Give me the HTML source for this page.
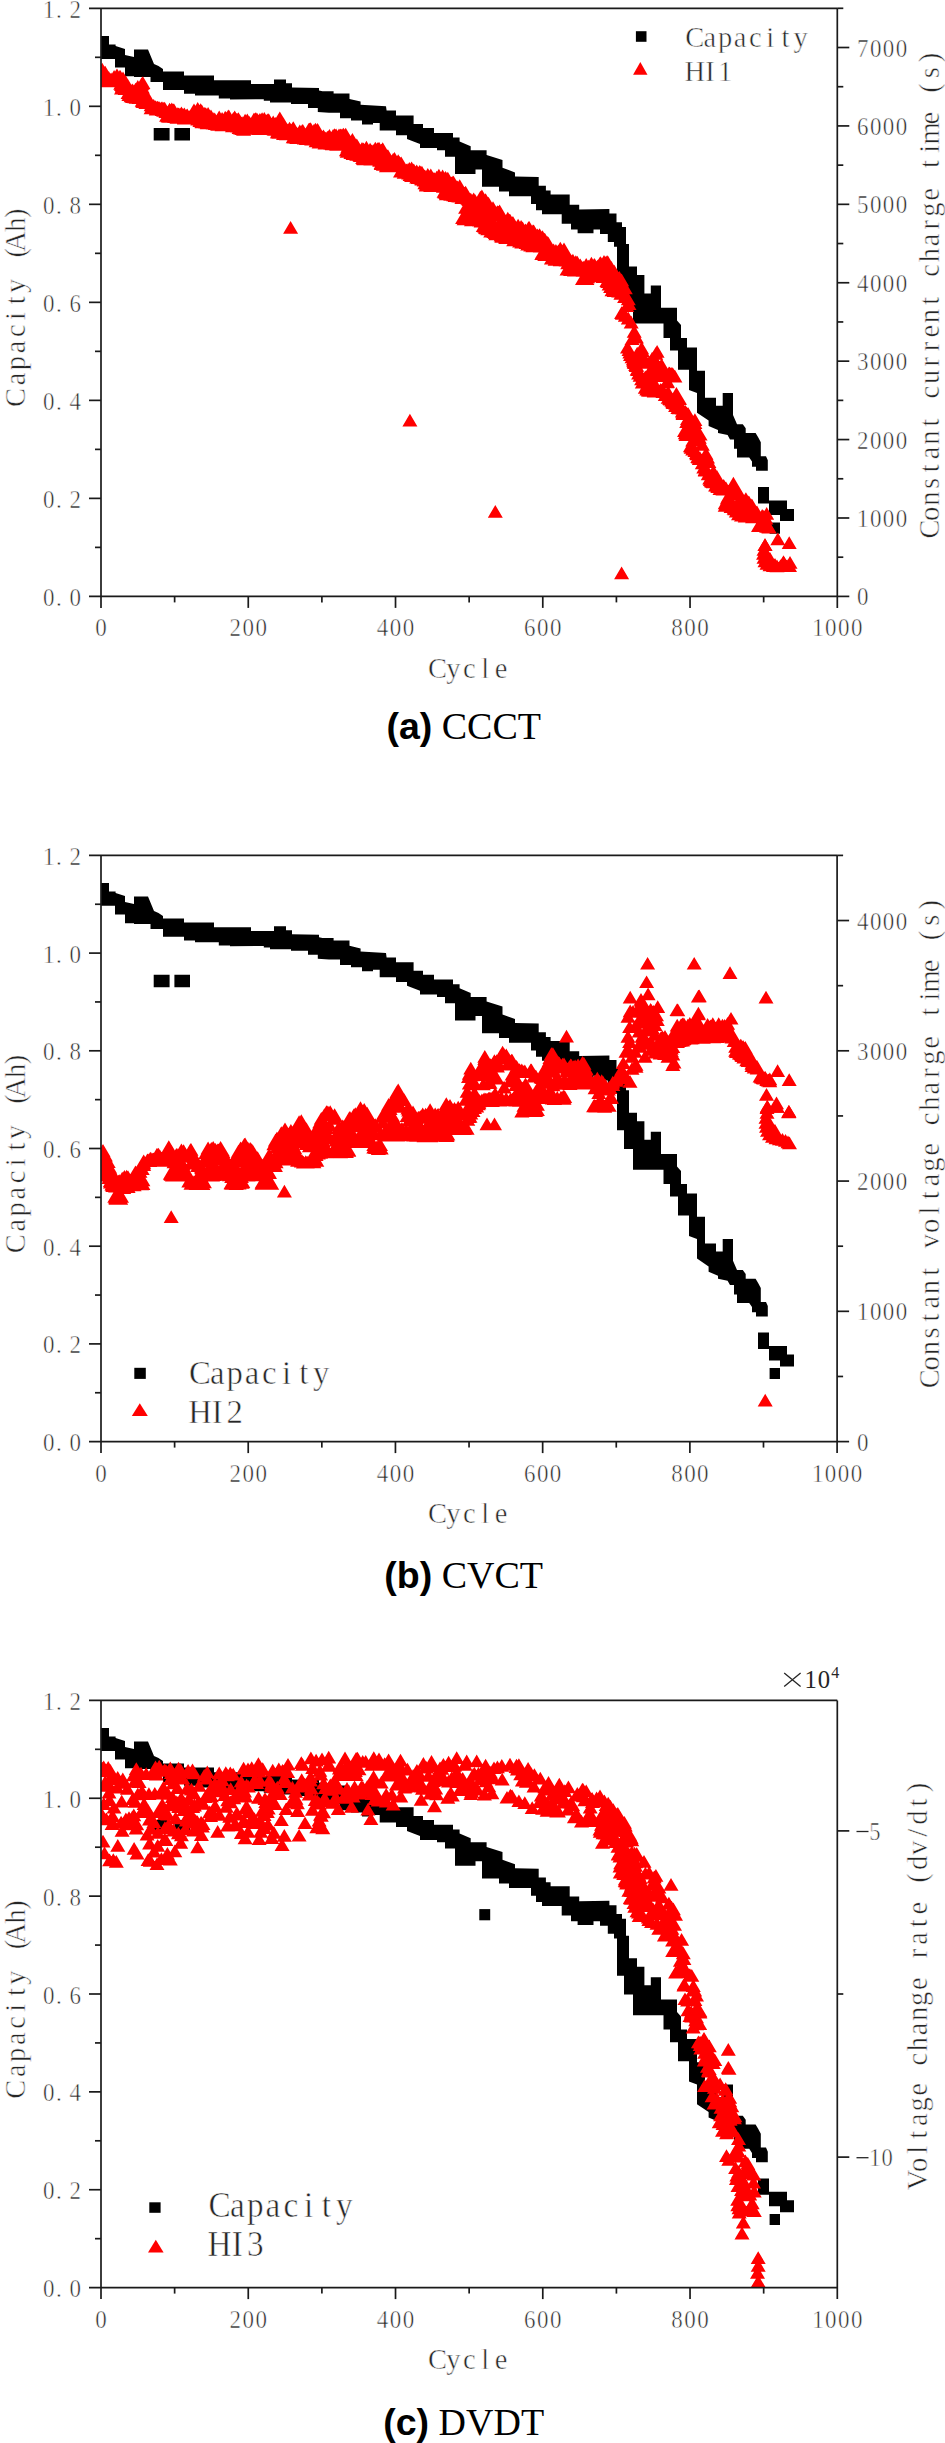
<!DOCTYPE html>
<html><head><meta charset="utf-8"><style>
html,body{margin:0;padding:0;background:#fff;width:945px;height:2443px;overflow:hidden}
text{white-space:pre} .t{stroke:#fff;stroke-width:0.55px;paint-order:fill stroke}
</style></head><body>
<svg width="945" height="2443" viewBox="0 0 945 2443" style="display:block">
<rect width="945" height="2443" fill="#fff"/>
<clipPath id="cp0"><rect x="101" y="8.3" width="736.3" height="588.1"/></clipPath>
<g clip-path="url(#cp0)">
<polygon points="101.0,35.9 109.0,35.9 109.0,44.6 115.6,44.6 115.6,46.0 125.0,49.0 125.0,55.0 134.0,57.0 134.0,49.4 148.0,49.4 154.0,64.0 158.5,66.0 163.0,69.0 163.0,71.6 184.0,71.6 184.0,75.5 214.0,75.5 214.0,80.3 251.0,80.3 251.0,84.0 274.0,84.0 274.0,79.4 286.0,79.4 286.0,83.3 292.0,83.3 292.0,87.5 319.0,88.0 319.0,90.5 322.5,91.3 333.6,91.3 333.6,93.6 349.5,93.6 349.5,99.0 360.6,101.6 360.6,104.8 386.0,106.3 386.6,110.6 396.0,110.6 396.0,115.4 413.6,115.4 413.6,124.0 423.0,124.0 423.0,128.0 434.0,128.0 434.0,132.9 453.0,132.9 453.0,137.6 459.6,137.6 459.6,141.6 470.7,146.3 470.7,150.3 486.6,150.3 486.6,155.0 502.5,160.0 502.5,167.8 515.0,172.5 515.0,176.5 538.7,177.0 538.7,185.7 545.9,185.7 545.9,190.5 550.6,190.5 550.6,194.4 569.7,194.4 569.7,204.8 579.2,204.8 579.2,209.5 609.4,209.0 609.4,213.5 616.5,213.5 616.5,222.2 622.0,222.2 622.0,227.0 626.0,227.0 626.0,244.0 629.0,244.0 629.0,266.5 637.0,266.5 637.0,275.0 644.4,275.0 644.4,293.5 650.8,293.5 650.8,285.6 661.0,285.6 661.0,307.8 677.0,307.8 677.0,320.5 681.0,325.0 681.0,338.0 687.0,338.0 687.0,347.5 697.0,347.5 697.0,370.8 705.0,370.8 705.0,397.8 716.0,397.8 716.0,405.7 722.7,405.7 722.7,393.0 733.0,393.0 733.0,415.0 737.0,424.2 742.8,424.2 745.7,428.3 745.7,433.0 755.6,433.0 758.0,437.0 760.8,442.3 760.8,456.2 766.0,456.2 767.8,460.3 767.8,470.8 756.0,470.8 756.0,466.7 752.0,466.7 752.0,461.5 749.2,457.4 737.0,457.4 737.0,448.7 734.0,448.7 734.0,439.4 730.0,439.4 727.6,435.0 718.0,433.0 718.0,430.0 708.6,426.0 708.6,420.6 697.0,412.7 697.0,393.0 689.0,390.0 689.0,369.7 678.0,369.7 678.0,350.6 670.0,350.6 670.0,338.0 663.5,338.0 663.5,323.6 633.0,323.6 633.0,303.0 624.0,303.0 624.0,284.0 617.0,284.0 617.0,246.8 614.0,246.8 614.0,242.0 607.8,242.0 607.8,234.0 600.0,234.0 600.0,229.4 593.5,229.4 593.5,233.3 577.6,233.3 577.6,229.4 571.0,229.4 571.0,223.8 561.7,223.8 561.7,214.3 542.0,214.3 542.0,210.3 536.0,210.3 536.0,204.0 531.0,204.0 531.0,196.3 509.0,196.3 509.0,191.6 499.0,191.6 499.0,186.8 482.0,186.8 482.0,169.4 475.5,169.4 475.5,174.0 455.0,174.0 455.0,156.7 445.0,156.7 445.0,150.3 437.0,150.3 437.0,148.0 420.0,148.0 420.0,144.0 407.0,139.0 407.0,135.2 396.0,135.2 396.0,130.5 379.7,130.5 379.7,123.0 373.0,123.0 373.0,124.6 362.0,124.6 362.0,120.6 351.0,120.6 351.0,118.3 340.0,118.3 340.0,112.7 329.0,112.7 317.8,112.0 317.8,108.0 308.0,108.0 308.0,104.0 291.0,104.0 291.0,102.4 270.0,102.4 270.0,100.8 263.8,100.8 263.8,99.2 230.0,99.4 230.0,98.6 218.8,98.6 218.8,95.4 195.0,95.4 195.0,93.8 184.0,93.8 184.0,90.0 163.0,90.0 163.0,82.0 150.5,82.0 150.5,77.0 134.0,77.0 134.0,76.3 125.0,76.3 125.0,67.6 115.0,67.6 115.0,58.9 101.0,58.9" fill="#000"/>
<path d="M153.7 128.0H169.6V140.6H153.7zM174.4 128.0H190.0V140.6H174.4zM758.0 487.0H769.0V503.4H758.0zM769.0 500.5H787.0V515.0H769.0zM780.0 509.0H794.0V521.0H780.0zM769.6 522.6H780.0V533.7H769.6z" fill="#000"/>
<polygon points="101.0,64.4 104.0,62.9 105.0,64.4 105.3,67.6 109.0,67.6 109.3,69.2 120.4,69.2 127.0,77.0 133.0,85.0 142.0,74.8 145.8,83.5 150.5,96.0 150.5,99.0 171.0,103.0 172.6,100.0 174.4,104.0 190.0,109.0 195.0,101.0 200.0,104.0 206.0,107.0 221.0,112.0 227.0,109.0 238.0,112.0 245.0,114.0 256.0,112.0 272.0,113.5 276.5,116.7 281.0,110.3 283.0,118.0 292.0,123.0 294.0,119.0 296.0,126.0 303.5,122.0 318.0,121.4 318.0,129.4 326.0,129.4 335.0,128.0 346.0,127.8 359.0,140.5 372.0,142.0 383.0,140.5 385.0,144.8 388.0,150.0 401.0,153.5 417.0,163.0 432.6,170.0 440.0,168.6 448.5,171.0 461.0,180.5 472.0,193.0 483.0,187.6 499.0,204.0 512.0,215.0 523.0,221.7 530.0,218.0 533.0,223.0 542.7,231.0 555.4,243.7 566.5,239.0 569.0,251.6 574.4,254.8 584.0,260.0 590.0,256.0 598.0,258.0 601.0,253.0 605.0,253.0 617.0,267.5 630.0,282.0 623.0,285.0 630.0,300.0 634.0,309.0 633.8,324.8 648.0,356.5 658.4,343.8 664.0,367.6 674.3,366.0 680.0,375.6 680.0,399.0 688.0,408.0 695.0,413.0 699.0,418.0 703.0,435.0 708.6,454.0 716.0,470.0 724.4,479.4 730.8,465.9 734.0,479.4 745.0,490.0 753.0,499.0 760.0,511.0 766.5,503.0 772.0,514.0 770.5,533.8 770.5,533.8 753.0,532.0 753.0,524.0 735.6,522.0 727.6,513.0 719.7,512.0 719.7,498.4 704.0,485.7 696.0,466.7 686.0,454.0 680.0,438.0 680.0,423.0 668.7,409.0 657.6,397.8 642.0,397.8 637.0,387.0 632.0,374.0 624.0,357.0 621.0,350.0 621.0,322.0 616.0,321.0 616.0,298.0 606.0,293.5 600.0,284.0 593.5,280.0 593.5,285.0 577.6,285.0 577.6,277.0 562.0,277.0 562.0,267.5 546.0,266.0 546.0,261.0 536.0,261.0 536.0,253.0 530.0,253.0 515.0,248.0 500.0,244.0 488.0,239.0 478.6,233.0 478.6,228.0 458.0,225.0 458.0,204.3 439.0,199.5 439.0,193.0 420.0,191.6 420.0,186.8 407.0,182.0 396.0,178.0 394.5,173.3 376.5,172.0 376.5,167.5 357.5,165.9 357.5,162.7 341.6,158.0 341.6,151.6 329.0,150.8 311.4,148.4 311.4,146.0 287.6,143.7 287.6,141.0 271.7,139.0 271.7,137.3 265.4,135.0 249.5,135.0 249.5,136.5 240.0,136.5 230.0,132.7 214.0,131.0 195.0,128.0 195.0,126.0 161.7,123.0 161.7,118.0 147.4,113.7 147.4,111.0 135.0,107.0 134.7,105.7 125.4,102.5 120.4,96.0 115.0,96.0 114.8,87.5 101.0,87.5" fill="#f00" opacity="0"/>
<path d="M101.5 69.9l7.5 12.7h-15.0zM102.2 62.8l7.5 12.7h-15.0zM103.0 66.1l7.5 12.7h-15.0zM103.0 72.7l7.5 12.7h-15.0zM103.7 70.6l7.5 12.7h-15.0zM103.7 65.2l7.5 12.7h-15.0zM104.5 71.9l7.5 12.7h-15.0zM104.5 72.9l7.5 12.7h-15.0zM105.2 65.7l7.5 12.7h-15.0zM105.9 72.8l7.5 12.7h-15.0zM107.4 74.3l7.5 12.7h-15.0zM107.4 74.5l7.5 12.7h-15.0zM108.2 74.6l7.5 12.7h-15.0zM108.9 71.3l7.5 12.7h-15.0zM108.9 73.3l7.5 12.7h-15.0zM111.1 72.5l7.5 12.7h-15.0zM112.6 73.9l7.5 12.7h-15.0zM112.6 74.6l7.5 12.7h-15.0zM113.3 72.8l7.5 12.7h-15.0zM114.1 70.0l7.5 12.7h-15.0zM114.1 72.0l7.5 12.7h-15.0zM114.8 72.6l7.5 12.7h-15.0zM114.8 71.8l7.5 12.7h-15.0zM114.8 72.6l7.5 12.7h-15.0zM116.3 69.6l7.5 12.7h-15.0zM116.3 74.3l7.5 12.7h-15.0zM117.0 72.6l7.5 12.7h-15.0zM117.0 68.4l7.5 12.7h-15.0zM117.8 74.6l7.5 12.7h-15.0zM117.8 73.6l7.5 12.7h-15.0zM118.5 72.8l7.5 12.7h-15.0zM119.3 73.7l7.5 12.7h-15.0zM120.0 69.7l7.5 12.7h-15.0zM120.7 77.1l7.5 12.7h-15.0zM120.7 70.7l7.5 12.7h-15.0zM121.5 78.4l7.5 12.7h-15.0zM121.5 81.7l7.5 12.7h-15.0zM122.2 79.5l7.5 12.7h-15.0zM123.0 71.5l7.5 12.7h-15.0zM123.7 74.4l7.5 12.7h-15.0zM124.4 77.4l7.5 12.7h-15.0zM124.4 74.8l7.5 12.7h-15.0zM125.2 78.2l7.5 12.7h-15.0zM125.2 82.2l7.5 12.7h-15.0zM125.9 75.8l7.5 12.7h-15.0zM126.7 78.3l7.5 12.7h-15.0zM127.4 80.4l7.5 12.7h-15.0zM128.1 86.2l7.5 12.7h-15.0zM128.1 79.2l7.5 12.7h-15.0zM128.9 88.2l7.5 12.7h-15.0zM129.6 82.2l7.5 12.7h-15.0zM130.4 83.8l7.5 12.7h-15.0zM131.1 89.5l7.5 12.7h-15.0zM131.8 84.2l7.5 12.7h-15.0zM131.8 89.4l7.5 12.7h-15.0zM132.6 90.2l7.5 12.7h-15.0zM132.6 83.5l7.5 12.7h-15.0zM133.3 88.6l7.5 12.7h-15.0zM134.1 86.5l7.5 12.7h-15.0zM134.8 90.6l7.5 12.7h-15.0zM135.5 82.8l7.5 12.7h-15.0zM135.5 89.7l7.5 12.7h-15.0zM136.3 91.0l7.5 12.7h-15.0zM137.8 89.2l7.5 12.7h-15.0zM137.8 80.1l7.5 12.7h-15.0zM138.5 84.6l7.5 12.7h-15.0zM139.2 81.8l7.5 12.7h-15.0zM139.2 91.2l7.5 12.7h-15.0zM140.0 80.5l7.5 12.7h-15.0zM140.7 90.9l7.5 12.7h-15.0zM141.5 77.6l7.5 12.7h-15.0zM142.2 80.7l7.5 12.7h-15.0zM142.2 76.9l7.5 12.7h-15.0zM142.2 94.0l7.5 12.7h-15.0zM142.9 76.2l7.5 12.7h-15.0zM142.9 95.1l7.5 12.7h-15.0zM143.7 95.2l7.5 12.7h-15.0zM143.7 94.4l7.5 12.7h-15.0zM144.4 85.2l7.5 12.7h-15.0zM145.2 95.3l7.5 12.7h-15.0zM145.9 90.8l7.5 12.7h-15.0zM145.9 96.2l7.5 12.7h-15.0zM146.6 90.2l7.5 12.7h-15.0zM147.4 95.0l7.5 12.7h-15.0zM147.4 95.9l7.5 12.7h-15.0zM148.1 94.9l7.5 12.7h-15.0zM148.9 93.0l7.5 12.7h-15.0zM149.6 95.3l7.5 12.7h-15.0zM151.1 98.6l7.5 12.7h-15.0zM151.1 101.6l7.5 12.7h-15.0zM152.6 101.3l7.5 12.7h-15.0zM152.6 100.8l7.5 12.7h-15.0zM153.3 99.0l7.5 12.7h-15.0zM153.3 99.2l7.5 12.7h-15.0zM154.0 99.7l7.5 12.7h-15.0zM154.0 99.5l7.5 12.7h-15.0zM155.5 100.2l7.5 12.7h-15.0zM156.3 101.7l7.5 12.7h-15.0zM156.3 102.9l7.5 12.7h-15.0zM157.0 101.0l7.5 12.7h-15.0zM157.7 100.8l7.5 12.7h-15.0zM157.7 102.5l7.5 12.7h-15.0zM158.5 101.4l7.5 12.7h-15.0zM158.5 101.9l7.5 12.7h-15.0zM159.2 102.0l7.5 12.7h-15.0zM159.2 101.3l7.5 12.7h-15.0zM160.0 102.6l7.5 12.7h-15.0zM160.7 102.3l7.5 12.7h-15.0zM161.4 101.4l7.5 12.7h-15.0zM162.2 102.5l7.5 12.7h-15.0zM162.2 103.4l7.5 12.7h-15.0zM162.9 103.1l7.5 12.7h-15.0zM162.9 101.6l7.5 12.7h-15.0zM163.7 104.1l7.5 12.7h-15.0zM163.7 102.4l7.5 12.7h-15.0zM164.4 101.8l7.5 12.7h-15.0zM164.4 103.6l7.5 12.7h-15.0zM165.1 102.4l7.5 12.7h-15.0zM165.1 103.0l7.5 12.7h-15.0zM165.9 105.2l7.5 12.7h-15.0zM166.6 109.0l7.5 12.7h-15.0zM167.4 108.1l7.5 12.7h-15.0zM167.4 108.6l7.5 12.7h-15.0zM168.1 109.9l7.5 12.7h-15.0zM169.6 102.7l7.5 12.7h-15.0zM169.6 110.1l7.5 12.7h-15.0zM171.1 109.7l7.5 12.7h-15.0zM171.1 104.0l7.5 12.7h-15.0zM171.8 102.4l7.5 12.7h-15.0zM171.8 109.9l7.5 12.7h-15.0zM172.5 110.0l7.5 12.7h-15.0zM173.3 106.1l7.5 12.7h-15.0zM173.3 103.4l7.5 12.7h-15.0zM174.0 107.4l7.5 12.7h-15.0zM174.0 103.5l7.5 12.7h-15.0zM174.8 110.3l7.5 12.7h-15.0zM174.8 108.7l7.5 12.7h-15.0zM175.5 109.6l7.5 12.7h-15.0zM175.5 109.4l7.5 12.7h-15.0zM176.2 109.3l7.5 12.7h-15.0zM177.0 111.0l7.5 12.7h-15.0zM177.7 107.3l7.5 12.7h-15.0zM178.5 107.5l7.5 12.7h-15.0zM179.2 110.8l7.5 12.7h-15.0zM179.2 109.1l7.5 12.7h-15.0zM179.9 107.7l7.5 12.7h-15.0zM180.7 110.8l7.5 12.7h-15.0zM181.4 106.6l7.5 12.7h-15.0zM182.2 110.4l7.5 12.7h-15.0zM182.2 110.8l7.5 12.7h-15.0zM182.9 108.2l7.5 12.7h-15.0zM182.9 109.9l7.5 12.7h-15.0zM183.6 108.6l7.5 12.7h-15.0zM183.6 109.9l7.5 12.7h-15.0zM184.4 111.2l7.5 12.7h-15.0zM184.4 107.6l7.5 12.7h-15.0zM184.4 111.7l7.5 12.7h-15.0zM185.1 111.5l7.5 12.7h-15.0zM185.9 110.9l7.5 12.7h-15.0zM186.6 108.9l7.5 12.7h-15.0zM186.6 110.8l7.5 12.7h-15.0zM187.3 108.4l7.5 12.7h-15.0zM188.1 111.5l7.5 12.7h-15.0zM188.8 110.7l7.5 12.7h-15.0zM189.6 110.3l7.5 12.7h-15.0zM190.3 110.9l7.5 12.7h-15.0zM190.3 110.5l7.5 12.7h-15.0zM191.0 111.4l7.5 12.7h-15.0zM191.8 109.6l7.5 12.7h-15.0zM191.8 107.7l7.5 12.7h-15.0zM192.5 109.3l7.5 12.7h-15.0zM193.3 110.9l7.5 12.7h-15.0zM193.3 111.8l7.5 12.7h-15.0zM194.0 103.4l7.5 12.7h-15.0zM194.7 111.4l7.5 12.7h-15.0zM194.7 110.7l7.5 12.7h-15.0zM197.0 111.2l7.5 12.7h-15.0zM197.7 103.8l7.5 12.7h-15.0zM197.7 102.0l7.5 12.7h-15.0zM197.7 112.7l7.5 12.7h-15.0zM198.4 110.2l7.5 12.7h-15.0zM198.4 111.6l7.5 12.7h-15.0zM199.2 108.0l7.5 12.7h-15.0zM199.2 112.8l7.5 12.7h-15.0zM199.9 114.4l7.5 12.7h-15.0zM200.7 111.0l7.5 12.7h-15.0zM200.7 103.3l7.5 12.7h-15.0zM200.7 113.5l7.5 12.7h-15.0zM201.4 109.7l7.5 12.7h-15.0zM201.4 104.7l7.5 12.7h-15.0zM201.4 114.6l7.5 12.7h-15.0zM202.1 105.4l7.5 12.7h-15.0zM202.1 104.9l7.5 12.7h-15.0zM202.1 115.6l7.5 12.7h-15.0zM202.9 110.1l7.5 12.7h-15.0zM203.6 109.9l7.5 12.7h-15.0zM203.6 113.5l7.5 12.7h-15.0zM204.4 107.1l7.5 12.7h-15.0zM204.4 114.5l7.5 12.7h-15.0zM205.1 107.7l7.5 12.7h-15.0zM205.1 109.2l7.5 12.7h-15.0zM205.1 114.2l7.5 12.7h-15.0zM205.8 115.7l7.5 12.7h-15.0zM205.8 107.2l7.5 12.7h-15.0zM205.8 114.3l7.5 12.7h-15.0zM206.6 114.7l7.5 12.7h-15.0zM207.3 116.5l7.5 12.7h-15.0zM208.1 109.2l7.5 12.7h-15.0zM208.1 107.0l7.5 12.7h-15.0zM208.8 111.8l7.5 12.7h-15.0zM208.8 114.8l7.5 12.7h-15.0zM209.5 116.1l7.5 12.7h-15.0zM210.3 116.3l7.5 12.7h-15.0zM211.0 109.6l7.5 12.7h-15.0zM211.0 115.4l7.5 12.7h-15.0zM211.8 111.6l7.5 12.7h-15.0zM213.2 112.8l7.5 12.7h-15.0zM213.2 112.3l7.5 12.7h-15.0zM213.2 116.8l7.5 12.7h-15.0zM214.0 115.4l7.5 12.7h-15.0zM214.7 113.7l7.5 12.7h-15.0zM214.7 112.5l7.5 12.7h-15.0zM214.7 116.5l7.5 12.7h-15.0zM215.5 117.2l7.5 12.7h-15.0zM217.7 118.0l7.5 12.7h-15.0zM218.4 118.0l7.5 12.7h-15.0zM218.4 113.0l7.5 12.7h-15.0zM218.4 118.1l7.5 12.7h-15.0zM219.2 110.6l7.5 12.7h-15.0zM219.2 116.8l7.5 12.7h-15.0zM219.9 111.8l7.5 12.7h-15.0zM220.6 115.6l7.5 12.7h-15.0zM221.4 118.1l7.5 12.7h-15.0zM222.1 112.0l7.5 12.7h-15.0zM222.1 118.6l7.5 12.7h-15.0zM222.9 114.5l7.5 12.7h-15.0zM222.9 117.6l7.5 12.7h-15.0zM223.6 117.5l7.5 12.7h-15.0zM224.3 117.4l7.5 12.7h-15.0zM225.1 111.0l7.5 12.7h-15.0zM225.8 111.3l7.5 12.7h-15.0zM225.8 117.3l7.5 12.7h-15.0zM226.6 112.7l7.5 12.7h-15.0zM226.6 117.8l7.5 12.7h-15.0zM228.0 110.0l7.5 12.7h-15.0zM228.8 113.8l7.5 12.7h-15.0zM228.8 109.6l7.5 12.7h-15.0zM228.8 117.1l7.5 12.7h-15.0zM230.3 118.5l7.5 12.7h-15.0zM231.7 117.6l7.5 12.7h-15.0zM232.5 114.2l7.5 12.7h-15.0zM232.5 119.5l7.5 12.7h-15.0zM233.2 112.3l7.5 12.7h-15.0zM234.0 117.6l7.5 12.7h-15.0zM234.0 112.1l7.5 12.7h-15.0zM234.0 118.1l7.5 12.7h-15.0zM234.7 110.6l7.5 12.7h-15.0zM234.7 119.0l7.5 12.7h-15.0zM235.4 112.7l7.5 12.7h-15.0zM236.9 113.2l7.5 12.7h-15.0zM236.9 113.0l7.5 12.7h-15.0zM236.9 119.6l7.5 12.7h-15.0zM237.7 119.8l7.5 12.7h-15.0zM237.7 113.2l7.5 12.7h-15.0zM238.4 112.3l7.5 12.7h-15.0zM239.1 113.6l7.5 12.7h-15.0zM239.1 121.3l7.5 12.7h-15.0zM239.9 114.5l7.5 12.7h-15.0zM239.9 119.6l7.5 12.7h-15.0zM240.6 121.9l7.5 12.7h-15.0zM241.4 117.1l7.5 12.7h-15.0zM241.4 121.2l7.5 12.7h-15.0zM242.1 116.2l7.5 12.7h-15.0zM242.1 116.2l7.5 12.7h-15.0zM242.1 122.2l7.5 12.7h-15.0zM242.8 117.6l7.5 12.7h-15.0zM243.6 123.1l7.5 12.7h-15.0zM244.3 121.7l7.5 12.7h-15.0zM245.1 113.8l7.5 12.7h-15.0zM245.1 120.7l7.5 12.7h-15.0zM245.8 120.6l7.5 12.7h-15.0zM247.3 118.1l7.5 12.7h-15.0zM247.3 113.5l7.5 12.7h-15.0zM248.0 121.4l7.5 12.7h-15.0zM248.8 120.5l7.5 12.7h-15.0zM249.5 116.1l7.5 12.7h-15.0zM249.5 120.2l7.5 12.7h-15.0zM251.0 118.3l7.5 12.7h-15.0zM251.0 121.6l7.5 12.7h-15.0zM251.7 120.6l7.5 12.7h-15.0zM252.5 117.6l7.5 12.7h-15.0zM253.2 116.1l7.5 12.7h-15.0zM253.2 121.3l7.5 12.7h-15.0zM253.9 112.7l7.5 12.7h-15.0zM254.7 113.2l7.5 12.7h-15.0zM254.7 122.0l7.5 12.7h-15.0zM255.4 122.1l7.5 12.7h-15.0zM255.4 112.3l7.5 12.7h-15.0zM255.4 122.1l7.5 12.7h-15.0zM256.2 119.7l7.5 12.7h-15.0zM256.9 112.5l7.5 12.7h-15.0zM257.6 114.9l7.5 12.7h-15.0zM257.6 120.9l7.5 12.7h-15.0zM258.4 114.6l7.5 12.7h-15.0zM258.4 120.0l7.5 12.7h-15.0zM259.1 122.2l7.5 12.7h-15.0zM259.9 112.9l7.5 12.7h-15.0zM259.9 121.8l7.5 12.7h-15.0zM260.6 119.9l7.5 12.7h-15.0zM261.3 116.2l7.5 12.7h-15.0zM261.3 113.4l7.5 12.7h-15.0zM262.1 113.8l7.5 12.7h-15.0zM262.1 112.2l7.5 12.7h-15.0zM262.1 120.0l7.5 12.7h-15.0zM262.8 114.5l7.5 12.7h-15.0zM263.6 113.5l7.5 12.7h-15.0zM264.3 119.5l7.5 12.7h-15.0zM264.3 111.9l7.5 12.7h-15.0zM264.3 120.4l7.5 12.7h-15.0zM265.0 121.0l7.5 12.7h-15.0zM265.8 117.9l7.5 12.7h-15.0zM265.8 120.8l7.5 12.7h-15.0zM266.5 119.9l7.5 12.7h-15.0zM267.3 113.4l7.5 12.7h-15.0zM267.3 122.2l7.5 12.7h-15.0zM268.7 113.3l7.5 12.7h-15.0zM269.5 120.4l7.5 12.7h-15.0zM270.2 118.2l7.5 12.7h-15.0zM270.2 120.9l7.5 12.7h-15.0zM271.0 118.1l7.5 12.7h-15.0zM271.0 121.8l7.5 12.7h-15.0zM272.4 120.8l7.5 12.7h-15.0zM273.2 115.5l7.5 12.7h-15.0zM273.9 120.6l7.5 12.7h-15.0zM273.9 118.7l7.5 12.7h-15.0zM273.9 122.6l7.5 12.7h-15.0zM274.7 123.0l7.5 12.7h-15.0zM274.7 122.9l7.5 12.7h-15.0zM275.4 117.0l7.5 12.7h-15.0zM276.1 119.7l7.5 12.7h-15.0zM276.1 122.1l7.5 12.7h-15.0zM276.9 118.4l7.5 12.7h-15.0zM277.6 125.0l7.5 12.7h-15.0zM277.6 125.7l7.5 12.7h-15.0zM278.4 119.0l7.5 12.7h-15.0zM279.1 126.1l7.5 12.7h-15.0zM279.8 121.1l7.5 12.7h-15.0zM279.8 111.4l7.5 12.7h-15.0zM279.8 126.1l7.5 12.7h-15.0zM280.6 119.5l7.5 12.7h-15.0zM280.6 125.0l7.5 12.7h-15.0zM282.1 123.0l7.5 12.7h-15.0zM282.1 117.8l7.5 12.7h-15.0zM282.1 125.8l7.5 12.7h-15.0zM282.8 117.2l7.5 12.7h-15.0zM283.5 117.4l7.5 12.7h-15.0zM283.5 127.2l7.5 12.7h-15.0zM284.3 119.1l7.5 12.7h-15.0zM284.3 126.0l7.5 12.7h-15.0zM285.0 124.3l7.5 12.7h-15.0zM285.0 127.2l7.5 12.7h-15.0zM285.8 126.4l7.5 12.7h-15.0zM286.5 127.6l7.5 12.7h-15.0zM287.2 123.5l7.5 12.7h-15.0zM288.0 123.7l7.5 12.7h-15.0zM288.7 123.8l7.5 12.7h-15.0zM288.7 123.4l7.5 12.7h-15.0zM288.7 125.5l7.5 12.7h-15.0zM289.5 125.2l7.5 12.7h-15.0zM289.5 121.8l7.5 12.7h-15.0zM289.5 125.8l7.5 12.7h-15.0zM290.2 123.7l7.5 12.7h-15.0zM290.9 123.6l7.5 12.7h-15.0zM290.9 125.9l7.5 12.7h-15.0zM290.9 126.8l7.5 12.7h-15.0zM293.2 121.3l7.5 12.7h-15.0zM293.2 130.6l7.5 12.7h-15.0zM293.9 122.3l7.5 12.7h-15.0zM294.6 130.4l7.5 12.7h-15.0zM294.6 130.8l7.5 12.7h-15.0zM295.4 127.6l7.5 12.7h-15.0zM296.1 126.9l7.5 12.7h-15.0zM296.1 130.9l7.5 12.7h-15.0zM296.9 127.1l7.5 12.7h-15.0zM296.9 131.2l7.5 12.7h-15.0zM297.6 128.0l7.5 12.7h-15.0zM297.6 129.8l7.5 12.7h-15.0zM298.3 129.3l7.5 12.7h-15.0zM298.3 129.7l7.5 12.7h-15.0zM299.1 128.3l7.5 12.7h-15.0zM299.8 124.4l7.5 12.7h-15.0zM300.6 128.3l7.5 12.7h-15.0zM300.6 127.1l7.5 12.7h-15.0zM301.3 130.3l7.5 12.7h-15.0zM301.3 129.4l7.5 12.7h-15.0zM302.0 124.4l7.5 12.7h-15.0zM302.0 130.1l7.5 12.7h-15.0zM302.8 124.0l7.5 12.7h-15.0zM303.5 127.4l7.5 12.7h-15.0zM303.5 130.9l7.5 12.7h-15.0zM304.3 131.9l7.5 12.7h-15.0zM305.0 130.0l7.5 12.7h-15.0zM306.5 132.4l7.5 12.7h-15.0zM307.2 131.3l7.5 12.7h-15.0zM308.0 124.3l7.5 12.7h-15.0zM308.7 123.0l7.5 12.7h-15.0zM308.7 130.8l7.5 12.7h-15.0zM309.4 126.1l7.5 12.7h-15.0zM309.4 122.8l7.5 12.7h-15.0zM310.2 122.3l7.5 12.7h-15.0zM310.2 131.5l7.5 12.7h-15.0zM310.9 122.8l7.5 12.7h-15.0zM311.7 132.7l7.5 12.7h-15.0zM312.4 125.2l7.5 12.7h-15.0zM312.4 130.6l7.5 12.7h-15.0zM313.1 126.6l7.5 12.7h-15.0zM313.1 125.4l7.5 12.7h-15.0zM313.1 131.6l7.5 12.7h-15.0zM313.9 123.9l7.5 12.7h-15.0zM313.9 125.5l7.5 12.7h-15.0zM314.6 131.4l7.5 12.7h-15.0zM315.4 122.8l7.5 12.7h-15.0zM316.1 132.3l7.5 12.7h-15.0zM316.1 123.8l7.5 12.7h-15.0zM316.1 134.5l7.5 12.7h-15.0zM316.8 134.0l7.5 12.7h-15.0zM316.8 134.1l7.5 12.7h-15.0zM317.6 133.1l7.5 12.7h-15.0zM317.6 123.1l7.5 12.7h-15.0zM318.3 129.7l7.5 12.7h-15.0zM318.3 131.6l7.5 12.7h-15.0zM318.3 134.1l7.5 12.7h-15.0zM319.1 135.8l7.5 12.7h-15.0zM319.8 129.7l7.5 12.7h-15.0zM320.5 129.2l7.5 12.7h-15.0zM322.0 133.3l7.5 12.7h-15.0zM322.8 130.4l7.5 12.7h-15.0zM323.5 129.5l7.5 12.7h-15.0zM323.5 132.3l7.5 12.7h-15.0zM323.5 135.6l7.5 12.7h-15.0zM324.2 135.1l7.5 12.7h-15.0zM325.0 131.5l7.5 12.7h-15.0zM325.0 136.9l7.5 12.7h-15.0zM325.7 131.9l7.5 12.7h-15.0zM325.7 135.0l7.5 12.7h-15.0zM326.5 135.6l7.5 12.7h-15.0zM327.2 131.0l7.5 12.7h-15.0zM327.9 131.0l7.5 12.7h-15.0zM327.9 136.6l7.5 12.7h-15.0zM329.4 129.1l7.5 12.7h-15.0zM329.4 129.6l7.5 12.7h-15.0zM329.4 136.1l7.5 12.7h-15.0zM330.2 135.5l7.5 12.7h-15.0zM330.9 137.0l7.5 12.7h-15.0zM331.6 135.9l7.5 12.7h-15.0zM331.6 135.5l7.5 12.7h-15.0zM332.4 137.6l7.5 12.7h-15.0zM333.1 129.1l7.5 12.7h-15.0zM333.9 133.1l7.5 12.7h-15.0zM333.9 135.8l7.5 12.7h-15.0zM334.6 128.2l7.5 12.7h-15.0zM334.6 136.4l7.5 12.7h-15.0zM335.3 136.5l7.5 12.7h-15.0zM336.1 132.8l7.5 12.7h-15.0zM336.1 128.5l7.5 12.7h-15.0zM336.1 136.7l7.5 12.7h-15.0zM336.8 137.9l7.5 12.7h-15.0zM336.8 131.8l7.5 12.7h-15.0zM336.8 138.1l7.5 12.7h-15.0zM338.3 134.5l7.5 12.7h-15.0zM338.3 130.3l7.5 12.7h-15.0zM338.3 136.0l7.5 12.7h-15.0zM339.0 128.6l7.5 12.7h-15.0zM339.8 135.4l7.5 12.7h-15.0zM339.8 137.3l7.5 12.7h-15.0zM340.5 128.4l7.5 12.7h-15.0zM341.3 133.0l7.5 12.7h-15.0zM341.3 128.7l7.5 12.7h-15.0zM342.0 138.1l7.5 12.7h-15.0zM342.7 128.5l7.5 12.7h-15.0zM342.7 129.8l7.5 12.7h-15.0zM343.5 129.8l7.5 12.7h-15.0zM343.5 127.7l7.5 12.7h-15.0zM343.5 138.1l7.5 12.7h-15.0zM344.2 137.7l7.5 12.7h-15.0zM345.0 135.9l7.5 12.7h-15.0zM345.0 137.0l7.5 12.7h-15.0zM345.7 130.2l7.5 12.7h-15.0zM345.7 127.8l7.5 12.7h-15.0zM346.4 143.5l7.5 12.7h-15.0zM347.2 135.3l7.5 12.7h-15.0zM347.2 145.1l7.5 12.7h-15.0zM347.9 140.1l7.5 12.7h-15.0zM348.7 144.3l7.5 12.7h-15.0zM349.4 134.0l7.5 12.7h-15.0zM350.1 140.6l7.5 12.7h-15.0zM350.1 144.4l7.5 12.7h-15.0zM350.9 146.2l7.5 12.7h-15.0zM351.6 145.8l7.5 12.7h-15.0zM352.4 133.1l7.5 12.7h-15.0zM353.1 139.6l7.5 12.7h-15.0zM353.1 147.2l7.5 12.7h-15.0zM353.8 135.6l7.5 12.7h-15.0zM354.6 146.7l7.5 12.7h-15.0zM354.6 147.3l7.5 12.7h-15.0zM355.3 143.1l7.5 12.7h-15.0zM355.3 147.3l7.5 12.7h-15.0zM356.8 138.6l7.5 12.7h-15.0zM356.8 148.1l7.5 12.7h-15.0zM358.3 140.9l7.5 12.7h-15.0zM358.3 146.6l7.5 12.7h-15.0zM359.0 143.0l7.5 12.7h-15.0zM359.0 146.8l7.5 12.7h-15.0zM359.8 146.4l7.5 12.7h-15.0zM359.8 144.1l7.5 12.7h-15.0zM359.8 148.5l7.5 12.7h-15.0zM360.5 149.2l7.5 12.7h-15.0zM361.2 144.1l7.5 12.7h-15.0zM361.2 149.4l7.5 12.7h-15.0zM362.0 141.9l7.5 12.7h-15.0zM362.0 142.6l7.5 12.7h-15.0zM362.0 149.2l7.5 12.7h-15.0zM362.7 146.9l7.5 12.7h-15.0zM362.7 151.3l7.5 12.7h-15.0zM363.5 142.5l7.5 12.7h-15.0zM363.5 144.3l7.5 12.7h-15.0zM363.5 152.4l7.5 12.7h-15.0zM364.2 151.5l7.5 12.7h-15.0zM364.2 152.5l7.5 12.7h-15.0zM364.9 147.9l7.5 12.7h-15.0zM364.9 152.3l7.5 12.7h-15.0zM365.7 150.0l7.5 12.7h-15.0zM365.7 145.2l7.5 12.7h-15.0zM365.7 151.3l7.5 12.7h-15.0zM366.4 151.1l7.5 12.7h-15.0zM366.4 140.7l7.5 12.7h-15.0zM366.4 151.5l7.5 12.7h-15.0zM367.9 146.1l7.5 12.7h-15.0zM367.9 144.3l7.5 12.7h-15.0zM367.9 151.8l7.5 12.7h-15.0zM369.4 151.6l7.5 12.7h-15.0zM370.1 142.8l7.5 12.7h-15.0zM370.1 152.2l7.5 12.7h-15.0zM370.9 144.4l7.5 12.7h-15.0zM370.9 152.7l7.5 12.7h-15.0zM371.6 144.5l7.5 12.7h-15.0zM373.1 144.2l7.5 12.7h-15.0zM373.8 149.1l7.5 12.7h-15.0zM373.8 145.0l7.5 12.7h-15.0zM373.8 152.9l7.5 12.7h-15.0zM374.6 144.3l7.5 12.7h-15.0zM375.3 141.7l7.5 12.7h-15.0zM375.3 152.1l7.5 12.7h-15.0zM376.0 146.5l7.5 12.7h-15.0zM376.8 145.8l7.5 12.7h-15.0zM377.5 142.2l7.5 12.7h-15.0zM379.0 144.0l7.5 12.7h-15.0zM379.0 141.8l7.5 12.7h-15.0zM379.7 154.0l7.5 12.7h-15.0zM379.7 153.0l7.5 12.7h-15.0zM380.5 153.4l7.5 12.7h-15.0zM381.2 156.2l7.5 12.7h-15.0zM381.2 143.7l7.5 12.7h-15.0zM381.2 157.2l7.5 12.7h-15.0zM382.0 149.7l7.5 12.7h-15.0zM382.7 145.5l7.5 12.7h-15.0zM382.7 142.3l7.5 12.7h-15.0zM383.4 144.7l7.5 12.7h-15.0zM383.4 145.2l7.5 12.7h-15.0zM383.4 158.1l7.5 12.7h-15.0zM384.2 153.9l7.5 12.7h-15.0zM384.9 151.2l7.5 12.7h-15.0zM384.9 157.6l7.5 12.7h-15.0zM385.7 150.0l7.5 12.7h-15.0zM386.4 157.9l7.5 12.7h-15.0zM386.4 159.5l7.5 12.7h-15.0zM387.1 158.9l7.5 12.7h-15.0zM387.9 150.2l7.5 12.7h-15.0zM387.9 149.3l7.5 12.7h-15.0zM388.6 152.7l7.5 12.7h-15.0zM389.4 157.5l7.5 12.7h-15.0zM389.4 154.4l7.5 12.7h-15.0zM389.4 159.2l7.5 12.7h-15.0zM390.1 158.7l7.5 12.7h-15.0zM390.8 154.7l7.5 12.7h-15.0zM390.8 157.7l7.5 12.7h-15.0zM392.3 159.4l7.5 12.7h-15.0zM393.1 153.0l7.5 12.7h-15.0zM393.1 158.3l7.5 12.7h-15.0zM393.8 159.2l7.5 12.7h-15.0zM394.5 152.1l7.5 12.7h-15.0zM394.5 159.2l7.5 12.7h-15.0zM396.0 159.1l7.5 12.7h-15.0zM396.8 159.5l7.5 12.7h-15.0zM397.5 156.0l7.5 12.7h-15.0zM397.5 158.9l7.5 12.7h-15.0zM398.2 154.3l7.5 12.7h-15.0zM398.2 158.1l7.5 12.7h-15.0zM399.7 156.3l7.5 12.7h-15.0zM400.5 164.7l7.5 12.7h-15.0zM401.2 156.4l7.5 12.7h-15.0zM401.9 163.6l7.5 12.7h-15.0zM403.4 162.3l7.5 12.7h-15.0zM403.4 163.9l7.5 12.7h-15.0zM404.2 166.1l7.5 12.7h-15.0zM405.6 164.1l7.5 12.7h-15.0zM405.6 165.7l7.5 12.7h-15.0zM406.4 163.7l7.5 12.7h-15.0zM407.1 163.2l7.5 12.7h-15.0zM407.9 166.0l7.5 12.7h-15.0zM408.6 166.7l7.5 12.7h-15.0zM409.3 163.7l7.5 12.7h-15.0zM409.3 162.1l7.5 12.7h-15.0zM410.1 166.4l7.5 12.7h-15.0zM410.1 168.4l7.5 12.7h-15.0zM411.6 167.6l7.5 12.7h-15.0zM411.6 161.6l7.5 12.7h-15.0zM411.6 169.2l7.5 12.7h-15.0zM412.3 168.5l7.5 12.7h-15.0zM412.3 167.6l7.5 12.7h-15.0zM413.0 168.9l7.5 12.7h-15.0zM413.0 167.4l7.5 12.7h-15.0zM413.8 163.4l7.5 12.7h-15.0zM413.8 168.8l7.5 12.7h-15.0zM414.5 168.5l7.5 12.7h-15.0zM416.0 165.9l7.5 12.7h-15.0zM416.7 164.5l7.5 12.7h-15.0zM416.7 165.8l7.5 12.7h-15.0zM416.7 170.8l7.5 12.7h-15.0zM417.5 167.1l7.5 12.7h-15.0zM417.5 169.3l7.5 12.7h-15.0zM418.2 166.5l7.5 12.7h-15.0zM418.2 171.2l7.5 12.7h-15.0zM419.0 169.6l7.5 12.7h-15.0zM419.0 170.0l7.5 12.7h-15.0zM419.7 167.8l7.5 12.7h-15.0zM419.7 165.0l7.5 12.7h-15.0zM420.4 165.8l7.5 12.7h-15.0zM420.4 166.8l7.5 12.7h-15.0zM420.4 170.4l7.5 12.7h-15.0zM421.2 171.8l7.5 12.7h-15.0zM421.9 165.8l7.5 12.7h-15.0zM421.9 167.3l7.5 12.7h-15.0zM421.9 172.9l7.5 12.7h-15.0zM424.1 173.9l7.5 12.7h-15.0zM424.9 169.6l7.5 12.7h-15.0zM424.9 176.5l7.5 12.7h-15.0zM426.4 177.7l7.5 12.7h-15.0zM426.4 178.7l7.5 12.7h-15.0zM427.8 174.7l7.5 12.7h-15.0zM427.8 168.0l7.5 12.7h-15.0zM427.8 177.3l7.5 12.7h-15.0zM428.6 178.4l7.5 12.7h-15.0zM428.6 172.0l7.5 12.7h-15.0zM428.6 177.2l7.5 12.7h-15.0zM429.3 177.5l7.5 12.7h-15.0zM430.1 177.6l7.5 12.7h-15.0zM430.1 172.3l7.5 12.7h-15.0zM430.8 178.8l7.5 12.7h-15.0zM430.8 168.5l7.5 12.7h-15.0zM430.8 179.3l7.5 12.7h-15.0zM431.5 176.5l7.5 12.7h-15.0zM433.0 172.3l7.5 12.7h-15.0zM433.0 171.7l7.5 12.7h-15.0zM433.0 177.7l7.5 12.7h-15.0zM433.8 175.5l7.5 12.7h-15.0zM434.5 172.2l7.5 12.7h-15.0zM434.5 178.0l7.5 12.7h-15.0zM436.0 177.9l7.5 12.7h-15.0zM436.7 170.8l7.5 12.7h-15.0zM437.5 176.2l7.5 12.7h-15.0zM438.2 171.5l7.5 12.7h-15.0zM438.9 168.7l7.5 12.7h-15.0zM439.7 176.7l7.5 12.7h-15.0zM439.7 178.9l7.5 12.7h-15.0zM440.4 178.1l7.5 12.7h-15.0zM441.2 176.9l7.5 12.7h-15.0zM441.9 173.0l7.5 12.7h-15.0zM442.6 174.4l7.5 12.7h-15.0zM442.6 169.5l7.5 12.7h-15.0zM443.4 180.0l7.5 12.7h-15.0zM444.1 178.3l7.5 12.7h-15.0zM444.1 185.1l7.5 12.7h-15.0zM444.9 172.9l7.5 12.7h-15.0zM444.9 185.7l7.5 12.7h-15.0zM445.6 170.9l7.5 12.7h-15.0zM445.6 185.8l7.5 12.7h-15.0zM446.3 186.3l7.5 12.7h-15.0zM446.3 187.5l7.5 12.7h-15.0zM447.1 187.3l7.5 12.7h-15.0zM447.8 171.7l7.5 12.7h-15.0zM448.6 182.2l7.5 12.7h-15.0zM449.3 186.7l7.5 12.7h-15.0zM450.0 186.6l7.5 12.7h-15.0zM450.8 184.1l7.5 12.7h-15.0zM450.8 188.0l7.5 12.7h-15.0zM451.5 176.4l7.5 12.7h-15.0zM452.3 183.4l7.5 12.7h-15.0zM452.3 177.1l7.5 12.7h-15.0zM452.3 186.7l7.5 12.7h-15.0zM453.0 175.4l7.5 12.7h-15.0zM453.0 187.3l7.5 12.7h-15.0zM453.7 176.0l7.5 12.7h-15.0zM453.7 178.3l7.5 12.7h-15.0zM453.7 188.6l7.5 12.7h-15.0zM454.5 183.3l7.5 12.7h-15.0zM455.2 182.6l7.5 12.7h-15.0zM455.2 189.3l7.5 12.7h-15.0zM456.0 180.1l7.5 12.7h-15.0zM456.7 181.5l7.5 12.7h-15.0zM456.7 180.6l7.5 12.7h-15.0zM456.7 189.3l7.5 12.7h-15.0zM457.4 180.6l7.5 12.7h-15.0zM457.4 188.9l7.5 12.7h-15.0zM458.2 189.5l7.5 12.7h-15.0zM458.9 188.6l7.5 12.7h-15.0zM459.7 189.9l7.5 12.7h-15.0zM459.7 179.3l7.5 12.7h-15.0zM460.4 188.6l7.5 12.7h-15.0zM461.1 184.3l7.5 12.7h-15.0zM461.9 184.8l7.5 12.7h-15.0zM461.9 191.4l7.5 12.7h-15.0zM462.6 211.2l7.5 12.7h-15.0zM463.4 210.5l7.5 12.7h-15.0zM464.1 212.5l7.5 12.7h-15.0zM464.8 187.3l7.5 12.7h-15.0zM465.6 201.0l7.5 12.7h-15.0zM465.6 185.7l7.5 12.7h-15.0zM466.3 189.3l7.5 12.7h-15.0zM466.3 211.2l7.5 12.7h-15.0zM467.1 191.2l7.5 12.7h-15.0zM467.8 210.9l7.5 12.7h-15.0zM467.8 191.7l7.5 12.7h-15.0zM467.8 212.0l7.5 12.7h-15.0zM468.5 192.6l7.5 12.7h-15.0zM468.5 211.8l7.5 12.7h-15.0zM469.3 197.2l7.5 12.7h-15.0zM469.3 193.4l7.5 12.7h-15.0zM469.3 212.2l7.5 12.7h-15.0zM470.0 210.9l7.5 12.7h-15.0zM470.8 194.6l7.5 12.7h-15.0zM470.8 192.8l7.5 12.7h-15.0zM471.5 198.5l7.5 12.7h-15.0zM471.5 213.6l7.5 12.7h-15.0zM472.2 194.5l7.5 12.7h-15.0zM472.2 212.2l7.5 12.7h-15.0zM473.0 212.3l7.5 12.7h-15.0zM473.7 192.4l7.5 12.7h-15.0zM473.7 212.7l7.5 12.7h-15.0zM474.5 206.4l7.5 12.7h-15.0zM474.5 195.3l7.5 12.7h-15.0zM474.5 213.5l7.5 12.7h-15.0zM475.2 194.3l7.5 12.7h-15.0zM475.2 194.8l7.5 12.7h-15.0zM475.2 213.0l7.5 12.7h-15.0zM476.7 198.4l7.5 12.7h-15.0zM476.7 213.5l7.5 12.7h-15.0zM477.4 196.2l7.5 12.7h-15.0zM478.2 201.6l7.5 12.7h-15.0zM478.9 210.8l7.5 12.7h-15.0zM478.9 212.3l7.5 12.7h-15.0zM479.6 213.7l7.5 12.7h-15.0zM480.4 198.6l7.5 12.7h-15.0zM480.4 190.8l7.5 12.7h-15.0zM480.4 213.0l7.5 12.7h-15.0zM481.1 196.3l7.5 12.7h-15.0zM481.1 214.8l7.5 12.7h-15.0zM481.9 189.6l7.5 12.7h-15.0zM482.6 214.6l7.5 12.7h-15.0zM483.3 200.1l7.5 12.7h-15.0zM483.3 219.2l7.5 12.7h-15.0zM484.1 210.0l7.5 12.7h-15.0zM484.1 219.4l7.5 12.7h-15.0zM484.8 204.0l7.5 12.7h-15.0zM484.8 220.1l7.5 12.7h-15.0zM485.6 196.0l7.5 12.7h-15.0zM485.6 193.3l7.5 12.7h-15.0zM485.6 221.4l7.5 12.7h-15.0zM486.3 207.3l7.5 12.7h-15.0zM486.3 221.5l7.5 12.7h-15.0zM487.0 207.4l7.5 12.7h-15.0zM487.0 221.3l7.5 12.7h-15.0zM487.8 222.6l7.5 12.7h-15.0zM487.8 221.5l7.5 12.7h-15.0zM488.5 196.7l7.5 12.7h-15.0zM490.7 224.7l7.5 12.7h-15.0zM491.5 213.6l7.5 12.7h-15.0zM492.2 224.4l7.5 12.7h-15.0zM493.0 221.0l7.5 12.7h-15.0zM493.0 201.3l7.5 12.7h-15.0zM493.7 203.9l7.5 12.7h-15.0zM493.7 225.1l7.5 12.7h-15.0zM494.4 223.6l7.5 12.7h-15.0zM494.4 225.3l7.5 12.7h-15.0zM495.2 226.3l7.5 12.7h-15.0zM495.9 207.7l7.5 12.7h-15.0zM495.9 227.5l7.5 12.7h-15.0zM496.7 226.6l7.5 12.7h-15.0zM497.4 205.2l7.5 12.7h-15.0zM497.4 226.2l7.5 12.7h-15.0zM498.1 219.1l7.5 12.7h-15.0zM498.1 205.9l7.5 12.7h-15.0zM498.1 227.1l7.5 12.7h-15.0zM498.9 224.8l7.5 12.7h-15.0zM498.9 227.1l7.5 12.7h-15.0zM499.6 204.5l7.5 12.7h-15.0zM500.4 208.0l7.5 12.7h-15.0zM501.1 224.6l7.5 12.7h-15.0zM501.1 208.7l7.5 12.7h-15.0zM501.1 228.7l7.5 12.7h-15.0zM501.8 221.9l7.5 12.7h-15.0zM501.8 230.1l7.5 12.7h-15.0zM502.6 213.1l7.5 12.7h-15.0zM503.3 229.8l7.5 12.7h-15.0zM505.5 230.8l7.5 12.7h-15.0zM506.3 216.1l7.5 12.7h-15.0zM506.3 231.2l7.5 12.7h-15.0zM507.0 218.4l7.5 12.7h-15.0zM507.8 211.7l7.5 12.7h-15.0zM507.8 229.8l7.5 12.7h-15.0zM509.2 230.6l7.5 12.7h-15.0zM510.0 227.8l7.5 12.7h-15.0zM510.0 213.7l7.5 12.7h-15.0zM510.0 230.9l7.5 12.7h-15.0zM510.7 216.9l7.5 12.7h-15.0zM511.5 225.6l7.5 12.7h-15.0zM512.2 218.5l7.5 12.7h-15.0zM512.9 216.0l7.5 12.7h-15.0zM512.9 218.4l7.5 12.7h-15.0zM513.7 233.5l7.5 12.7h-15.0zM514.4 232.4l7.5 12.7h-15.0zM515.2 233.5l7.5 12.7h-15.0zM516.6 230.3l7.5 12.7h-15.0zM516.6 232.6l7.5 12.7h-15.0zM517.4 221.6l7.5 12.7h-15.0zM517.4 220.9l7.5 12.7h-15.0zM518.1 219.7l7.5 12.7h-15.0zM518.1 218.8l7.5 12.7h-15.0zM518.9 228.5l7.5 12.7h-15.0zM518.9 233.0l7.5 12.7h-15.0zM519.6 227.7l7.5 12.7h-15.0zM519.6 234.9l7.5 12.7h-15.0zM520.3 234.3l7.5 12.7h-15.0zM521.1 219.9l7.5 12.7h-15.0zM521.1 233.6l7.5 12.7h-15.0zM521.8 235.8l7.5 12.7h-15.0zM522.6 221.5l7.5 12.7h-15.0zM524.0 233.4l7.5 12.7h-15.0zM524.8 234.2l7.5 12.7h-15.0zM525.5 223.6l7.5 12.7h-15.0zM525.5 235.0l7.5 12.7h-15.0zM526.3 236.2l7.5 12.7h-15.0zM527.7 228.7l7.5 12.7h-15.0zM527.7 237.9l7.5 12.7h-15.0zM528.5 233.1l7.5 12.7h-15.0zM528.5 221.3l7.5 12.7h-15.0zM529.2 220.9l7.5 12.7h-15.0zM530.7 238.8l7.5 12.7h-15.0zM531.4 238.0l7.5 12.7h-15.0zM531.4 237.1l7.5 12.7h-15.0zM532.2 238.3l7.5 12.7h-15.0zM532.9 226.2l7.5 12.7h-15.0zM532.9 224.6l7.5 12.7h-15.0zM532.9 239.6l7.5 12.7h-15.0zM533.7 224.5l7.5 12.7h-15.0zM533.7 238.8l7.5 12.7h-15.0zM534.4 239.3l7.5 12.7h-15.0zM535.1 229.8l7.5 12.7h-15.0zM535.1 239.0l7.5 12.7h-15.0zM536.6 232.5l7.5 12.7h-15.0zM537.4 228.4l7.5 12.7h-15.0zM537.4 229.4l7.5 12.7h-15.0zM537.4 238.1l7.5 12.7h-15.0zM538.1 236.2l7.5 12.7h-15.0zM538.1 239.0l7.5 12.7h-15.0zM538.8 229.5l7.5 12.7h-15.0zM539.6 228.3l7.5 12.7h-15.0zM539.6 238.8l7.5 12.7h-15.0zM540.3 239.3l7.5 12.7h-15.0zM540.3 230.6l7.5 12.7h-15.0zM540.3 239.8l7.5 12.7h-15.0zM541.1 238.1l7.5 12.7h-15.0zM541.8 247.4l7.5 12.7h-15.0zM542.5 230.3l7.5 12.7h-15.0zM542.5 245.9l7.5 12.7h-15.0zM543.3 238.8l7.5 12.7h-15.0zM543.3 235.0l7.5 12.7h-15.0zM544.8 235.8l7.5 12.7h-15.0zM544.8 232.8l7.5 12.7h-15.0zM544.8 248.2l7.5 12.7h-15.0zM545.5 246.8l7.5 12.7h-15.0zM546.2 240.7l7.5 12.7h-15.0zM547.0 242.0l7.5 12.7h-15.0zM547.7 236.1l7.5 12.7h-15.0zM548.5 244.0l7.5 12.7h-15.0zM548.5 237.1l7.5 12.7h-15.0zM549.2 242.4l7.5 12.7h-15.0zM549.2 246.4l7.5 12.7h-15.0zM549.9 241.0l7.5 12.7h-15.0zM551.4 251.8l7.5 12.7h-15.0zM552.9 248.0l7.5 12.7h-15.0zM553.6 249.7l7.5 12.7h-15.0zM553.6 243.6l7.5 12.7h-15.0zM553.6 251.9l7.5 12.7h-15.0zM554.4 251.4l7.5 12.7h-15.0zM555.1 248.6l7.5 12.7h-15.0zM555.1 246.7l7.5 12.7h-15.0zM555.1 253.0l7.5 12.7h-15.0zM555.9 245.9l7.5 12.7h-15.0zM555.9 243.9l7.5 12.7h-15.0zM555.9 252.9l7.5 12.7h-15.0zM557.3 250.4l7.5 12.7h-15.0zM558.1 244.8l7.5 12.7h-15.0zM558.8 250.1l7.5 12.7h-15.0zM558.8 245.2l7.5 12.7h-15.0zM559.6 244.4l7.5 12.7h-15.0zM560.3 249.3l7.5 12.7h-15.0zM560.3 241.7l7.5 12.7h-15.0zM560.3 253.5l7.5 12.7h-15.0zM561.8 244.2l7.5 12.7h-15.0zM562.5 253.3l7.5 12.7h-15.0zM563.3 244.1l7.5 12.7h-15.0zM564.0 242.6l7.5 12.7h-15.0zM566.2 253.8l7.5 12.7h-15.0zM567.0 262.9l7.5 12.7h-15.0zM567.7 256.6l7.5 12.7h-15.0zM568.4 252.6l7.5 12.7h-15.0zM568.4 261.9l7.5 12.7h-15.0zM569.2 252.2l7.5 12.7h-15.0zM569.2 262.0l7.5 12.7h-15.0zM570.7 261.7l7.5 12.7h-15.0zM570.7 263.2l7.5 12.7h-15.0zM571.4 254.8l7.5 12.7h-15.0zM572.1 262.9l7.5 12.7h-15.0zM572.9 261.5l7.5 12.7h-15.0zM572.9 253.8l7.5 12.7h-15.0zM572.9 263.3l7.5 12.7h-15.0zM574.4 263.7l7.5 12.7h-15.0zM575.1 257.3l7.5 12.7h-15.0zM575.1 263.3l7.5 12.7h-15.0zM575.8 255.3l7.5 12.7h-15.0zM576.6 263.5l7.5 12.7h-15.0zM577.3 260.3l7.5 12.7h-15.0zM577.3 255.7l7.5 12.7h-15.0zM578.1 257.4l7.5 12.7h-15.0zM578.1 262.8l7.5 12.7h-15.0zM578.8 263.6l7.5 12.7h-15.0zM579.5 263.7l7.5 12.7h-15.0zM580.3 258.4l7.5 12.7h-15.0zM581.0 261.8l7.5 12.7h-15.0zM581.0 263.2l7.5 12.7h-15.0zM582.5 272.3l7.5 12.7h-15.0zM583.2 264.1l7.5 12.7h-15.0zM583.2 260.8l7.5 12.7h-15.0zM583.2 271.7l7.5 12.7h-15.0zM584.0 261.8l7.5 12.7h-15.0zM584.0 261.5l7.5 12.7h-15.0zM584.0 270.9l7.5 12.7h-15.0zM585.5 267.8l7.5 12.7h-15.0zM585.5 262.7l7.5 12.7h-15.0zM585.5 270.5l7.5 12.7h-15.0zM586.2 258.0l7.5 12.7h-15.0zM586.9 272.2l7.5 12.7h-15.0zM587.7 270.6l7.5 12.7h-15.0zM588.4 259.8l7.5 12.7h-15.0zM589.2 265.9l7.5 12.7h-15.0zM589.9 265.4l7.5 12.7h-15.0zM589.9 267.7l7.5 12.7h-15.0zM590.6 261.0l7.5 12.7h-15.0zM590.6 266.1l7.5 12.7h-15.0zM591.4 259.5l7.5 12.7h-15.0zM591.4 256.8l7.5 12.7h-15.0zM592.1 260.6l7.5 12.7h-15.0zM592.1 267.0l7.5 12.7h-15.0zM592.9 268.7l7.5 12.7h-15.0zM593.6 267.2l7.5 12.7h-15.0zM594.3 257.9l7.5 12.7h-15.0zM595.1 259.1l7.5 12.7h-15.0zM595.8 260.4l7.5 12.7h-15.0zM595.8 268.7l7.5 12.7h-15.0zM596.6 262.0l7.5 12.7h-15.0zM596.6 269.1l7.5 12.7h-15.0zM597.3 260.1l7.5 12.7h-15.0zM597.3 267.2l7.5 12.7h-15.0zM598.0 259.6l7.5 12.7h-15.0zM598.0 259.4l7.5 12.7h-15.0zM598.0 265.4l7.5 12.7h-15.0zM598.8 265.5l7.5 12.7h-15.0zM599.5 258.5l7.5 12.7h-15.0zM599.5 257.4l7.5 12.7h-15.0zM600.3 257.9l7.5 12.7h-15.0zM600.3 256.2l7.5 12.7h-15.0zM601.0 256.9l7.5 12.7h-15.0zM601.7 269.4l7.5 12.7h-15.0zM602.5 269.5l7.5 12.7h-15.0zM603.2 270.2l7.5 12.7h-15.0zM604.0 255.1l7.5 12.7h-15.0zM604.0 269.8l7.5 12.7h-15.0zM604.7 262.2l7.5 12.7h-15.0zM605.4 270.2l7.5 12.7h-15.0zM606.2 255.5l7.5 12.7h-15.0zM606.9 266.7l7.5 12.7h-15.0zM606.9 258.4l7.5 12.7h-15.0zM606.9 274.2l7.5 12.7h-15.0zM607.7 255.2l7.5 12.7h-15.0zM607.7 275.2l7.5 12.7h-15.0zM608.4 265.1l7.5 12.7h-15.0zM609.1 277.7l7.5 12.7h-15.0zM609.9 259.5l7.5 12.7h-15.0zM609.9 277.9l7.5 12.7h-15.0zM610.6 260.5l7.5 12.7h-15.0zM610.6 280.4l7.5 12.7h-15.0zM611.4 269.3l7.5 12.7h-15.0zM611.4 261.0l7.5 12.7h-15.0zM612.1 279.6l7.5 12.7h-15.0zM612.8 264.4l7.5 12.7h-15.0zM613.6 273.6l7.5 12.7h-15.0zM613.6 281.3l7.5 12.7h-15.0zM614.3 264.8l7.5 12.7h-15.0zM290.6 221.0l7.5 12.7h-15.0zM409.9 413.8l7.5 12.7h-15.0zM495.3 505.0l7.5 12.7h-15.0zM621.6 566.6l7.5 12.7h-15.0zM777.8 532.5l7.5 12.7h-15.0zM789.2 536.3l7.5 12.7h-15.0zM765.0 538.3l7.5 12.7h-15.0zM783.5 555.4l7.5 12.7h-15.0zM770.0 552.0l7.5 12.7h-15.0zM790.0 556.0l7.5 12.7h-15.0zM775.0 558.0l7.5 12.7h-15.0z" fill="#f00"/>
<path d="M612.0 279.0l7.5 12.7h-15.0zM612.0 270.2l7.5 12.7h-15.0zM612.0 283.6l7.5 12.7h-15.0zM612.7 269.3l7.5 12.7h-15.0zM613.5 268.2l7.5 12.7h-15.0zM613.5 270.1l7.5 12.7h-15.0zM614.2 282.8l7.5 12.7h-15.0zM614.2 284.2l7.5 12.7h-15.0zM615.7 268.8l7.5 12.7h-15.0zM616.4 284.1l7.5 12.7h-15.0zM617.2 270.6l7.5 12.7h-15.0zM617.9 284.2l7.5 12.7h-15.0zM618.7 273.7l7.5 12.7h-15.0zM618.7 284.8l7.5 12.7h-15.0zM619.4 270.9l7.5 12.7h-15.0zM620.1 282.9l7.5 12.7h-15.0zM620.9 287.1l7.5 12.7h-15.0zM621.6 281.3l7.5 12.7h-15.0zM621.6 273.5l7.5 12.7h-15.0zM621.6 306.3l7.5 12.7h-15.0zM622.4 307.0l7.5 12.7h-15.0zM623.1 278.1l7.5 12.7h-15.0zM623.1 307.0l7.5 12.7h-15.0zM624.6 290.4l7.5 12.7h-15.0zM625.3 281.6l7.5 12.7h-15.0zM625.3 309.1l7.5 12.7h-15.0zM626.8 299.4l7.5 12.7h-15.0zM627.5 340.7l7.5 12.7h-15.0zM628.3 311.7l7.5 12.7h-15.0zM628.3 292.6l7.5 12.7h-15.0zM629.0 297.3l7.5 12.7h-15.0zM629.0 343.3l7.5 12.7h-15.0zM629.8 345.9l7.5 12.7h-15.0zM630.5 348.3l7.5 12.7h-15.0zM631.2 315.7l7.5 12.7h-15.0zM632.0 332.4l7.5 12.7h-15.0zM632.0 350.6l7.5 12.7h-15.0zM633.5 353.9l7.5 12.7h-15.0zM633.5 352.4l7.5 12.7h-15.0zM634.2 355.9l7.5 12.7h-15.0zM634.2 325.1l7.5 12.7h-15.0zM634.2 354.9l7.5 12.7h-15.0zM634.9 356.2l7.5 12.7h-15.0zM635.7 358.2l7.5 12.7h-15.0zM636.4 358.5l7.5 12.7h-15.0zM636.4 330.7l7.5 12.7h-15.0zM636.4 359.2l7.5 12.7h-15.0zM637.2 346.8l7.5 12.7h-15.0zM637.2 362.7l7.5 12.7h-15.0zM637.9 356.0l7.5 12.7h-15.0zM637.9 363.3l7.5 12.7h-15.0zM638.6 366.8l7.5 12.7h-15.0zM639.4 366.9l7.5 12.7h-15.0zM640.1 369.0l7.5 12.7h-15.0zM640.9 352.9l7.5 12.7h-15.0zM641.6 341.6l7.5 12.7h-15.0zM641.6 372.6l7.5 12.7h-15.0zM642.3 344.2l7.5 12.7h-15.0zM642.3 375.9l7.5 12.7h-15.0zM644.6 374.8l7.5 12.7h-15.0zM645.3 370.5l7.5 12.7h-15.0zM645.3 353.8l7.5 12.7h-15.0zM645.3 381.1l7.5 12.7h-15.0zM646.8 356.0l7.5 12.7h-15.0zM646.8 382.9l7.5 12.7h-15.0zM647.5 368.5l7.5 12.7h-15.0zM648.3 383.8l7.5 12.7h-15.0zM649.0 380.7l7.5 12.7h-15.0zM649.0 356.1l7.5 12.7h-15.0zM649.7 381.9l7.5 12.7h-15.0zM649.7 384.0l7.5 12.7h-15.0zM651.2 371.1l7.5 12.7h-15.0zM652.0 378.4l7.5 12.7h-15.0zM652.0 352.1l7.5 12.7h-15.0zM652.0 382.8l7.5 12.7h-15.0zM652.7 360.6l7.5 12.7h-15.0zM653.4 350.8l7.5 12.7h-15.0zM654.2 353.4l7.5 12.7h-15.0zM654.2 384.9l7.5 12.7h-15.0zM654.9 379.0l7.5 12.7h-15.0zM654.9 383.7l7.5 12.7h-15.0zM655.7 347.1l7.5 12.7h-15.0zM655.7 383.5l7.5 12.7h-15.0zM656.4 363.1l7.5 12.7h-15.0zM656.4 384.3l7.5 12.7h-15.0zM657.1 381.6l7.5 12.7h-15.0zM657.1 345.1l7.5 12.7h-15.0zM657.9 369.3l7.5 12.7h-15.0zM658.6 383.9l7.5 12.7h-15.0zM660.1 383.7l7.5 12.7h-15.0zM660.8 383.1l7.5 12.7h-15.0zM661.6 358.3l7.5 12.7h-15.0zM662.3 369.2l7.5 12.7h-15.0zM662.3 384.7l7.5 12.7h-15.0zM663.1 366.6l7.5 12.7h-15.0zM663.1 385.3l7.5 12.7h-15.0zM664.5 367.2l7.5 12.7h-15.0zM665.3 388.3l7.5 12.7h-15.0zM666.0 388.2l7.5 12.7h-15.0zM666.8 375.6l7.5 12.7h-15.0zM667.5 375.0l7.5 12.7h-15.0zM667.5 369.4l7.5 12.7h-15.0zM668.2 385.7l7.5 12.7h-15.0zM668.2 391.0l7.5 12.7h-15.0zM669.0 366.4l7.5 12.7h-15.0zM669.0 390.0l7.5 12.7h-15.0zM669.7 366.7l7.5 12.7h-15.0zM669.7 368.3l7.5 12.7h-15.0zM669.7 392.4l7.5 12.7h-15.0zM670.5 392.7l7.5 12.7h-15.0zM671.2 367.1l7.5 12.7h-15.0zM671.2 392.6l7.5 12.7h-15.0zM671.9 394.1l7.5 12.7h-15.0zM672.7 367.2l7.5 12.7h-15.0zM672.7 395.5l7.5 12.7h-15.0zM673.4 396.4l7.5 12.7h-15.0zM674.9 369.8l7.5 12.7h-15.0zM675.6 396.7l7.5 12.7h-15.0zM675.6 399.2l7.5 12.7h-15.0zM676.4 387.1l7.5 12.7h-15.0zM676.4 398.3l7.5 12.7h-15.0zM677.1 399.3l7.5 12.7h-15.0zM677.9 401.3l7.5 12.7h-15.0zM678.6 400.7l7.5 12.7h-15.0zM679.3 391.9l7.5 12.7h-15.0zM679.3 392.4l7.5 12.7h-15.0zM679.3 401.5l7.5 12.7h-15.0zM680.1 401.4l7.5 12.7h-15.0zM682.3 404.8l7.5 12.7h-15.0zM682.3 401.9l7.5 12.7h-15.0zM683.0 404.8l7.5 12.7h-15.0zM683.0 406.3l7.5 12.7h-15.0zM683.0 407.3l7.5 12.7h-15.0zM683.8 406.7l7.5 12.7h-15.0zM684.5 424.2l7.5 12.7h-15.0zM685.3 426.6l7.5 12.7h-15.0zM685.3 405.0l7.5 12.7h-15.0zM686.0 407.3l7.5 12.7h-15.0zM686.0 428.2l7.5 12.7h-15.0zM686.7 415.2l7.5 12.7h-15.0zM686.7 406.5l7.5 12.7h-15.0zM687.5 412.4l7.5 12.7h-15.0zM688.2 422.5l7.5 12.7h-15.0zM688.2 407.3l7.5 12.7h-15.0zM689.0 410.0l7.5 12.7h-15.0zM689.7 426.8l7.5 12.7h-15.0zM689.7 412.0l7.5 12.7h-15.0zM690.4 439.5l7.5 12.7h-15.0zM691.2 441.0l7.5 12.7h-15.0zM691.9 423.9l7.5 12.7h-15.0zM691.9 441.0l7.5 12.7h-15.0zM692.7 433.9l7.5 12.7h-15.0zM692.7 442.8l7.5 12.7h-15.0zM693.4 419.1l7.5 12.7h-15.0zM693.4 442.9l7.5 12.7h-15.0zM694.9 413.3l7.5 12.7h-15.0zM694.9 416.3l7.5 12.7h-15.0zM694.9 444.4l7.5 12.7h-15.0zM695.6 426.9l7.5 12.7h-15.0zM696.4 431.2l7.5 12.7h-15.0zM696.4 446.5l7.5 12.7h-15.0zM697.1 447.5l7.5 12.7h-15.0zM697.8 450.4l7.5 12.7h-15.0zM698.6 426.3l7.5 12.7h-15.0zM698.6 450.7l7.5 12.7h-15.0zM699.3 431.1l7.5 12.7h-15.0zM699.3 452.2l7.5 12.7h-15.0zM700.1 427.9l7.5 12.7h-15.0zM700.1 451.6l7.5 12.7h-15.0zM702.3 438.0l7.5 12.7h-15.0zM702.3 456.5l7.5 12.7h-15.0zM703.8 460.8l7.5 12.7h-15.0zM704.5 459.5l7.5 12.7h-15.0zM705.2 463.0l7.5 12.7h-15.0zM705.2 463.9l7.5 12.7h-15.0zM706.0 447.1l7.5 12.7h-15.0zM706.7 454.4l7.5 12.7h-15.0zM707.5 453.7l7.5 12.7h-15.0zM707.5 450.7l7.5 12.7h-15.0zM708.2 467.5l7.5 12.7h-15.0zM708.9 455.4l7.5 12.7h-15.0zM709.7 471.9l7.5 12.7h-15.0zM710.4 471.0l7.5 12.7h-15.0zM710.4 473.2l7.5 12.7h-15.0zM711.2 474.1l7.5 12.7h-15.0zM711.9 475.1l7.5 12.7h-15.0zM713.4 464.9l7.5 12.7h-15.0zM713.4 475.5l7.5 12.7h-15.0zM714.9 469.4l7.5 12.7h-15.0zM714.9 471.4l7.5 12.7h-15.0zM715.6 478.7l7.5 12.7h-15.0zM716.3 470.5l7.5 12.7h-15.0zM716.3 474.3l7.5 12.7h-15.0zM717.1 472.0l7.5 12.7h-15.0zM717.1 470.3l7.5 12.7h-15.0zM717.1 479.1l7.5 12.7h-15.0zM717.8 474.0l7.5 12.7h-15.0zM717.8 480.2l7.5 12.7h-15.0zM718.6 475.0l7.5 12.7h-15.0zM718.6 479.4l7.5 12.7h-15.0zM719.3 475.9l7.5 12.7h-15.0zM719.3 480.1l7.5 12.7h-15.0zM720.0 475.4l7.5 12.7h-15.0zM720.0 482.2l7.5 12.7h-15.0zM720.8 481.0l7.5 12.7h-15.0zM721.5 481.6l7.5 12.7h-15.0zM723.0 482.8l7.5 12.7h-15.0zM723.7 479.1l7.5 12.7h-15.0zM725.2 496.5l7.5 12.7h-15.0zM725.2 499.0l7.5 12.7h-15.0zM726.0 481.5l7.5 12.7h-15.0zM726.0 498.0l7.5 12.7h-15.0zM727.4 491.6l7.5 12.7h-15.0zM728.2 489.7l7.5 12.7h-15.0zM728.9 494.6l7.5 12.7h-15.0zM730.4 498.4l7.5 12.7h-15.0zM731.1 497.1l7.5 12.7h-15.0zM731.1 500.2l7.5 12.7h-15.0zM732.6 480.2l7.5 12.7h-15.0zM733.4 476.7l7.5 12.7h-15.0zM733.4 499.6l7.5 12.7h-15.0zM734.1 501.8l7.5 12.7h-15.0zM734.8 486.1l7.5 12.7h-15.0zM734.8 502.5l7.5 12.7h-15.0zM735.6 502.2l7.5 12.7h-15.0zM736.3 487.9l7.5 12.7h-15.0zM736.3 504.9l7.5 12.7h-15.0zM737.1 504.0l7.5 12.7h-15.0zM738.5 504.9l7.5 12.7h-15.0zM738.5 507.5l7.5 12.7h-15.0zM739.3 493.8l7.5 12.7h-15.0zM739.3 486.8l7.5 12.7h-15.0zM740.0 503.3l7.5 12.7h-15.0zM741.5 502.2l7.5 12.7h-15.0zM741.5 508.9l7.5 12.7h-15.0zM742.2 508.3l7.5 12.7h-15.0zM743.0 507.3l7.5 12.7h-15.0zM745.2 493.3l7.5 12.7h-15.0zM745.2 509.7l7.5 12.7h-15.0zM745.9 492.2l7.5 12.7h-15.0zM745.9 508.7l7.5 12.7h-15.0zM747.4 507.8l7.5 12.7h-15.0zM748.2 498.8l7.5 12.7h-15.0zM748.2 508.8l7.5 12.7h-15.0zM748.9 498.3l7.5 12.7h-15.0zM748.9 495.5l7.5 12.7h-15.0zM748.9 508.3l7.5 12.7h-15.0zM749.6 498.1l7.5 12.7h-15.0zM749.6 508.3l7.5 12.7h-15.0zM750.4 498.6l7.5 12.7h-15.0zM751.1 504.5l7.5 12.7h-15.0zM751.9 498.6l7.5 12.7h-15.0zM752.6 504.8l7.5 12.7h-15.0zM752.6 510.6l7.5 12.7h-15.0zM753.3 509.4l7.5 12.7h-15.0zM754.1 509.3l7.5 12.7h-15.0zM754.8 507.0l7.5 12.7h-15.0zM754.8 510.1l7.5 12.7h-15.0zM757.0 505.6l7.5 12.7h-15.0zM757.8 510.0l7.5 12.7h-15.0zM758.5 519.3l7.5 12.7h-15.0zM758.5 510.0l7.5 12.7h-15.0zM759.3 517.9l7.5 12.7h-15.0zM760.7 517.4l7.5 12.7h-15.0zM762.2 508.9l7.5 12.7h-15.0zM763.7 510.0l7.5 12.7h-15.0zM763.7 518.7l7.5 12.7h-15.0zM764.4 511.1l7.5 12.7h-15.0zM765.9 511.7l7.5 12.7h-15.0zM765.9 518.0l7.5 12.7h-15.0zM766.7 516.9l7.5 12.7h-15.0zM766.7 507.1l7.5 12.7h-15.0zM766.7 520.0l7.5 12.7h-15.0zM768.9 520.8l7.5 12.7h-15.0zM768.9 520.9l7.5 12.7h-15.0zM768.9 520.3l7.5 12.7h-15.0zM765.0 538.3l7.5 12.7h-15.0zM764.0 543.0l7.5 12.7h-15.0zM763.5 547.0l7.5 12.7h-15.0zM764.0 551.0l7.5 12.7h-15.0zM765.0 554.5l7.5 12.7h-15.0zM767.0 557.0l7.5 12.7h-15.0zM770.0 558.5l7.5 12.7h-15.0zM773.5 559.3l7.5 12.7h-15.0zM777.0 559.5l7.5 12.7h-15.0zM780.5 559.3l7.5 12.7h-15.0zM783.5 555.4l7.5 12.7h-15.0zM784.0 559.3l7.5 12.7h-15.0zM787.0 559.3l7.5 12.7h-15.0zM789.5 559.3l7.5 12.7h-15.0z" fill="#f00"/>
</g>
<clipPath id="cp1"><rect x="101" y="855.4" width="736.1" height="586.2"/></clipPath>
<g clip-path="url(#cp1)">
<polygon points="101.0,882.9 109.0,882.9 109.0,891.6 115.6,891.6 115.6,893.0 125.0,896.0 125.0,901.9 134.0,903.9 134.0,896.4 148.0,896.4 154.0,910.9 158.5,912.9 163.0,915.9 163.0,918.5 184.0,918.5 184.0,922.4 214.0,922.4 214.0,927.2 251.0,927.2 251.0,930.9 274.0,930.9 274.0,926.3 286.0,926.3 286.0,930.2 292.0,930.2 292.0,934.3 319.0,934.8 319.0,937.3 322.5,938.1 333.6,938.1 333.6,940.4 349.5,940.4 349.5,945.8 360.6,948.4 360.6,951.6 386.0,953.1 386.6,957.4 396.0,957.4 396.0,962.2 413.6,962.2 413.6,970.7 423.0,970.7 423.0,974.7 434.0,974.7 434.0,979.6 453.0,979.6 453.0,984.3 459.6,984.3 459.6,988.3 470.7,993.0 470.7,996.9 486.6,996.9 486.6,1001.6 502.5,1006.6 502.5,1014.4 515.0,1019.1 515.0,1023.1 538.7,1023.6 538.7,1032.2 545.9,1032.2 545.9,1037.0 550.6,1037.0 550.6,1040.9 569.7,1040.9 569.7,1051.3 579.2,1051.3 579.2,1055.9 609.4,1055.5 609.4,1059.9 616.5,1059.9 616.5,1068.6 622.0,1068.6 622.0,1073.4 626.0,1073.4 626.0,1090.3 629.0,1090.3 629.0,1112.8 637.0,1112.8 637.0,1121.2 644.4,1121.2 644.4,1139.7 650.8,1139.7 650.8,1131.8 661.0,1131.8 661.0,1153.9 677.0,1153.9 677.0,1166.6 681.0,1171.1 681.0,1184.0 687.0,1184.0 687.0,1193.5 697.0,1193.5 697.0,1216.7 705.0,1216.7 705.0,1243.6 716.0,1243.6 716.0,1251.5 722.7,1251.5 722.7,1238.9 733.0,1238.9 733.0,1260.8 737.0,1270.0 742.8,1270.0 745.7,1274.0 745.7,1278.7 755.6,1278.7 758.0,1282.7 760.8,1288.0 760.8,1301.9 766.0,1301.9 767.8,1305.9 767.8,1316.4 756.0,1316.4 756.0,1312.3 752.0,1312.3 752.0,1307.1 749.2,1303.0 737.0,1303.0 737.0,1294.4 734.0,1294.4 734.0,1285.1 730.0,1285.1 727.6,1280.7 718.0,1278.7 718.0,1275.7 708.6,1271.8 708.6,1266.4 697.0,1258.5 697.0,1238.9 689.0,1235.9 689.0,1215.6 678.0,1215.6 678.0,1196.6 670.0,1196.6 670.0,1184.0 663.5,1184.0 663.5,1169.7 633.0,1169.7 633.0,1149.1 624.0,1149.1 624.0,1130.2 617.0,1130.2 617.0,1093.1 614.0,1093.1 614.0,1088.3 607.8,1088.3 607.8,1080.4 600.0,1080.4 600.0,1075.8 593.5,1075.8 593.5,1079.7 577.6,1079.7 577.6,1075.8 571.0,1075.8 571.0,1070.2 561.7,1070.2 561.7,1060.7 542.0,1060.7 542.0,1056.7 536.0,1056.7 536.0,1050.5 531.0,1050.5 531.0,1042.8 509.0,1042.8 509.0,1038.1 499.0,1038.1 499.0,1033.3 482.0,1033.3 482.0,1016.0 475.5,1016.0 475.5,1020.6 455.0,1020.6 455.0,1003.3 445.0,1003.3 445.0,996.9 437.0,996.9 437.0,994.6 420.0,994.6 420.0,990.7 407.0,985.7 407.0,981.9 396.0,981.9 396.0,977.2 379.7,977.2 379.7,969.7 373.0,969.7 373.0,971.3 362.0,971.3 362.0,967.3 351.0,967.3 351.0,965.0 340.0,965.0 340.0,959.5 329.0,959.5 317.8,958.8 317.8,954.8 308.0,954.8 308.0,950.8 291.0,950.8 291.0,949.2 270.0,949.2 270.0,947.6 263.8,947.6 263.8,946.0 230.0,946.2 230.0,945.4 218.8,945.4 218.8,942.2 195.0,942.2 195.0,940.6 184.0,940.6 184.0,936.8 163.0,936.8 163.0,928.9 150.5,928.9 150.5,923.9 134.0,923.9 134.0,923.2 125.0,923.2 125.0,914.5 115.0,914.5 115.0,905.8 101.0,905.8" fill="#000"/>
<path d="M153.7 974.7H169.6V987.3H153.7zM174.4 974.7H190.0V987.3H174.4zM758.0 1332.6H769.0V1348.9H758.0zM769.0 1346.0H787.0V1360.5H769.0zM780.0 1354.5H794.0V1366.4H780.0zM769.6 1368.0H780.0V1379.1H769.6z" fill="#000"/>
<path d="M478.5 1063.2H489.0V1073.7H478.5z" fill="#000"/>
<path d="M767.3 1100.0l7.5 12.7h-15.0zM777.0 1100.0l7.5 12.7h-15.0zM788.9 1104.9l7.5 12.7h-15.0zM767.0 1106.0l7.5 12.7h-15.0zM766.0 1111.0l7.5 12.7h-15.0zM766.0 1116.0l7.5 12.7h-15.0zM766.5 1120.0l7.5 12.7h-15.0zM767.5 1124.0l7.5 12.7h-15.0zM769.5 1127.5l7.5 12.7h-15.0zM772.5 1130.0l7.5 12.7h-15.0zM776.0 1131.5l7.5 12.7h-15.0zM779.5 1132.5l7.5 12.7h-15.0zM782.5 1133.0l7.5 12.7h-15.0zM785.5 1134.0l7.5 12.7h-15.0zM788.0 1135.5l7.5 12.7h-15.0zM789.5 1136.5l7.5 12.7h-15.0zM775.0 1124.0l7.5 12.7h-15.0zM771.0 1119.0l7.5 12.7h-15.0z" fill="#f00"/>
<path d="M101.5 1157.7l7.5 12.7h-15.0zM101.5 1167.6l7.5 12.7h-15.0zM102.2 1145.1l7.5 12.7h-15.0zM103.0 1144.0l7.5 12.7h-15.0zM103.0 1166.9l7.5 12.7h-15.0zM103.7 1147.4l7.5 12.7h-15.0zM104.5 1168.9l7.5 12.7h-15.0zM105.2 1149.5l7.5 12.7h-15.0zM105.2 1148.5l7.5 12.7h-15.0zM105.2 1167.7l7.5 12.7h-15.0zM105.9 1166.5l7.5 12.7h-15.0zM106.7 1164.4l7.5 12.7h-15.0zM106.7 1168.1l7.5 12.7h-15.0zM108.2 1159.8l7.5 12.7h-15.0zM108.2 1155.3l7.5 12.7h-15.0zM108.9 1171.4l7.5 12.7h-15.0zM109.6 1160.8l7.5 12.7h-15.0zM110.4 1175.7l7.5 12.7h-15.0zM110.4 1174.4l7.5 12.7h-15.0zM111.1 1164.2l7.5 12.7h-15.0zM111.1 1174.6l7.5 12.7h-15.0zM111.9 1166.9l7.5 12.7h-15.0zM111.9 1177.9l7.5 12.7h-15.0zM112.6 1170.3l7.5 12.7h-15.0zM112.6 1178.7l7.5 12.7h-15.0zM113.3 1172.6l7.5 12.7h-15.0zM113.3 1179.2l7.5 12.7h-15.0zM114.1 1174.7l7.5 12.7h-15.0zM114.8 1190.1l7.5 12.7h-15.0zM114.8 1175.0l7.5 12.7h-15.0zM115.6 1179.8l7.5 12.7h-15.0zM115.6 1191.6l7.5 12.7h-15.0zM116.3 1177.2l7.5 12.7h-15.0zM116.3 1192.0l7.5 12.7h-15.0zM117.0 1178.2l7.5 12.7h-15.0zM117.0 1191.1l7.5 12.7h-15.0zM118.5 1174.7l7.5 12.7h-15.0zM119.3 1174.3l7.5 12.7h-15.0zM120.0 1177.5l7.5 12.7h-15.0zM120.7 1192.1l7.5 12.7h-15.0zM121.5 1175.1l7.5 12.7h-15.0zM121.5 1190.1l7.5 12.7h-15.0zM122.2 1171.8l7.5 12.7h-15.0zM123.0 1173.6l7.5 12.7h-15.0zM123.7 1174.3l7.5 12.7h-15.0zM123.7 1181.3l7.5 12.7h-15.0zM124.4 1175.0l7.5 12.7h-15.0zM124.4 1170.0l7.5 12.7h-15.0zM124.4 1179.7l7.5 12.7h-15.0zM125.2 1173.9l7.5 12.7h-15.0zM126.7 1169.7l7.5 12.7h-15.0zM126.7 1172.9l7.5 12.7h-15.0zM127.4 1171.2l7.5 12.7h-15.0zM127.4 1178.7l7.5 12.7h-15.0zM128.1 1180.4l7.5 12.7h-15.0zM128.1 1170.5l7.5 12.7h-15.0zM129.6 1178.4l7.5 12.7h-15.0zM130.4 1178.0l7.5 12.7h-15.0zM131.8 1174.6l7.5 12.7h-15.0zM131.8 1178.0l7.5 12.7h-15.0zM133.3 1176.1l7.5 12.7h-15.0zM133.3 1177.2l7.5 12.7h-15.0zM134.1 1176.1l7.5 12.7h-15.0zM134.1 1168.8l7.5 12.7h-15.0zM134.1 1178.6l7.5 12.7h-15.0zM135.5 1165.4l7.5 12.7h-15.0zM135.5 1177.2l7.5 12.7h-15.0zM136.3 1168.2l7.5 12.7h-15.0zM137.0 1177.2l7.5 12.7h-15.0zM137.0 1168.1l7.5 12.7h-15.0zM137.0 1177.5l7.5 12.7h-15.0zM138.5 1172.4l7.5 12.7h-15.0zM138.5 1163.9l7.5 12.7h-15.0zM138.5 1176.2l7.5 12.7h-15.0zM140.0 1165.0l7.5 12.7h-15.0zM140.0 1177.5l7.5 12.7h-15.0zM140.7 1171.7l7.5 12.7h-15.0zM140.7 1175.7l7.5 12.7h-15.0zM141.5 1177.6l7.5 12.7h-15.0zM142.2 1162.2l7.5 12.7h-15.0zM142.9 1173.5l7.5 12.7h-15.0zM142.9 1158.4l7.5 12.7h-15.0zM142.9 1177.3l7.5 12.7h-15.0zM143.7 1156.0l7.5 12.7h-15.0zM143.7 1158.1l7.5 12.7h-15.0zM143.7 1154.4l7.5 12.7h-15.0zM147.4 1153.6l7.5 12.7h-15.0zM147.4 1153.4l7.5 12.7h-15.0zM148.1 1153.6l7.5 12.7h-15.0zM149.6 1154.2l7.5 12.7h-15.0zM150.3 1151.8l7.5 12.7h-15.0zM151.1 1152.2l7.5 12.7h-15.0zM152.6 1152.8l7.5 12.7h-15.0zM153.3 1152.6l7.5 12.7h-15.0zM154.8 1153.6l7.5 12.7h-15.0zM154.8 1153.9l7.5 12.7h-15.0zM155.5 1151.6l7.5 12.7h-15.0zM155.5 1154.0l7.5 12.7h-15.0zM156.3 1151.3l7.5 12.7h-15.0zM156.3 1153.3l7.5 12.7h-15.0zM157.0 1147.8l7.5 12.7h-15.0zM157.0 1152.3l7.5 12.7h-15.0zM158.5 1153.8l7.5 12.7h-15.0zM158.5 1147.8l7.5 12.7h-15.0zM158.5 1153.4l7.5 12.7h-15.0zM159.2 1152.0l7.5 12.7h-15.0zM160.0 1149.7l7.5 12.7h-15.0zM160.7 1152.7l7.5 12.7h-15.0zM161.4 1152.3l7.5 12.7h-15.0zM161.4 1151.7l7.5 12.7h-15.0zM161.4 1152.6l7.5 12.7h-15.0zM162.2 1154.0l7.5 12.7h-15.0zM162.2 1152.1l7.5 12.7h-15.0zM163.7 1153.0l7.5 12.7h-15.0zM164.4 1152.4l7.5 12.7h-15.0zM164.4 1153.0l7.5 12.7h-15.0zM165.1 1153.3l7.5 12.7h-15.0zM165.9 1151.5l7.5 12.7h-15.0zM165.9 1152.2l7.5 12.7h-15.0zM166.6 1147.3l7.5 12.7h-15.0zM166.6 1148.0l7.5 12.7h-15.0zM166.6 1153.2l7.5 12.7h-15.0zM167.4 1146.4l7.5 12.7h-15.0zM167.4 1152.8l7.5 12.7h-15.0zM168.1 1144.4l7.5 12.7h-15.0zM168.1 1153.2l7.5 12.7h-15.0zM168.8 1147.5l7.5 12.7h-15.0zM168.8 1140.2l7.5 12.7h-15.0zM170.3 1167.0l7.5 12.7h-15.0zM171.1 1168.1l7.5 12.7h-15.0zM171.8 1145.2l7.5 12.7h-15.0zM172.5 1149.2l7.5 12.7h-15.0zM172.5 1168.7l7.5 12.7h-15.0zM174.0 1155.6l7.5 12.7h-15.0zM174.0 1168.4l7.5 12.7h-15.0zM175.5 1159.5l7.5 12.7h-15.0zM175.5 1167.2l7.5 12.7h-15.0zM176.2 1150.4l7.5 12.7h-15.0zM176.2 1148.2l7.5 12.7h-15.0zM177.0 1160.0l7.5 12.7h-15.0zM177.0 1148.1l7.5 12.7h-15.0zM177.0 1166.8l7.5 12.7h-15.0zM177.7 1168.7l7.5 12.7h-15.0zM179.2 1156.5l7.5 12.7h-15.0zM179.2 1167.4l7.5 12.7h-15.0zM179.9 1161.7l7.5 12.7h-15.0zM179.9 1167.8l7.5 12.7h-15.0zM180.7 1168.5l7.5 12.7h-15.0zM181.4 1143.5l7.5 12.7h-15.0zM182.9 1157.9l7.5 12.7h-15.0zM183.6 1144.2l7.5 12.7h-15.0zM184.4 1166.7l7.5 12.7h-15.0zM186.6 1149.7l7.5 12.7h-15.0zM186.6 1168.0l7.5 12.7h-15.0zM187.3 1166.5l7.5 12.7h-15.0zM188.8 1174.8l7.5 12.7h-15.0zM190.3 1143.6l7.5 12.7h-15.0zM191.0 1156.8l7.5 12.7h-15.0zM191.0 1143.0l7.5 12.7h-15.0zM191.0 1177.1l7.5 12.7h-15.0zM191.8 1174.2l7.5 12.7h-15.0zM191.8 1174.9l7.5 12.7h-15.0zM193.3 1149.5l7.5 12.7h-15.0zM194.0 1175.3l7.5 12.7h-15.0zM194.0 1150.3l7.5 12.7h-15.0zM194.0 1176.1l7.5 12.7h-15.0zM194.7 1154.1l7.5 12.7h-15.0zM194.7 1176.0l7.5 12.7h-15.0zM195.5 1175.7l7.5 12.7h-15.0zM196.2 1155.4l7.5 12.7h-15.0zM196.2 1177.3l7.5 12.7h-15.0zM197.0 1155.1l7.5 12.7h-15.0zM197.0 1156.8l7.5 12.7h-15.0zM197.0 1175.1l7.5 12.7h-15.0zM197.7 1159.2l7.5 12.7h-15.0zM198.4 1175.3l7.5 12.7h-15.0zM198.4 1174.9l7.5 12.7h-15.0zM199.2 1168.0l7.5 12.7h-15.0zM199.9 1176.9l7.5 12.7h-15.0zM200.7 1170.9l7.5 12.7h-15.0zM200.7 1177.2l7.5 12.7h-15.0zM201.4 1160.8l7.5 12.7h-15.0zM202.1 1161.7l7.5 12.7h-15.0zM202.1 1175.4l7.5 12.7h-15.0zM202.9 1177.2l7.5 12.7h-15.0zM203.6 1154.5l7.5 12.7h-15.0zM204.4 1175.6l7.5 12.7h-15.0zM205.8 1146.2l7.5 12.7h-15.0zM206.6 1168.7l7.5 12.7h-15.0zM207.3 1153.1l7.5 12.7h-15.0zM207.3 1167.5l7.5 12.7h-15.0zM208.1 1141.6l7.5 12.7h-15.0zM208.8 1168.4l7.5 12.7h-15.0zM209.5 1161.1l7.5 12.7h-15.0zM209.5 1168.6l7.5 12.7h-15.0zM211.0 1152.0l7.5 12.7h-15.0zM211.0 1142.6l7.5 12.7h-15.0zM211.0 1167.3l7.5 12.7h-15.0zM211.8 1141.9l7.5 12.7h-15.0zM212.5 1168.7l7.5 12.7h-15.0zM213.2 1140.9l7.5 12.7h-15.0zM214.0 1160.5l7.5 12.7h-15.0zM214.0 1145.0l7.5 12.7h-15.0zM214.0 1168.4l7.5 12.7h-15.0zM214.7 1143.3l7.5 12.7h-15.0zM215.5 1143.1l7.5 12.7h-15.0zM215.5 1167.1l7.5 12.7h-15.0zM216.2 1146.3l7.5 12.7h-15.0zM217.7 1163.8l7.5 12.7h-15.0zM217.7 1143.4l7.5 12.7h-15.0zM217.7 1166.6l7.5 12.7h-15.0zM218.4 1143.4l7.5 12.7h-15.0zM218.4 1168.0l7.5 12.7h-15.0zM219.2 1152.6l7.5 12.7h-15.0zM219.2 1144.2l7.5 12.7h-15.0zM219.9 1164.5l7.5 12.7h-15.0zM219.9 1167.0l7.5 12.7h-15.0zM220.6 1141.0l7.5 12.7h-15.0zM220.6 1167.5l7.5 12.7h-15.0zM222.1 1143.4l7.5 12.7h-15.0zM222.9 1145.4l7.5 12.7h-15.0zM223.6 1160.2l7.5 12.7h-15.0zM223.6 1147.7l7.5 12.7h-15.0zM224.3 1151.6l7.5 12.7h-15.0zM224.3 1167.0l7.5 12.7h-15.0zM225.1 1155.3l7.5 12.7h-15.0zM225.8 1160.2l7.5 12.7h-15.0zM229.5 1168.5l7.5 12.7h-15.0zM230.3 1168.5l7.5 12.7h-15.0zM231.0 1166.9l7.5 12.7h-15.0zM231.0 1163.0l7.5 12.7h-15.0zM231.0 1176.5l7.5 12.7h-15.0zM231.7 1170.4l7.5 12.7h-15.0zM231.7 1177.1l7.5 12.7h-15.0zM232.5 1168.5l7.5 12.7h-15.0zM232.5 1177.0l7.5 12.7h-15.0zM233.2 1159.7l7.5 12.7h-15.0zM233.2 1157.3l7.5 12.7h-15.0zM234.0 1157.7l7.5 12.7h-15.0zM234.0 1153.1l7.5 12.7h-15.0zM234.7 1165.8l7.5 12.7h-15.0zM234.7 1176.6l7.5 12.7h-15.0zM235.4 1175.9l7.5 12.7h-15.0zM236.2 1177.2l7.5 12.7h-15.0zM236.9 1176.0l7.5 12.7h-15.0zM237.7 1154.5l7.5 12.7h-15.0zM238.4 1144.8l7.5 12.7h-15.0zM238.4 1175.3l7.5 12.7h-15.0zM239.1 1176.9l7.5 12.7h-15.0zM239.9 1150.7l7.5 12.7h-15.0zM239.9 1175.7l7.5 12.7h-15.0zM240.6 1141.6l7.5 12.7h-15.0zM240.6 1175.4l7.5 12.7h-15.0zM241.4 1170.4l7.5 12.7h-15.0zM242.1 1147.9l7.5 12.7h-15.0zM242.1 1176.1l7.5 12.7h-15.0zM242.8 1175.4l7.5 12.7h-15.0zM243.6 1161.9l7.5 12.7h-15.0zM244.3 1163.2l7.5 12.7h-15.0zM244.3 1137.9l7.5 12.7h-15.0zM244.3 1168.5l7.5 12.7h-15.0zM245.1 1137.5l7.5 12.7h-15.0zM245.1 1168.1l7.5 12.7h-15.0zM245.8 1160.0l7.5 12.7h-15.0zM246.5 1150.4l7.5 12.7h-15.0zM247.3 1168.0l7.5 12.7h-15.0zM248.0 1141.7l7.5 12.7h-15.0zM248.0 1168.9l7.5 12.7h-15.0zM248.8 1167.4l7.5 12.7h-15.0zM249.5 1151.7l7.5 12.7h-15.0zM249.5 1168.1l7.5 12.7h-15.0zM250.2 1160.0l7.5 12.7h-15.0zM250.2 1142.1l7.5 12.7h-15.0zM251.0 1167.5l7.5 12.7h-15.0zM251.7 1164.5l7.5 12.7h-15.0zM251.7 1143.3l7.5 12.7h-15.0zM251.7 1167.2l7.5 12.7h-15.0zM252.5 1145.4l7.5 12.7h-15.0zM253.2 1145.2l7.5 12.7h-15.0zM253.2 1168.6l7.5 12.7h-15.0zM253.9 1147.5l7.5 12.7h-15.0zM253.9 1167.6l7.5 12.7h-15.0zM255.4 1154.5l7.5 12.7h-15.0zM255.4 1167.9l7.5 12.7h-15.0zM256.9 1168.1l7.5 12.7h-15.0zM257.6 1162.5l7.5 12.7h-15.0zM257.6 1151.3l7.5 12.7h-15.0zM257.6 1166.9l7.5 12.7h-15.0zM258.4 1167.0l7.5 12.7h-15.0zM259.1 1167.6l7.5 12.7h-15.0zM259.9 1164.6l7.5 12.7h-15.0zM259.9 1167.1l7.5 12.7h-15.0zM260.6 1158.6l7.5 12.7h-15.0zM261.3 1157.8l7.5 12.7h-15.0zM261.3 1157.9l7.5 12.7h-15.0zM262.1 1175.9l7.5 12.7h-15.0zM262.1 1177.0l7.5 12.7h-15.0zM262.8 1161.7l7.5 12.7h-15.0zM262.8 1175.9l7.5 12.7h-15.0zM263.6 1162.8l7.5 12.7h-15.0zM264.3 1175.2l7.5 12.7h-15.0zM265.0 1175.4l7.5 12.7h-15.0zM265.0 1160.2l7.5 12.7h-15.0zM265.8 1167.8l7.5 12.7h-15.0zM265.8 1155.5l7.5 12.7h-15.0zM265.8 1174.8l7.5 12.7h-15.0zM266.5 1175.6l7.5 12.7h-15.0zM268.0 1150.3l7.5 12.7h-15.0zM268.0 1176.9l7.5 12.7h-15.0zM268.7 1164.8l7.5 12.7h-15.0zM268.7 1149.8l7.5 12.7h-15.0zM268.7 1175.9l7.5 12.7h-15.0zM269.5 1166.2l7.5 12.7h-15.0zM269.5 1148.6l7.5 12.7h-15.0zM269.5 1174.9l7.5 12.7h-15.0zM270.2 1175.7l7.5 12.7h-15.0zM271.7 1177.1l7.5 12.7h-15.0zM272.4 1155.1l7.5 12.7h-15.0zM273.2 1155.9l7.5 12.7h-15.0zM273.9 1137.6l7.5 12.7h-15.0zM275.4 1149.7l7.5 12.7h-15.0zM275.4 1133.7l7.5 12.7h-15.0zM275.4 1159.2l7.5 12.7h-15.0zM276.1 1134.4l7.5 12.7h-15.0zM276.1 1155.6l7.5 12.7h-15.0zM276.9 1140.9l7.5 12.7h-15.0zM276.9 1131.7l7.5 12.7h-15.0zM278.4 1149.2l7.5 12.7h-15.0zM278.4 1133.4l7.5 12.7h-15.0zM279.1 1132.7l7.5 12.7h-15.0zM279.1 1152.2l7.5 12.7h-15.0zM279.8 1129.1l7.5 12.7h-15.0zM279.8 1152.6l7.5 12.7h-15.0zM280.6 1150.6l7.5 12.7h-15.0zM280.6 1152.3l7.5 12.7h-15.0zM281.3 1126.3l7.5 12.7h-15.0zM282.1 1139.6l7.5 12.7h-15.0zM282.8 1131.1l7.5 12.7h-15.0zM282.8 1129.1l7.5 12.7h-15.0zM283.5 1148.1l7.5 12.7h-15.0zM283.5 1152.2l7.5 12.7h-15.0zM284.3 1150.9l7.5 12.7h-15.0zM285.0 1148.8l7.5 12.7h-15.0zM285.0 1122.4l7.5 12.7h-15.0zM285.8 1149.4l7.5 12.7h-15.0zM286.5 1143.7l7.5 12.7h-15.0zM286.5 1152.7l7.5 12.7h-15.0zM287.2 1132.3l7.5 12.7h-15.0zM287.2 1152.3l7.5 12.7h-15.0zM288.0 1142.9l7.5 12.7h-15.0zM288.0 1151.0l7.5 12.7h-15.0zM288.7 1151.7l7.5 12.7h-15.0zM289.5 1150.7l7.5 12.7h-15.0zM290.2 1151.9l7.5 12.7h-15.0zM290.2 1151.0l7.5 12.7h-15.0zM290.9 1141.2l7.5 12.7h-15.0zM290.9 1124.0l7.5 12.7h-15.0zM291.7 1131.5l7.5 12.7h-15.0zM291.7 1152.1l7.5 12.7h-15.0zM292.4 1127.9l7.5 12.7h-15.0zM293.2 1135.8l7.5 12.7h-15.0zM293.2 1150.2l7.5 12.7h-15.0zM293.9 1126.4l7.5 12.7h-15.0zM294.6 1141.3l7.5 12.7h-15.0zM294.6 1151.0l7.5 12.7h-15.0zM295.4 1150.4l7.5 12.7h-15.0zM296.1 1145.6l7.5 12.7h-15.0zM296.1 1120.6l7.5 12.7h-15.0zM296.1 1152.2l7.5 12.7h-15.0zM297.6 1135.2l7.5 12.7h-15.0zM297.6 1118.9l7.5 12.7h-15.0zM297.6 1154.1l7.5 12.7h-15.0zM299.1 1115.3l7.5 12.7h-15.0zM299.1 1153.9l7.5 12.7h-15.0zM299.8 1132.8l7.5 12.7h-15.0zM299.8 1117.8l7.5 12.7h-15.0zM299.8 1153.4l7.5 12.7h-15.0zM301.3 1121.1l7.5 12.7h-15.0zM301.3 1114.3l7.5 12.7h-15.0zM301.3 1154.7l7.5 12.7h-15.0zM302.0 1126.9l7.5 12.7h-15.0zM302.0 1154.2l7.5 12.7h-15.0zM302.8 1127.4l7.5 12.7h-15.0zM302.8 1119.9l7.5 12.7h-15.0zM303.5 1119.7l7.5 12.7h-15.0zM303.5 1155.8l7.5 12.7h-15.0zM304.3 1121.3l7.5 12.7h-15.0zM305.0 1122.3l7.5 12.7h-15.0zM305.7 1130.4l7.5 12.7h-15.0zM305.7 1155.3l7.5 12.7h-15.0zM306.5 1137.4l7.5 12.7h-15.0zM306.5 1122.6l7.5 12.7h-15.0zM307.2 1155.7l7.5 12.7h-15.0zM308.0 1127.1l7.5 12.7h-15.0zM308.7 1136.9l7.5 12.7h-15.0zM309.4 1139.5l7.5 12.7h-15.0zM309.4 1155.4l7.5 12.7h-15.0zM310.9 1154.2l7.5 12.7h-15.0zM311.7 1150.6l7.5 12.7h-15.0zM311.7 1130.9l7.5 12.7h-15.0zM311.7 1154.9l7.5 12.7h-15.0zM312.4 1134.4l7.5 12.7h-15.0zM312.4 1130.2l7.5 12.7h-15.0zM312.4 1155.2l7.5 12.7h-15.0zM313.9 1137.7l7.5 12.7h-15.0zM313.9 1128.6l7.5 12.7h-15.0zM313.9 1155.6l7.5 12.7h-15.0zM314.6 1130.5l7.5 12.7h-15.0zM314.6 1125.8l7.5 12.7h-15.0zM315.4 1124.3l7.5 12.7h-15.0zM315.4 1154.0l7.5 12.7h-15.0zM316.1 1148.3l7.5 12.7h-15.0zM316.8 1132.2l7.5 12.7h-15.0zM316.8 1154.1l7.5 12.7h-15.0zM317.6 1141.3l7.5 12.7h-15.0zM317.6 1146.8l7.5 12.7h-15.0zM318.3 1119.3l7.5 12.7h-15.0zM318.3 1120.1l7.5 12.7h-15.0zM318.3 1146.7l7.5 12.7h-15.0zM319.1 1133.4l7.5 12.7h-15.0zM319.1 1119.3l7.5 12.7h-15.0zM319.1 1145.5l7.5 12.7h-15.0zM319.8 1115.5l7.5 12.7h-15.0zM319.8 1145.3l7.5 12.7h-15.0zM320.5 1126.7l7.5 12.7h-15.0zM320.5 1146.1l7.5 12.7h-15.0zM321.3 1120.0l7.5 12.7h-15.0zM321.3 1111.9l7.5 12.7h-15.0zM322.8 1134.2l7.5 12.7h-15.0zM322.8 1144.3l7.5 12.7h-15.0zM324.2 1131.7l7.5 12.7h-15.0zM324.2 1108.5l7.5 12.7h-15.0zM324.2 1145.6l7.5 12.7h-15.0zM325.0 1119.1l7.5 12.7h-15.0zM325.0 1145.4l7.5 12.7h-15.0zM325.7 1124.2l7.5 12.7h-15.0zM325.7 1107.0l7.5 12.7h-15.0zM325.7 1145.6l7.5 12.7h-15.0zM326.5 1121.3l7.5 12.7h-15.0zM326.5 1105.3l7.5 12.7h-15.0zM327.2 1144.8l7.5 12.7h-15.0zM327.9 1105.6l7.5 12.7h-15.0zM327.9 1144.6l7.5 12.7h-15.0zM328.7 1145.2l7.5 12.7h-15.0zM329.4 1118.3l7.5 12.7h-15.0zM330.2 1131.9l7.5 12.7h-15.0zM330.2 1105.3l7.5 12.7h-15.0zM332.4 1145.1l7.5 12.7h-15.0zM333.1 1143.5l7.5 12.7h-15.0zM333.9 1112.0l7.5 12.7h-15.0zM333.9 1144.9l7.5 12.7h-15.0zM334.6 1108.3l7.5 12.7h-15.0zM334.6 1144.1l7.5 12.7h-15.0zM335.3 1110.1l7.5 12.7h-15.0zM335.3 1145.2l7.5 12.7h-15.0zM336.1 1133.9l7.5 12.7h-15.0zM337.6 1125.7l7.5 12.7h-15.0zM337.6 1144.0l7.5 12.7h-15.0zM339.0 1120.6l7.5 12.7h-15.0zM339.0 1144.4l7.5 12.7h-15.0zM339.8 1127.5l7.5 12.7h-15.0zM339.8 1145.2l7.5 12.7h-15.0zM340.5 1129.6l7.5 12.7h-15.0zM340.5 1123.4l7.5 12.7h-15.0zM340.5 1145.6l7.5 12.7h-15.0zM341.3 1124.2l7.5 12.7h-15.0zM341.3 1144.7l7.5 12.7h-15.0zM342.0 1143.6l7.5 12.7h-15.0zM342.7 1119.5l7.5 12.7h-15.0zM342.7 1143.8l7.5 12.7h-15.0zM343.5 1137.9l7.5 12.7h-15.0zM343.5 1120.5l7.5 12.7h-15.0zM343.5 1145.0l7.5 12.7h-15.0zM346.4 1125.3l7.5 12.7h-15.0zM346.4 1145.3l7.5 12.7h-15.0zM347.2 1131.7l7.5 12.7h-15.0zM347.9 1135.0l7.5 12.7h-15.0zM348.7 1143.5l7.5 12.7h-15.0zM348.7 1144.0l7.5 12.7h-15.0zM349.4 1111.2l7.5 12.7h-15.0zM349.4 1112.8l7.5 12.7h-15.0zM350.1 1118.0l7.5 12.7h-15.0zM350.1 1111.2l7.5 12.7h-15.0zM350.1 1134.4l7.5 12.7h-15.0zM350.9 1130.0l7.5 12.7h-15.0zM350.9 1134.3l7.5 12.7h-15.0zM352.4 1126.9l7.5 12.7h-15.0zM353.1 1112.1l7.5 12.7h-15.0zM353.1 1110.8l7.5 12.7h-15.0zM353.1 1134.1l7.5 12.7h-15.0zM353.8 1115.9l7.5 12.7h-15.0zM353.8 1108.4l7.5 12.7h-15.0zM353.8 1133.7l7.5 12.7h-15.0zM354.6 1112.7l7.5 12.7h-15.0zM354.6 1134.7l7.5 12.7h-15.0zM355.3 1107.3l7.5 12.7h-15.0zM355.3 1135.1l7.5 12.7h-15.0zM356.1 1119.5l7.5 12.7h-15.0zM356.1 1133.1l7.5 12.7h-15.0zM356.8 1117.1l7.5 12.7h-15.0zM356.8 1135.2l7.5 12.7h-15.0zM358.3 1133.3l7.5 12.7h-15.0zM359.0 1129.8l7.5 12.7h-15.0zM359.0 1135.2l7.5 12.7h-15.0zM359.8 1105.8l7.5 12.7h-15.0zM359.8 1102.7l7.5 12.7h-15.0zM360.5 1118.8l7.5 12.7h-15.0zM360.5 1101.3l7.5 12.7h-15.0zM361.2 1118.9l7.5 12.7h-15.0zM363.5 1133.6l7.5 12.7h-15.0zM364.2 1132.2l7.5 12.7h-15.0zM364.2 1103.1l7.5 12.7h-15.0zM364.2 1134.3l7.5 12.7h-15.0zM364.9 1124.0l7.5 12.7h-15.0zM364.9 1133.7l7.5 12.7h-15.0zM365.7 1112.5l7.5 12.7h-15.0zM365.7 1135.1l7.5 12.7h-15.0zM366.4 1127.4l7.5 12.7h-15.0zM366.4 1107.6l7.5 12.7h-15.0zM366.4 1133.6l7.5 12.7h-15.0zM367.2 1109.2l7.5 12.7h-15.0zM367.2 1106.8l7.5 12.7h-15.0zM367.2 1135.3l7.5 12.7h-15.0zM367.9 1118.6l7.5 12.7h-15.0zM367.9 1108.9l7.5 12.7h-15.0zM368.6 1132.1l7.5 12.7h-15.0zM368.6 1111.2l7.5 12.7h-15.0zM368.6 1132.8l7.5 12.7h-15.0zM369.4 1134.3l7.5 12.7h-15.0zM369.4 1110.7l7.5 12.7h-15.0zM370.1 1117.5l7.5 12.7h-15.0zM370.9 1116.3l7.5 12.7h-15.0zM371.6 1127.3l7.5 12.7h-15.0zM372.3 1127.3l7.5 12.7h-15.0zM373.8 1138.4l7.5 12.7h-15.0zM373.8 1140.9l7.5 12.7h-15.0zM374.6 1127.5l7.5 12.7h-15.0zM374.6 1120.1l7.5 12.7h-15.0zM375.3 1118.3l7.5 12.7h-15.0zM375.3 1141.1l7.5 12.7h-15.0zM376.0 1141.4l7.5 12.7h-15.0zM376.8 1140.8l7.5 12.7h-15.0zM378.3 1142.3l7.5 12.7h-15.0zM378.3 1140.5l7.5 12.7h-15.0zM380.5 1138.4l7.5 12.7h-15.0zM380.5 1140.6l7.5 12.7h-15.0zM381.2 1127.2l7.5 12.7h-15.0zM381.2 1141.9l7.5 12.7h-15.0zM382.0 1110.1l7.5 12.7h-15.0zM382.7 1115.9l7.5 12.7h-15.0zM384.2 1106.1l7.5 12.7h-15.0zM384.2 1128.8l7.5 12.7h-15.0zM384.9 1125.6l7.5 12.7h-15.0zM384.9 1128.4l7.5 12.7h-15.0zM385.7 1125.0l7.5 12.7h-15.0zM386.4 1128.6l7.5 12.7h-15.0zM386.4 1104.4l7.5 12.7h-15.0zM387.1 1103.3l7.5 12.7h-15.0zM387.1 1128.9l7.5 12.7h-15.0zM387.9 1108.9l7.5 12.7h-15.0zM387.9 1127.4l7.5 12.7h-15.0zM388.6 1098.1l7.5 12.7h-15.0zM389.4 1101.2l7.5 12.7h-15.0zM389.4 1100.8l7.5 12.7h-15.0zM390.1 1102.4l7.5 12.7h-15.0zM390.8 1127.9l7.5 12.7h-15.0zM391.6 1115.8l7.5 12.7h-15.0zM392.3 1108.9l7.5 12.7h-15.0zM393.1 1117.6l7.5 12.7h-15.0zM393.1 1092.7l7.5 12.7h-15.0zM393.1 1126.7l7.5 12.7h-15.0zM393.8 1123.2l7.5 12.7h-15.0zM393.8 1126.6l7.5 12.7h-15.0zM394.5 1118.5l7.5 12.7h-15.0zM394.5 1128.7l7.5 12.7h-15.0zM395.3 1098.8l7.5 12.7h-15.0zM396.0 1115.7l7.5 12.7h-15.0zM396.0 1127.9l7.5 12.7h-15.0zM396.8 1124.2l7.5 12.7h-15.0zM396.8 1085.5l7.5 12.7h-15.0zM396.8 1126.8l7.5 12.7h-15.0zM397.5 1128.7l7.5 12.7h-15.0zM398.2 1083.6l7.5 12.7h-15.0zM398.2 1127.1l7.5 12.7h-15.0zM399.7 1087.6l7.5 12.7h-15.0zM399.7 1128.0l7.5 12.7h-15.0zM400.5 1100.1l7.5 12.7h-15.0zM401.9 1122.1l7.5 12.7h-15.0zM402.7 1092.1l7.5 12.7h-15.0zM402.7 1127.3l7.5 12.7h-15.0zM403.4 1128.5l7.5 12.7h-15.0zM403.4 1093.0l7.5 12.7h-15.0zM403.4 1127.9l7.5 12.7h-15.0zM404.2 1093.3l7.5 12.7h-15.0zM404.9 1126.9l7.5 12.7h-15.0zM405.6 1127.7l7.5 12.7h-15.0zM406.4 1124.5l7.5 12.7h-15.0zM407.1 1109.4l7.5 12.7h-15.0zM407.1 1128.6l7.5 12.7h-15.0zM407.9 1101.8l7.5 12.7h-15.0zM407.9 1127.5l7.5 12.7h-15.0zM408.6 1103.9l7.5 12.7h-15.0zM408.6 1127.0l7.5 12.7h-15.0zM409.3 1113.3l7.5 12.7h-15.0zM409.3 1102.3l7.5 12.7h-15.0zM409.3 1127.5l7.5 12.7h-15.0zM410.1 1125.0l7.5 12.7h-15.0zM410.1 1106.2l7.5 12.7h-15.0zM410.1 1126.5l7.5 12.7h-15.0zM410.8 1114.0l7.5 12.7h-15.0zM411.6 1128.5l7.5 12.7h-15.0zM413.0 1118.7l7.5 12.7h-15.0zM413.0 1105.5l7.5 12.7h-15.0zM413.0 1127.5l7.5 12.7h-15.0zM413.8 1128.9l7.5 12.7h-15.0zM414.5 1113.3l7.5 12.7h-15.0zM414.5 1111.1l7.5 12.7h-15.0zM414.5 1128.7l7.5 12.7h-15.0zM416.7 1115.8l7.5 12.7h-15.0zM416.7 1129.0l7.5 12.7h-15.0zM417.5 1119.4l7.5 12.7h-15.0zM417.5 1128.8l7.5 12.7h-15.0zM418.2 1126.5l7.5 12.7h-15.0zM418.2 1111.0l7.5 12.7h-15.0zM418.2 1128.9l7.5 12.7h-15.0zM419.0 1111.1l7.5 12.7h-15.0zM419.0 1128.7l7.5 12.7h-15.0zM419.7 1124.6l7.5 12.7h-15.0zM419.7 1128.9l7.5 12.7h-15.0zM420.4 1110.2l7.5 12.7h-15.0zM421.2 1121.0l7.5 12.7h-15.0zM421.2 1128.4l7.5 12.7h-15.0zM421.9 1109.0l7.5 12.7h-15.0zM421.9 1128.0l7.5 12.7h-15.0zM422.7 1109.2l7.5 12.7h-15.0zM422.7 1107.5l7.5 12.7h-15.0zM423.4 1126.7l7.5 12.7h-15.0zM423.4 1128.2l7.5 12.7h-15.0zM424.1 1129.5l7.5 12.7h-15.0zM424.1 1129.1l7.5 12.7h-15.0zM425.6 1124.2l7.5 12.7h-15.0zM425.6 1107.7l7.5 12.7h-15.0zM426.4 1127.6l7.5 12.7h-15.0zM427.1 1128.1l7.5 12.7h-15.0zM427.8 1121.7l7.5 12.7h-15.0zM428.6 1124.3l7.5 12.7h-15.0zM429.3 1115.4l7.5 12.7h-15.0zM429.3 1129.1l7.5 12.7h-15.0zM430.1 1103.3l7.5 12.7h-15.0zM430.8 1129.6l7.5 12.7h-15.0zM431.5 1128.7l7.5 12.7h-15.0zM432.3 1115.4l7.5 12.7h-15.0zM433.0 1126.8l7.5 12.7h-15.0zM433.0 1128.8l7.5 12.7h-15.0zM433.8 1122.1l7.5 12.7h-15.0zM433.8 1128.2l7.5 12.7h-15.0zM434.5 1124.7l7.5 12.7h-15.0zM434.5 1109.2l7.5 12.7h-15.0zM434.5 1128.4l7.5 12.7h-15.0zM435.2 1114.9l7.5 12.7h-15.0zM435.2 1107.6l7.5 12.7h-15.0zM436.0 1116.1l7.5 12.7h-15.0zM436.7 1120.7l7.5 12.7h-15.0zM437.5 1123.4l7.5 12.7h-15.0zM437.5 1108.6l7.5 12.7h-15.0zM438.2 1108.0l7.5 12.7h-15.0zM438.9 1124.0l7.5 12.7h-15.0zM440.4 1119.5l7.5 12.7h-15.0zM440.4 1112.5l7.5 12.7h-15.0zM440.4 1129.1l7.5 12.7h-15.0zM441.2 1110.4l7.5 12.7h-15.0zM441.9 1127.5l7.5 12.7h-15.0zM442.6 1127.9l7.5 12.7h-15.0zM443.4 1108.1l7.5 12.7h-15.0zM444.1 1123.1l7.5 12.7h-15.0zM444.9 1127.5l7.5 12.7h-15.0zM445.6 1100.7l7.5 12.7h-15.0zM446.3 1104.2l7.5 12.7h-15.0zM446.3 1097.3l7.5 12.7h-15.0zM446.3 1129.2l7.5 12.7h-15.0zM447.1 1099.9l7.5 12.7h-15.0zM447.1 1129.2l7.5 12.7h-15.0zM447.8 1113.3l7.5 12.7h-15.0zM447.8 1127.8l7.5 12.7h-15.0zM448.6 1120.7l7.5 12.7h-15.0zM449.3 1113.9l7.5 12.7h-15.0zM450.0 1099.1l7.5 12.7h-15.0zM450.0 1120.5l7.5 12.7h-15.0zM450.8 1109.3l7.5 12.7h-15.0zM452.3 1104.9l7.5 12.7h-15.0zM452.3 1120.1l7.5 12.7h-15.0zM453.0 1103.6l7.5 12.7h-15.0zM453.0 1121.1l7.5 12.7h-15.0zM453.7 1122.3l7.5 12.7h-15.0zM453.7 1104.1l7.5 12.7h-15.0zM453.7 1120.8l7.5 12.7h-15.0zM454.5 1101.9l7.5 12.7h-15.0zM456.0 1104.0l7.5 12.7h-15.0zM456.0 1121.2l7.5 12.7h-15.0zM456.7 1112.8l7.5 12.7h-15.0zM456.7 1105.6l7.5 12.7h-15.0zM456.7 1121.3l7.5 12.7h-15.0zM457.4 1112.4l7.5 12.7h-15.0zM458.2 1100.8l7.5 12.7h-15.0zM458.2 1120.7l7.5 12.7h-15.0zM460.4 1107.5l7.5 12.7h-15.0zM461.9 1107.0l7.5 12.7h-15.0zM461.9 1122.2l7.5 12.7h-15.0zM462.6 1122.4l7.5 12.7h-15.0zM463.4 1121.0l7.5 12.7h-15.0zM464.1 1122.3l7.5 12.7h-15.0zM465.6 1093.1l7.5 12.7h-15.0zM465.6 1120.6l7.5 12.7h-15.0zM466.3 1103.2l7.5 12.7h-15.0zM466.3 1120.8l7.5 12.7h-15.0zM467.1 1085.0l7.5 12.7h-15.0zM467.1 1122.1l7.5 12.7h-15.0zM467.8 1091.5l7.5 12.7h-15.0zM467.8 1113.0l7.5 12.7h-15.0zM468.5 1070.4l7.5 12.7h-15.0zM468.5 1110.3l7.5 12.7h-15.0zM469.3 1076.8l7.5 12.7h-15.0zM469.3 1067.0l7.5 12.7h-15.0zM470.0 1110.1l7.5 12.7h-15.0zM470.8 1061.7l7.5 12.7h-15.0zM470.8 1106.7l7.5 12.7h-15.0zM471.5 1077.6l7.5 12.7h-15.0zM472.2 1068.6l7.5 12.7h-15.0zM473.0 1097.2l7.5 12.7h-15.0zM473.0 1104.3l7.5 12.7h-15.0zM474.5 1086.2l7.5 12.7h-15.0zM474.5 1101.2l7.5 12.7h-15.0zM475.2 1077.5l7.5 12.7h-15.0zM476.7 1092.2l7.5 12.7h-15.0zM476.7 1099.8l7.5 12.7h-15.0zM478.2 1097.6l7.5 12.7h-15.0zM478.9 1094.8l7.5 12.7h-15.0zM478.9 1064.6l7.5 12.7h-15.0zM478.9 1096.6l7.5 12.7h-15.0zM479.6 1068.3l7.5 12.7h-15.0zM479.6 1063.8l7.5 12.7h-15.0zM479.6 1094.2l7.5 12.7h-15.0zM481.1 1067.5l7.5 12.7h-15.0zM481.1 1060.4l7.5 12.7h-15.0zM481.9 1093.5l7.5 12.7h-15.0zM482.6 1057.7l7.5 12.7h-15.0zM483.3 1077.6l7.5 12.7h-15.0zM483.3 1093.8l7.5 12.7h-15.0zM484.1 1092.4l7.5 12.7h-15.0zM484.8 1052.4l7.5 12.7h-15.0zM484.8 1050.0l7.5 12.7h-15.0zM485.6 1052.0l7.5 12.7h-15.0zM485.6 1054.1l7.5 12.7h-15.0zM485.6 1092.7l7.5 12.7h-15.0zM486.3 1059.8l7.5 12.7h-15.0zM486.3 1052.6l7.5 12.7h-15.0zM486.3 1093.6l7.5 12.7h-15.0zM487.0 1092.7l7.5 12.7h-15.0zM487.8 1068.4l7.5 12.7h-15.0zM488.5 1076.2l7.5 12.7h-15.0zM488.5 1092.0l7.5 12.7h-15.0zM489.3 1091.8l7.5 12.7h-15.0zM490.0 1076.0l7.5 12.7h-15.0zM490.0 1093.9l7.5 12.7h-15.0zM490.7 1058.3l7.5 12.7h-15.0zM490.7 1091.9l7.5 12.7h-15.0zM491.5 1059.4l7.5 12.7h-15.0zM491.5 1092.9l7.5 12.7h-15.0zM492.2 1091.3l7.5 12.7h-15.0zM492.2 1094.3l7.5 12.7h-15.0zM493.0 1065.1l7.5 12.7h-15.0zM493.7 1057.3l7.5 12.7h-15.0zM493.7 1092.7l7.5 12.7h-15.0zM494.4 1054.2l7.5 12.7h-15.0zM494.4 1092.3l7.5 12.7h-15.0zM495.2 1087.1l7.5 12.7h-15.0zM495.2 1092.0l7.5 12.7h-15.0zM495.9 1069.9l7.5 12.7h-15.0zM496.7 1071.9l7.5 12.7h-15.0zM496.7 1054.3l7.5 12.7h-15.0zM496.7 1093.4l7.5 12.7h-15.0zM497.4 1059.8l7.5 12.7h-15.0zM499.6 1051.5l7.5 12.7h-15.0zM499.6 1093.7l7.5 12.7h-15.0zM500.4 1049.3l7.5 12.7h-15.0zM500.4 1092.3l7.5 12.7h-15.0zM501.8 1048.8l7.5 12.7h-15.0zM501.8 1091.8l7.5 12.7h-15.0zM502.6 1045.7l7.5 12.7h-15.0zM504.1 1080.7l7.5 12.7h-15.0zM504.1 1047.9l7.5 12.7h-15.0zM505.5 1093.3l7.5 12.7h-15.0zM506.3 1048.4l7.5 12.7h-15.0zM506.3 1050.3l7.5 12.7h-15.0zM506.3 1092.7l7.5 12.7h-15.0zM507.0 1093.5l7.5 12.7h-15.0zM507.8 1057.7l7.5 12.7h-15.0zM509.2 1054.8l7.5 12.7h-15.0zM510.0 1093.6l7.5 12.7h-15.0zM510.7 1073.1l7.5 12.7h-15.0zM510.7 1056.2l7.5 12.7h-15.0zM510.7 1093.1l7.5 12.7h-15.0zM511.5 1053.8l7.5 12.7h-15.0zM512.2 1067.7l7.5 12.7h-15.0zM512.2 1054.0l7.5 12.7h-15.0zM512.2 1093.0l7.5 12.7h-15.0zM512.9 1093.3l7.5 12.7h-15.0zM513.7 1074.5l7.5 12.7h-15.0zM513.7 1093.2l7.5 12.7h-15.0zM515.9 1078.3l7.5 12.7h-15.0zM515.9 1093.8l7.5 12.7h-15.0zM516.6 1060.1l7.5 12.7h-15.0zM517.4 1084.8l7.5 12.7h-15.0zM517.4 1092.4l7.5 12.7h-15.0zM518.1 1093.2l7.5 12.7h-15.0zM518.9 1076.7l7.5 12.7h-15.0zM519.6 1063.2l7.5 12.7h-15.0zM519.6 1063.3l7.5 12.7h-15.0zM519.6 1094.0l7.5 12.7h-15.0zM520.3 1080.0l7.5 12.7h-15.0zM520.3 1092.7l7.5 12.7h-15.0zM521.1 1092.5l7.5 12.7h-15.0zM521.8 1063.5l7.5 12.7h-15.0zM521.8 1104.7l7.5 12.7h-15.0zM522.6 1081.7l7.5 12.7h-15.0zM522.6 1065.0l7.5 12.7h-15.0zM523.3 1086.9l7.5 12.7h-15.0zM523.3 1065.2l7.5 12.7h-15.0zM523.3 1104.1l7.5 12.7h-15.0zM524.0 1099.1l7.5 12.7h-15.0zM524.0 1103.9l7.5 12.7h-15.0zM524.8 1064.5l7.5 12.7h-15.0zM525.5 1077.5l7.5 12.7h-15.0zM525.5 1104.1l7.5 12.7h-15.0zM526.3 1103.0l7.5 12.7h-15.0zM527.0 1082.2l7.5 12.7h-15.0zM527.0 1104.0l7.5 12.7h-15.0zM528.5 1090.8l7.5 12.7h-15.0zM528.5 1103.1l7.5 12.7h-15.0zM530.0 1090.1l7.5 12.7h-15.0zM530.0 1065.1l7.5 12.7h-15.0zM530.0 1102.5l7.5 12.7h-15.0zM530.7 1092.6l7.5 12.7h-15.0zM530.7 1063.5l7.5 12.7h-15.0zM531.4 1088.5l7.5 12.7h-15.0zM531.4 1063.5l7.5 12.7h-15.0zM532.2 1101.3l7.5 12.7h-15.0zM532.2 1065.1l7.5 12.7h-15.0zM534.4 1068.5l7.5 12.7h-15.0zM535.1 1104.4l7.5 12.7h-15.0zM535.1 1069.8l7.5 12.7h-15.0zM535.1 1103.1l7.5 12.7h-15.0zM535.9 1069.7l7.5 12.7h-15.0zM535.9 1103.7l7.5 12.7h-15.0zM536.6 1091.4l7.5 12.7h-15.0zM537.4 1098.1l7.5 12.7h-15.0zM537.4 1103.4l7.5 12.7h-15.0zM538.1 1082.1l7.5 12.7h-15.0zM539.6 1078.4l7.5 12.7h-15.0zM540.3 1091.3l7.5 12.7h-15.0zM541.1 1070.9l7.5 12.7h-15.0zM541.8 1076.0l7.5 12.7h-15.0zM542.5 1071.3l7.5 12.7h-15.0zM542.5 1066.2l7.5 12.7h-15.0zM543.3 1066.5l7.5 12.7h-15.0zM544.0 1086.9l7.5 12.7h-15.0zM544.0 1090.4l7.5 12.7h-15.0zM545.5 1075.1l7.5 12.7h-15.0zM545.5 1060.8l7.5 12.7h-15.0zM547.0 1064.1l7.5 12.7h-15.0zM547.0 1089.8l7.5 12.7h-15.0zM547.7 1070.9l7.5 12.7h-15.0zM548.5 1091.3l7.5 12.7h-15.0zM549.2 1054.0l7.5 12.7h-15.0zM549.9 1064.6l7.5 12.7h-15.0zM549.9 1051.4l7.5 12.7h-15.0zM549.9 1090.5l7.5 12.7h-15.0zM550.7 1085.0l7.5 12.7h-15.0zM551.4 1047.3l7.5 12.7h-15.0zM552.2 1091.9l7.5 12.7h-15.0zM552.9 1078.5l7.5 12.7h-15.0zM552.9 1047.2l7.5 12.7h-15.0zM553.6 1049.7l7.5 12.7h-15.0zM553.6 1090.8l7.5 12.7h-15.0zM554.4 1065.1l7.5 12.7h-15.0zM554.4 1050.3l7.5 12.7h-15.0zM554.4 1092.2l7.5 12.7h-15.0zM555.1 1075.5l7.5 12.7h-15.0zM555.1 1050.9l7.5 12.7h-15.0zM555.9 1072.9l7.5 12.7h-15.0zM555.9 1056.2l7.5 12.7h-15.0zM557.3 1070.8l7.5 12.7h-15.0zM557.3 1091.0l7.5 12.7h-15.0zM558.1 1075.8l7.5 12.7h-15.0zM558.8 1057.9l7.5 12.7h-15.0zM558.8 1056.3l7.5 12.7h-15.0zM559.6 1057.1l7.5 12.7h-15.0zM561.0 1090.8l7.5 12.7h-15.0zM562.5 1057.8l7.5 12.7h-15.0zM563.3 1075.4l7.5 12.7h-15.0zM563.3 1060.9l7.5 12.7h-15.0zM563.3 1089.7l7.5 12.7h-15.0zM564.0 1092.0l7.5 12.7h-15.0zM564.0 1057.4l7.5 12.7h-15.0zM564.0 1090.6l7.5 12.7h-15.0zM564.7 1077.1l7.5 12.7h-15.0zM564.7 1090.3l7.5 12.7h-15.0zM565.5 1076.1l7.5 12.7h-15.0zM566.2 1076.2l7.5 12.7h-15.0zM567.0 1064.5l7.5 12.7h-15.0zM567.7 1062.4l7.5 12.7h-15.0zM567.7 1077.1l7.5 12.7h-15.0zM569.2 1060.5l7.5 12.7h-15.0zM569.2 1075.3l7.5 12.7h-15.0zM569.9 1077.2l7.5 12.7h-15.0zM570.7 1058.5l7.5 12.7h-15.0zM570.7 1076.9l7.5 12.7h-15.0zM571.4 1076.5l7.5 12.7h-15.0zM571.4 1058.9l7.5 12.7h-15.0zM572.1 1070.5l7.5 12.7h-15.0zM572.9 1069.2l7.5 12.7h-15.0zM573.6 1072.0l7.5 12.7h-15.0zM573.6 1060.3l7.5 12.7h-15.0zM574.4 1064.0l7.5 12.7h-15.0zM575.1 1062.4l7.5 12.7h-15.0zM575.1 1059.4l7.5 12.7h-15.0zM577.3 1059.4l7.5 12.7h-15.0zM577.3 1076.0l7.5 12.7h-15.0zM578.1 1058.6l7.5 12.7h-15.0zM578.1 1076.5l7.5 12.7h-15.0zM578.8 1069.4l7.5 12.7h-15.0zM578.8 1076.0l7.5 12.7h-15.0zM579.5 1072.7l7.5 12.7h-15.0zM579.5 1076.8l7.5 12.7h-15.0zM580.3 1060.8l7.5 12.7h-15.0zM580.3 1076.8l7.5 12.7h-15.0zM581.0 1074.2l7.5 12.7h-15.0zM581.8 1075.2l7.5 12.7h-15.0zM582.5 1060.1l7.5 12.7h-15.0zM582.5 1055.9l7.5 12.7h-15.0zM583.2 1058.4l7.5 12.7h-15.0zM583.2 1059.8l7.5 12.7h-15.0zM584.0 1057.0l7.5 12.7h-15.0zM584.0 1076.8l7.5 12.7h-15.0zM584.7 1062.9l7.5 12.7h-15.0zM584.7 1076.9l7.5 12.7h-15.0zM585.5 1066.2l7.5 12.7h-15.0zM585.5 1061.4l7.5 12.7h-15.0zM585.5 1076.3l7.5 12.7h-15.0zM586.2 1062.8l7.5 12.7h-15.0zM586.2 1076.5l7.5 12.7h-15.0zM586.9 1075.9l7.5 12.7h-15.0zM586.9 1075.9l7.5 12.7h-15.0zM587.7 1068.3l7.5 12.7h-15.0zM588.4 1075.1l7.5 12.7h-15.0zM588.4 1076.6l7.5 12.7h-15.0zM589.2 1076.0l7.5 12.7h-15.0zM589.9 1073.0l7.5 12.7h-15.0zM590.6 1076.0l7.5 12.7h-15.0zM593.6 1099.6l7.5 12.7h-15.0zM594.3 1075.3l7.5 12.7h-15.0zM594.3 1099.0l7.5 12.7h-15.0zM595.1 1081.6l7.5 12.7h-15.0zM595.1 1099.5l7.5 12.7h-15.0zM595.8 1099.7l7.5 12.7h-15.0zM596.6 1075.9l7.5 12.7h-15.0zM596.6 1099.2l7.5 12.7h-15.0zM597.3 1072.7l7.5 12.7h-15.0zM597.3 1071.7l7.5 12.7h-15.0zM597.3 1099.9l7.5 12.7h-15.0zM598.0 1098.8l7.5 12.7h-15.0zM598.8 1086.2l7.5 12.7h-15.0zM599.5 1099.6l7.5 12.7h-15.0zM600.3 1093.4l7.5 12.7h-15.0zM601.0 1094.6l7.5 12.7h-15.0zM601.0 1099.1l7.5 12.7h-15.0zM601.7 1074.3l7.5 12.7h-15.0zM601.7 1098.8l7.5 12.7h-15.0zM603.2 1077.4l7.5 12.7h-15.0zM603.2 1076.1l7.5 12.7h-15.0zM604.7 1079.1l7.5 12.7h-15.0zM604.7 1100.0l7.5 12.7h-15.0zM605.4 1080.9l7.5 12.7h-15.0zM605.4 1078.7l7.5 12.7h-15.0zM605.4 1099.1l7.5 12.7h-15.0zM606.2 1098.9l7.5 12.7h-15.0zM608.4 1082.9l7.5 12.7h-15.0zM609.1 1081.0l7.5 12.7h-15.0zM609.1 1099.1l7.5 12.7h-15.0zM609.9 1091.3l7.5 12.7h-15.0zM609.9 1081.2l7.5 12.7h-15.0zM611.4 1091.0l7.5 12.7h-15.0zM612.8 1078.2l7.5 12.7h-15.0zM612.8 1075.7l7.5 12.7h-15.0zM615.8 1074.0l7.5 12.7h-15.0zM616.5 1072.9l7.5 12.7h-15.0zM618.0 1071.3l7.5 12.7h-15.0zM618.0 1071.1l7.5 12.7h-15.0zM618.8 1069.3l7.5 12.7h-15.0zM619.5 1068.5l7.5 12.7h-15.0zM619.5 1068.2l7.5 12.7h-15.0zM620.2 1066.0l7.5 12.7h-15.0zM620.2 1070.0l7.5 12.7h-15.0zM621.7 1062.9l7.5 12.7h-15.0zM622.5 1064.9l7.5 12.7h-15.0zM622.5 1067.7l7.5 12.7h-15.0zM623.2 1068.8l7.5 12.7h-15.0zM623.9 1067.2l7.5 12.7h-15.0zM641.0 1012.9l7.5 12.7h-15.0zM641.0 993.1l7.5 12.7h-15.0zM641.7 994.2l7.5 12.7h-15.0zM641.7 1033.7l7.5 12.7h-15.0zM642.5 1033.0l7.5 12.7h-15.0zM643.2 1033.8l7.5 12.7h-15.0zM644.0 1002.1l7.5 12.7h-15.0zM644.0 1032.5l7.5 12.7h-15.0zM644.7 1010.5l7.5 12.7h-15.0zM644.7 1000.5l7.5 12.7h-15.0zM645.4 1023.9l7.5 12.7h-15.0zM647.7 1015.8l7.5 12.7h-15.0zM648.4 1014.6l7.5 12.7h-15.0zM649.1 1037.1l7.5 12.7h-15.0zM649.9 1014.4l7.5 12.7h-15.0zM649.9 1005.8l7.5 12.7h-15.0zM650.6 1017.2l7.5 12.7h-15.0zM650.6 1003.0l7.5 12.7h-15.0zM651.4 1004.0l7.5 12.7h-15.0zM652.1 1037.1l7.5 12.7h-15.0zM652.1 1005.5l7.5 12.7h-15.0zM652.1 1041.0l7.5 12.7h-15.0zM652.8 1015.1l7.5 12.7h-15.0zM652.8 1040.8l7.5 12.7h-15.0zM653.6 1005.0l7.5 12.7h-15.0zM653.6 1043.0l7.5 12.7h-15.0zM654.3 1042.8l7.5 12.7h-15.0zM655.1 1018.3l7.5 12.7h-15.0zM655.1 1007.0l7.5 12.7h-15.0zM655.1 1042.2l7.5 12.7h-15.0zM655.8 1042.4l7.5 12.7h-15.0zM655.8 1045.1l7.5 12.7h-15.0zM656.5 1008.6l7.5 12.7h-15.0zM656.5 1045.9l7.5 12.7h-15.0zM657.3 1013.4l7.5 12.7h-15.0zM657.3 1044.6l7.5 12.7h-15.0zM658.8 1038.3l7.5 12.7h-15.0zM658.8 1045.6l7.5 12.7h-15.0zM659.5 1037.7l7.5 12.7h-15.0zM660.2 1043.0l7.5 12.7h-15.0zM660.2 1046.7l7.5 12.7h-15.0zM661.0 1031.3l7.5 12.7h-15.0zM661.0 1046.0l7.5 12.7h-15.0zM661.7 1039.0l7.5 12.7h-15.0zM661.7 1031.3l7.5 12.7h-15.0zM661.7 1045.1l7.5 12.7h-15.0zM662.5 1030.4l7.5 12.7h-15.0zM662.5 1045.0l7.5 12.7h-15.0zM663.2 1033.7l7.5 12.7h-15.0zM663.2 1045.6l7.5 12.7h-15.0zM663.9 1044.1l7.5 12.7h-15.0zM663.9 1041.9l7.5 12.7h-15.0zM663.9 1045.7l7.5 12.7h-15.0zM664.7 1041.7l7.5 12.7h-15.0zM664.7 1042.4l7.5 12.7h-15.0zM664.7 1047.4l7.5 12.7h-15.0zM665.4 1047.1l7.5 12.7h-15.0zM666.2 1045.7l7.5 12.7h-15.0zM666.9 1047.3l7.5 12.7h-15.0zM667.6 1042.9l7.5 12.7h-15.0zM668.4 1042.4l7.5 12.7h-15.0zM668.4 1041.9l7.5 12.7h-15.0zM669.1 1046.6l7.5 12.7h-15.0zM669.9 1044.2l7.5 12.7h-15.0zM670.6 1044.1l7.5 12.7h-15.0zM670.6 1047.8l7.5 12.7h-15.0zM671.3 1044.4l7.5 12.7h-15.0zM671.3 1041.8l7.5 12.7h-15.0zM671.3 1045.6l7.5 12.7h-15.0zM672.1 1029.4l7.5 12.7h-15.0zM672.1 1047.3l7.5 12.7h-15.0zM672.8 1040.3l7.5 12.7h-15.0zM672.8 1047.7l7.5 12.7h-15.0zM673.6 1029.2l7.5 12.7h-15.0zM673.6 1034.5l7.5 12.7h-15.0zM674.3 1029.3l7.5 12.7h-15.0zM674.3 1034.2l7.5 12.7h-15.0zM675.0 1030.8l7.5 12.7h-15.0zM675.0 1034.7l7.5 12.7h-15.0zM675.8 1032.7l7.5 12.7h-15.0zM677.3 1035.2l7.5 12.7h-15.0zM677.3 1022.1l7.5 12.7h-15.0zM677.3 1034.6l7.5 12.7h-15.0zM678.0 1032.5l7.5 12.7h-15.0zM678.0 1032.9l7.5 12.7h-15.0zM678.7 1034.3l7.5 12.7h-15.0zM679.5 1025.1l7.5 12.7h-15.0zM679.5 1032.7l7.5 12.7h-15.0zM680.2 1022.0l7.5 12.7h-15.0zM680.2 1034.0l7.5 12.7h-15.0zM681.0 1018.4l7.5 12.7h-15.0zM681.0 1033.4l7.5 12.7h-15.0zM681.7 1022.2l7.5 12.7h-15.0zM681.7 1019.6l7.5 12.7h-15.0zM681.7 1033.0l7.5 12.7h-15.0zM682.4 1021.6l7.5 12.7h-15.0zM682.4 1017.5l7.5 12.7h-15.0zM682.4 1033.8l7.5 12.7h-15.0zM683.2 1025.1l7.5 12.7h-15.0zM683.2 1020.4l7.5 12.7h-15.0zM683.2 1032.7l7.5 12.7h-15.0zM683.9 1017.4l7.5 12.7h-15.0zM683.9 1019.9l7.5 12.7h-15.0zM683.9 1032.4l7.5 12.7h-15.0zM684.7 1029.4l7.5 12.7h-15.0zM686.1 1031.7l7.5 12.7h-15.0zM686.9 1030.0l7.5 12.7h-15.0zM686.9 1031.0l7.5 12.7h-15.0zM688.4 1024.4l7.5 12.7h-15.0zM689.1 1025.6l7.5 12.7h-15.0zM689.1 1019.8l7.5 12.7h-15.0zM689.1 1030.5l7.5 12.7h-15.0zM689.8 1030.4l7.5 12.7h-15.0zM689.8 1017.1l7.5 12.7h-15.0zM690.6 1031.8l7.5 12.7h-15.0zM691.3 1029.6l7.5 12.7h-15.0zM692.1 1017.5l7.5 12.7h-15.0zM692.1 1031.6l7.5 12.7h-15.0zM692.8 1030.7l7.5 12.7h-15.0zM693.5 1027.0l7.5 12.7h-15.0zM693.5 1017.7l7.5 12.7h-15.0zM693.5 1030.6l7.5 12.7h-15.0zM694.3 1025.8l7.5 12.7h-15.0zM695.0 1031.1l7.5 12.7h-15.0zM695.8 1026.4l7.5 12.7h-15.0zM695.8 1029.2l7.5 12.7h-15.0zM696.5 1017.3l7.5 12.7h-15.0zM696.5 1017.0l7.5 12.7h-15.0zM697.2 1017.2l7.5 12.7h-15.0zM697.2 1029.6l7.5 12.7h-15.0zM698.0 1016.5l7.5 12.7h-15.0zM698.7 1029.6l7.5 12.7h-15.0zM699.5 1030.1l7.5 12.7h-15.0zM700.2 1019.2l7.5 12.7h-15.0zM700.2 1029.0l7.5 12.7h-15.0zM700.9 1020.3l7.5 12.7h-15.0zM702.4 1029.4l7.5 12.7h-15.0zM703.2 1031.1l7.5 12.7h-15.0zM705.4 1029.5l7.5 12.7h-15.0zM706.1 1029.6l7.5 12.7h-15.0zM706.9 1019.9l7.5 12.7h-15.0zM707.6 1018.5l7.5 12.7h-15.0zM707.6 1018.0l7.5 12.7h-15.0zM707.6 1030.4l7.5 12.7h-15.0zM708.3 1022.8l7.5 12.7h-15.0zM709.1 1020.3l7.5 12.7h-15.0zM709.8 1030.0l7.5 12.7h-15.0zM710.6 1026.1l7.5 12.7h-15.0zM710.6 1019.4l7.5 12.7h-15.0zM712.8 1017.2l7.5 12.7h-15.0zM713.5 1030.6l7.5 12.7h-15.0zM715.0 1028.5l7.5 12.7h-15.0zM715.7 1029.1l7.5 12.7h-15.0zM715.7 1029.6l7.5 12.7h-15.0zM716.5 1030.3l7.5 12.7h-15.0zM716.5 1028.7l7.5 12.7h-15.0zM717.2 1021.1l7.5 12.7h-15.0zM717.2 1028.9l7.5 12.7h-15.0zM718.0 1027.7l7.5 12.7h-15.0zM718.0 1020.9l7.5 12.7h-15.0zM718.0 1029.0l7.5 12.7h-15.0zM718.7 1017.2l7.5 12.7h-15.0zM718.7 1020.5l7.5 12.7h-15.0zM718.7 1029.1l7.5 12.7h-15.0zM719.4 1020.5l7.5 12.7h-15.0zM719.4 1029.4l7.5 12.7h-15.0zM720.2 1027.8l7.5 12.7h-15.0zM720.9 1028.4l7.5 12.7h-15.0zM720.9 1029.8l7.5 12.7h-15.0zM722.4 1018.8l7.5 12.7h-15.0zM723.1 1020.8l7.5 12.7h-15.0zM723.1 1029.3l7.5 12.7h-15.0zM723.9 1028.3l7.5 12.7h-15.0zM724.6 1019.8l7.5 12.7h-15.0zM724.6 1019.0l7.5 12.7h-15.0zM724.6 1028.3l7.5 12.7h-15.0zM726.1 1020.1l7.5 12.7h-15.0zM726.1 1028.4l7.5 12.7h-15.0zM726.8 1018.3l7.5 12.7h-15.0zM726.8 1028.3l7.5 12.7h-15.0zM727.6 1017.0l7.5 12.7h-15.0zM727.6 1027.8l7.5 12.7h-15.0zM728.3 1029.9l7.5 12.7h-15.0zM729.1 1029.2l7.5 12.7h-15.0zM729.8 1030.0l7.5 12.7h-15.0zM730.5 1029.2l7.5 12.7h-15.0zM730.5 1028.5l7.5 12.7h-15.0zM731.3 1027.9l7.5 12.7h-15.0zM731.3 1028.1l7.5 12.7h-15.0zM732.0 1027.5l7.5 12.7h-15.0zM732.0 1030.7l7.5 12.7h-15.0zM732.8 1029.6l7.5 12.7h-15.0zM734.2 1034.4l7.5 12.7h-15.0zM735.7 1040.0l7.5 12.7h-15.0zM735.7 1044.0l7.5 12.7h-15.0zM736.5 1042.8l7.5 12.7h-15.0zM736.5 1045.2l7.5 12.7h-15.0zM737.2 1043.5l7.5 12.7h-15.0zM737.2 1044.3l7.5 12.7h-15.0zM737.9 1044.3l7.5 12.7h-15.0zM738.7 1040.4l7.5 12.7h-15.0zM739.4 1046.9l7.5 12.7h-15.0zM740.2 1039.3l7.5 12.7h-15.0zM740.2 1046.2l7.5 12.7h-15.0zM740.9 1039.5l7.5 12.7h-15.0zM740.9 1038.7l7.5 12.7h-15.0zM740.9 1047.4l7.5 12.7h-15.0zM741.6 1040.2l7.5 12.7h-15.0zM741.6 1048.5l7.5 12.7h-15.0zM742.4 1041.5l7.5 12.7h-15.0zM742.4 1049.2l7.5 12.7h-15.0zM743.1 1040.0l7.5 12.7h-15.0zM743.1 1049.0l7.5 12.7h-15.0zM743.9 1050.8l7.5 12.7h-15.0zM744.6 1042.7l7.5 12.7h-15.0zM744.6 1050.2l7.5 12.7h-15.0zM745.3 1041.1l7.5 12.7h-15.0zM745.3 1044.1l7.5 12.7h-15.0zM746.8 1050.8l7.5 12.7h-15.0zM746.8 1053.6l7.5 12.7h-15.0zM747.6 1045.3l7.5 12.7h-15.0zM748.3 1046.9l7.5 12.7h-15.0zM748.3 1054.2l7.5 12.7h-15.0zM749.0 1052.3l7.5 12.7h-15.0zM749.8 1050.7l7.5 12.7h-15.0zM749.8 1050.1l7.5 12.7h-15.0zM749.8 1053.4l7.5 12.7h-15.0zM750.5 1053.8l7.5 12.7h-15.0zM752.0 1056.7l7.5 12.7h-15.0zM752.0 1059.4l7.5 12.7h-15.0zM752.0 1054.6l7.5 12.7h-15.0zM752.7 1057.3l7.5 12.7h-15.0zM754.2 1058.4l7.5 12.7h-15.0zM754.2 1060.7l7.5 12.7h-15.0zM755.0 1058.9l7.5 12.7h-15.0zM755.0 1057.9l7.5 12.7h-15.0zM755.7 1059.5l7.5 12.7h-15.0zM756.4 1059.9l7.5 12.7h-15.0zM757.2 1060.5l7.5 12.7h-15.0zM757.2 1061.8l7.5 12.7h-15.0zM757.2 1060.2l7.5 12.7h-15.0zM760.1 1069.8l7.5 12.7h-15.0zM761.6 1070.9l7.5 12.7h-15.0zM761.6 1070.4l7.5 12.7h-15.0zM763.1 1071.4l7.5 12.7h-15.0zM763.8 1071.9l7.5 12.7h-15.0zM763.8 1071.9l7.5 12.7h-15.0zM763.8 1071.8l7.5 12.7h-15.0zM764.6 1071.3l7.5 12.7h-15.0zM764.6 1071.6l7.5 12.7h-15.0zM765.3 1071.0l7.5 12.7h-15.0zM766.8 1073.2l7.5 12.7h-15.0zM768.3 1073.8l7.5 12.7h-15.0zM768.3 1073.5l7.5 12.7h-15.0zM769.8 1074.5l7.5 12.7h-15.0zM769.8 1072.6l7.5 12.7h-15.0zM647.6 956.9l7.5 12.7h-15.0zM694.2 956.9l7.5 12.7h-15.0zM646.6 975.4l7.5 12.7h-15.0zM630.2 990.8l7.5 12.7h-15.0zM648.1 987.6l7.5 12.7h-15.0zM698.4 989.7l7.5 12.7h-15.0zM677.8 1003.5l7.5 12.7h-15.0zM630.2 1004.6l7.5 12.7h-15.0zM639.2 1000.3l7.5 12.7h-15.0zM657.7 1000.3l7.5 12.7h-15.0zM698.4 1006.7l7.5 12.7h-15.0zM677.2 1018.8l7.5 12.7h-15.0zM687.8 1018.8l7.5 12.7h-15.0zM652.4 1021.5l7.5 12.7h-15.0zM629.6 1020.4l7.5 12.7h-15.0zM639.2 1024.7l7.5 12.7h-15.0zM629.6 1035.2l7.5 12.7h-15.0zM628.6 1043.7l7.5 12.7h-15.0zM645.5 1033.1l7.5 12.7h-15.0zM659.3 1041.6l7.5 12.7h-15.0zM674.0 1055.9l7.5 12.7h-15.0zM623.3 1056.4l7.5 12.7h-15.0zM625.4 1070.2l7.5 12.7h-15.0zM635.0 1045.0l7.5 12.7h-15.0zM665.0 1030.0l7.5 12.7h-15.0zM669.0 1040.0l7.5 12.7h-15.0zM640.0 1012.0l7.5 12.7h-15.0zM650.0 1008.0l7.5 12.7h-15.0zM655.0 1028.0l7.5 12.7h-15.0zM662.0 1045.0l7.5 12.7h-15.0zM668.0 1050.0l7.5 12.7h-15.0zM636.0 1058.0l7.5 12.7h-15.0zM632.0 1062.0l7.5 12.7h-15.0zM630.0 1075.0l7.5 12.7h-15.0zM628.0 1010.0l7.5 12.7h-15.0zM635.0 1020.0l7.5 12.7h-15.0zM628.0 1030.0l7.5 12.7h-15.0zM640.0 1040.0l7.5 12.7h-15.0zM632.0 1050.0l7.5 12.7h-15.0zM642.0 1030.0l7.5 12.7h-15.0zM626.0 1045.0l7.5 12.7h-15.0zM645.0 1050.0l7.5 12.7h-15.0zM636.0 1060.0l7.5 12.7h-15.0zM633.0 1005.0l7.5 12.7h-15.0zM643.0 1015.0l7.5 12.7h-15.0zM730.0 966.3l7.5 12.7h-15.0zM766.0 990.7l7.5 12.7h-15.0zM699.3 989.6l7.5 12.7h-15.0zM677.0 1003.4l7.5 12.7h-15.0zM698.2 1007.6l7.5 12.7h-15.0zM731.0 1011.9l7.5 12.7h-15.0zM777.6 1064.3l7.5 12.7h-15.0zM789.2 1073.3l7.5 12.7h-15.0zM766.5 1088.1l7.5 12.7h-15.0zM776.5 1096.6l7.5 12.7h-15.0zM788.7 1105.6l7.5 12.7h-15.0zM767.0 1101.4l7.5 12.7h-15.0zM672.8 1058.4l7.5 12.7h-15.0zM765.2 1393.8l7.5 12.7h-15.0zM566.5 1029.7l7.5 12.7h-15.0zM494.5 1117.6l7.5 12.7h-15.0zM487.0 1117.6l7.5 12.7h-15.0zM171.2 1210.2l7.5 12.7h-15.0zM284.4 1184.8l7.5 12.7h-15.0zM767.3 1100.0l7.5 12.7h-15.0zM777.0 1100.0l7.5 12.7h-15.0zM788.9 1104.9l7.5 12.7h-15.0z" fill="#f00"/>
</g>
<clipPath id="cp2"><rect x="101" y="1700.4" width="736.3" height="587.2"/></clipPath>
<g clip-path="url(#cp2)">
<polygon points="101.0,1728.0 109.0,1728.0 109.0,1736.6 115.6,1736.6 115.6,1738.0 125.0,1741.0 125.0,1747.0 134.0,1749.0 134.0,1741.4 148.0,1741.4 154.0,1756.0 158.5,1758.0 163.0,1761.0 163.0,1763.6 184.0,1763.6 184.0,1767.5 214.0,1767.5 214.0,1772.3 251.0,1772.3 251.0,1776.0 274.0,1776.0 274.0,1771.4 286.0,1771.4 286.0,1775.3 292.0,1775.3 292.0,1779.5 319.0,1780.0 319.0,1782.5 322.5,1783.3 333.6,1783.3 333.6,1785.6 349.5,1785.6 349.5,1791.0 360.6,1793.6 360.6,1796.8 386.0,1798.3 386.6,1802.5 396.0,1802.5 396.0,1807.3 413.6,1807.3 413.6,1815.9 423.0,1815.9 423.0,1819.9 434.0,1819.9 434.0,1824.8 453.0,1824.8 453.0,1829.5 459.6,1829.5 459.6,1833.5 470.7,1838.2 470.7,1842.2 486.6,1842.2 486.6,1846.9 502.5,1851.9 502.5,1859.7 515.0,1864.3 515.0,1868.3 538.7,1868.8 538.7,1877.5 545.9,1877.5 545.9,1882.3 550.6,1882.3 550.6,1886.2 569.7,1886.2 569.7,1896.6 579.2,1896.6 579.2,1901.3 609.4,1900.8 609.4,1905.3 616.5,1905.3 616.5,1914.0 622.0,1914.0 622.0,1918.8 626.0,1918.8 626.0,1935.7 629.0,1935.7 629.0,1958.2 637.0,1958.2 637.0,1966.7 644.4,1966.7 644.4,1985.2 650.8,1985.2 650.8,1977.3 661.0,1977.3 661.0,1999.4 677.0,1999.4 677.0,2012.1 681.0,2016.6 681.0,2029.6 687.0,2029.6 687.0,2039.1 697.0,2039.1 697.0,2062.3 705.0,2062.3 705.0,2089.3 716.0,2089.3 716.0,2097.2 722.7,2097.2 722.7,2084.5 733.0,2084.5 733.0,2106.5 737.0,2115.7 742.8,2115.7 745.7,2119.8 745.7,2124.5 755.6,2124.5 758.0,2128.4 760.8,2133.7 760.8,2147.6 766.0,2147.6 767.8,2151.7 767.8,2162.2 756.0,2162.2 756.0,2158.1 752.0,2158.1 752.0,2152.9 749.2,2148.8 737.0,2148.8 737.0,2140.1 734.0,2140.1 734.0,2130.8 730.0,2130.8 727.6,2126.4 718.0,2124.5 718.0,2121.5 708.6,2117.5 708.6,2112.1 697.0,2104.2 697.0,2084.5 689.0,2081.5 689.0,2061.2 678.0,2061.2 678.0,2042.2 670.0,2042.2 670.0,2029.6 663.5,2029.6 663.5,2015.2 633.0,2015.2 633.0,1994.6 624.0,1994.6 624.0,1975.7 617.0,1975.7 617.0,1938.5 614.0,1938.5 614.0,1933.7 607.8,1933.7 607.8,1925.8 600.0,1925.8 600.0,1921.2 593.5,1921.2 593.5,1925.1 577.6,1925.1 577.6,1921.2 571.0,1921.2 571.0,1915.6 561.7,1915.6 561.7,1906.1 542.0,1906.1 542.0,1902.1 536.0,1902.1 536.0,1895.8 531.0,1895.8 531.0,1888.1 509.0,1888.1 509.0,1883.4 499.0,1883.4 499.0,1878.6 482.0,1878.6 482.0,1861.3 475.5,1861.3 475.5,1865.8 455.0,1865.8 455.0,1848.6 445.0,1848.6 445.0,1842.2 437.0,1842.2 437.0,1839.9 420.0,1839.9 420.0,1835.9 407.0,1830.9 407.0,1827.1 396.0,1827.1 396.0,1822.4 379.7,1822.4 379.7,1814.9 373.0,1814.9 373.0,1816.5 362.0,1816.5 362.0,1812.5 351.0,1812.5 351.0,1810.2 340.0,1810.2 340.0,1804.6 329.0,1804.6 317.8,1803.9 317.8,1799.9 308.0,1799.9 308.0,1796.0 291.0,1796.0 291.0,1794.4 270.0,1794.4 270.0,1792.8 263.8,1792.8 263.8,1791.2 230.0,1791.4 230.0,1790.6 218.8,1790.6 218.8,1787.4 195.0,1787.4 195.0,1785.8 184.0,1785.8 184.0,1782.0 163.0,1782.0 163.0,1774.0 150.5,1774.0 150.5,1769.0 134.0,1769.0 134.0,1768.3 125.0,1768.3 125.0,1759.6 115.0,1759.6 115.0,1750.9 101.0,1750.9" fill="#000"/>
<path d="M153.7 1819.9H169.6V1832.5H153.7zM174.4 1819.9H190.0V1832.5H174.4zM758.0 2178.4H769.0V2194.7H758.0zM769.0 2191.8H787.0V2206.3H769.0zM780.0 2200.3H794.0V2212.3H780.0zM769.6 2213.9H780.0V2225.0H769.6z" fill="#000"/>
<path d="M479.3 1909.1H490.2V1920.3H479.3z" fill="#000"/>
<path d="M101.7 1807.5l7.5 12.7h-15.0zM102.2 1761.8l7.5 12.7h-15.0zM103.0 1834.7l7.5 12.7h-15.0zM103.8 1797.2l7.5 12.7h-15.0zM103.7 1760.4l7.5 12.7h-15.0zM104.5 1846.6l7.5 12.7h-15.0zM105.3 1775.1l7.5 12.7h-15.0zM105.2 1764.4l7.5 12.7h-15.0zM106.3 1812.6l7.5 12.7h-15.0zM106.8 1779.0l7.5 12.7h-15.0zM107.9 1776.0l7.5 12.7h-15.0zM108.2 1761.1l7.5 12.7h-15.0zM109.0 1785.9l7.5 12.7h-15.0zM109.5 1793.4l7.5 12.7h-15.0zM109.6 1853.6l7.5 12.7h-15.0zM110.6 1812.4l7.5 12.7h-15.0zM110.4 1764.0l7.5 12.7h-15.0zM110.7 1770.8l7.5 12.7h-15.0zM112.1 1817.3l7.5 12.7h-15.0zM112.6 1809.4l7.5 12.7h-15.0zM113.3 1853.2l7.5 12.7h-15.0zM114.0 1800.9l7.5 12.7h-15.0zM115.3 1772.2l7.5 12.7h-15.0zM116.3 1855.0l7.5 12.7h-15.0zM117.0 1780.9l7.5 12.7h-15.0zM117.7 1770.9l7.5 12.7h-15.0zM117.8 1839.1l7.5 12.7h-15.0zM119.9 1776.1l7.5 12.7h-15.0zM121.1 1815.8l7.5 12.7h-15.0zM121.7 1794.8l7.5 12.7h-15.0zM122.1 1824.0l7.5 12.7h-15.0zM122.8 1772.6l7.5 12.7h-15.0zM125.9 1812.4l7.5 12.7h-15.0zM127.4 1782.0l7.5 12.7h-15.0zM129.0 1811.2l7.5 12.7h-15.0zM130.8 1817.5l7.5 12.7h-15.0zM132.0 1811.1l7.5 12.7h-15.0zM132.7 1792.4l7.5 12.7h-15.0zM133.5 1768.6l7.5 12.7h-15.0zM133.8 1808.5l7.5 12.7h-15.0zM134.1 1842.0l7.5 12.7h-15.0zM134.4 1775.0l7.5 12.7h-15.0zM135.2 1795.1l7.5 12.7h-15.0zM136.1 1821.8l7.5 12.7h-15.0zM136.3 1762.2l7.5 12.7h-15.0zM136.7 1817.5l7.5 12.7h-15.0zM137.0 1846.7l7.5 12.7h-15.0zM137.8 1787.5l7.5 12.7h-15.0zM139.1 1775.4l7.5 12.7h-15.0zM141.0 1766.7l7.5 12.7h-15.0zM141.2 1805.3l7.5 12.7h-15.0zM142.0 1784.5l7.5 12.7h-15.0zM144.1 1797.2l7.5 12.7h-15.0zM144.9 1804.9l7.5 12.7h-15.0zM146.2 1767.3l7.5 12.7h-15.0zM147.1 1827.8l7.5 12.7h-15.0zM148.2 1803.9l7.5 12.7h-15.0zM148.1 1853.2l7.5 12.7h-15.0zM148.9 1787.3l7.5 12.7h-15.0zM149.5 1812.7l7.5 12.7h-15.0zM149.6 1836.8l7.5 12.7h-15.0zM150.7 1821.7l7.5 12.7h-15.0zM150.3 1854.1l7.5 12.7h-15.0zM151.1 1810.5l7.5 12.7h-15.0zM153.3 1764.2l7.5 12.7h-15.0zM153.9 1815.2l7.5 12.7h-15.0zM154.0 1844.8l7.5 12.7h-15.0zM154.8 1786.9l7.5 12.7h-15.0zM155.5 1760.5l7.5 12.7h-15.0zM156.4 1767.7l7.5 12.7h-15.0zM157.0 1857.4l7.5 12.7h-15.0zM157.9 1826.1l7.5 12.7h-15.0zM157.7 1839.0l7.5 12.7h-15.0zM158.9 1805.4l7.5 12.7h-15.0zM159.2 1759.7l7.5 12.7h-15.0zM159.6 1802.4l7.5 12.7h-15.0zM160.6 1785.9l7.5 12.7h-15.0zM161.4 1852.2l7.5 12.7h-15.0zM162.3 1798.0l7.5 12.7h-15.0zM162.7 1800.9l7.5 12.7h-15.0zM163.4 1780.9l7.5 12.7h-15.0zM164.6 1807.3l7.5 12.7h-15.0zM164.4 1763.6l7.5 12.7h-15.0zM164.4 1832.9l7.5 12.7h-15.0zM164.9 1821.2l7.5 12.7h-15.0zM165.9 1764.1l7.5 12.7h-15.0zM165.9 1833.4l7.5 12.7h-15.0zM167.7 1807.9l7.5 12.7h-15.0zM167.4 1847.0l7.5 12.7h-15.0zM167.9 1787.1l7.5 12.7h-15.0zM168.5 1818.2l7.5 12.7h-15.0zM169.9 1798.6l7.5 12.7h-15.0zM170.2 1772.4l7.5 12.7h-15.0zM170.3 1761.6l7.5 12.7h-15.0zM170.3 1852.7l7.5 12.7h-15.0zM171.3 1766.4l7.5 12.7h-15.0zM171.7 1795.3l7.5 12.7h-15.0zM172.4 1790.3l7.5 12.7h-15.0zM173.1 1776.5l7.5 12.7h-15.0zM173.6 1823.7l7.5 12.7h-15.0zM174.9 1795.7l7.5 12.7h-15.0zM174.8 1844.5l7.5 12.7h-15.0zM175.6 1811.6l7.5 12.7h-15.0zM176.0 1771.4l7.5 12.7h-15.0zM176.8 1795.4l7.5 12.7h-15.0zM177.5 1781.4l7.5 12.7h-15.0zM178.4 1826.6l7.5 12.7h-15.0zM178.5 1761.8l7.5 12.7h-15.0zM178.8 1800.3l7.5 12.7h-15.0zM179.6 1771.0l7.5 12.7h-15.0zM180.7 1763.2l7.5 12.7h-15.0zM180.7 1836.0l7.5 12.7h-15.0zM181.2 1791.6l7.5 12.7h-15.0zM181.4 1828.6l7.5 12.7h-15.0zM182.9 1771.9l7.5 12.7h-15.0zM184.0 1803.2l7.5 12.7h-15.0zM184.4 1796.4l7.5 12.7h-15.0zM185.3 1822.3l7.5 12.7h-15.0zM186.3 1813.7l7.5 12.7h-15.0zM187.0 1781.7l7.5 12.7h-15.0zM187.3 1765.2l7.5 12.7h-15.0zM187.7 1809.3l7.5 12.7h-15.0zM188.1 1763.9l7.5 12.7h-15.0zM188.5 1792.4l7.5 12.7h-15.0zM189.9 1806.5l7.5 12.7h-15.0zM190.6 1806.5l7.5 12.7h-15.0zM190.9 1815.8l7.5 12.7h-15.0zM191.5 1782.8l7.5 12.7h-15.0zM192.7 1800.4l7.5 12.7h-15.0zM192.5 1763.4l7.5 12.7h-15.0zM193.5 1823.8l7.5 12.7h-15.0zM193.9 1786.8l7.5 12.7h-15.0zM194.0 1766.6l7.5 12.7h-15.0zM194.4 1798.7l7.5 12.7h-15.0zM195.8 1814.3l7.5 12.7h-15.0zM197.2 1822.5l7.5 12.7h-15.0zM197.4 1815.2l7.5 12.7h-15.0zM197.7 1840.6l7.5 12.7h-15.0zM198.5 1795.6l7.5 12.7h-15.0zM199.0 1779.0l7.5 12.7h-15.0zM201.0 1816.4l7.5 12.7h-15.0zM201.1 1815.8l7.5 12.7h-15.0zM201.4 1828.2l7.5 12.7h-15.0zM202.3 1819.7l7.5 12.7h-15.0zM203.0 1817.4l7.5 12.7h-15.0zM203.2 1797.0l7.5 12.7h-15.0zM204.2 1768.9l7.5 12.7h-15.0zM205.3 1790.4l7.5 12.7h-15.0zM206.8 1788.2l7.5 12.7h-15.0zM207.1 1771.9l7.5 12.7h-15.0zM207.3 1765.6l7.5 12.7h-15.0zM209.7 1805.6l7.5 12.7h-15.0zM210.6 1809.4l7.5 12.7h-15.0zM211.3 1781.1l7.5 12.7h-15.0zM211.4 1789.6l7.5 12.7h-15.0zM212.9 1806.3l7.5 12.7h-15.0zM214.3 1779.5l7.5 12.7h-15.0zM215.0 1777.0l7.5 12.7h-15.0zM215.1 1799.2l7.5 12.7h-15.0zM217.3 1784.5l7.5 12.7h-15.0zM217.7 1825.1l7.5 12.7h-15.0zM218.5 1777.9l7.5 12.7h-15.0zM219.3 1808.0l7.5 12.7h-15.0zM219.2 1766.6l7.5 12.7h-15.0zM221.0 1780.4l7.5 12.7h-15.0zM221.1 1778.4l7.5 12.7h-15.0zM222.2 1773.5l7.5 12.7h-15.0zM224.8 1788.2l7.5 12.7h-15.0zM225.8 1766.3l7.5 12.7h-15.0zM226.3 1800.1l7.5 12.7h-15.0zM227.7 1818.7l7.5 12.7h-15.0zM227.3 1768.5l7.5 12.7h-15.0zM227.7 1793.6l7.5 12.7h-15.0zM229.7 1810.1l7.5 12.7h-15.0zM230.5 1795.6l7.5 12.7h-15.0zM230.3 1766.5l7.5 12.7h-15.0zM230.7 1782.2l7.5 12.7h-15.0zM233.2 1767.8l7.5 12.7h-15.0zM233.8 1791.5l7.5 12.7h-15.0zM234.5 1818.5l7.5 12.7h-15.0zM235.3 1817.3l7.5 12.7h-15.0zM236.1 1807.8l7.5 12.7h-15.0zM237.3 1806.9l7.5 12.7h-15.0zM240.1 1788.2l7.5 12.7h-15.0zM240.6 1780.2l7.5 12.7h-15.0zM241.1 1774.8l7.5 12.7h-15.0zM241.4 1826.2l7.5 12.7h-15.0zM243.1 1815.4l7.5 12.7h-15.0zM243.9 1814.0l7.5 12.7h-15.0zM243.6 1761.7l7.5 12.7h-15.0zM244.5 1784.7l7.5 12.7h-15.0zM245.4 1801.5l7.5 12.7h-15.0zM245.1 1831.5l7.5 12.7h-15.0zM245.7 1789.8l7.5 12.7h-15.0zM246.6 1778.6l7.5 12.7h-15.0zM247.3 1801.1l7.5 12.7h-15.0zM247.3 1764.3l7.5 12.7h-15.0zM248.1 1805.3l7.5 12.7h-15.0zM248.0 1762.5l7.5 12.7h-15.0zM248.0 1825.1l7.5 12.7h-15.0zM248.4 1779.9l7.5 12.7h-15.0zM251.7 1761.3l7.5 12.7h-15.0zM252.4 1810.8l7.5 12.7h-15.0zM254.0 1774.2l7.5 12.7h-15.0zM253.9 1816.4l7.5 12.7h-15.0zM254.4 1812.3l7.5 12.7h-15.0zM256.7 1776.4l7.5 12.7h-15.0zM258.6 1791.0l7.5 12.7h-15.0zM258.4 1757.2l7.5 12.7h-15.0zM259.4 1764.9l7.5 12.7h-15.0zM259.1 1832.4l7.5 12.7h-15.0zM259.9 1773.8l7.5 12.7h-15.0zM259.9 1814.1l7.5 12.7h-15.0zM260.6 1825.0l7.5 12.7h-15.0zM262.2 1804.0l7.5 12.7h-15.0zM262.7 1762.3l7.5 12.7h-15.0zM264.1 1808.4l7.5 12.7h-15.0zM264.3 1821.3l7.5 12.7h-15.0zM265.0 1792.3l7.5 12.7h-15.0zM265.8 1795.3l7.5 12.7h-15.0zM267.3 1805.3l7.5 12.7h-15.0zM268.2 1801.9l7.5 12.7h-15.0zM268.0 1817.8l7.5 12.7h-15.0zM269.1 1774.0l7.5 12.7h-15.0zM269.9 1791.5l7.5 12.7h-15.0zM271.3 1779.4l7.5 12.7h-15.0zM271.6 1776.7l7.5 12.7h-15.0zM271.7 1831.2l7.5 12.7h-15.0zM272.7 1763.8l7.5 12.7h-15.0zM273.6 1780.5l7.5 12.7h-15.0zM273.9 1826.1l7.5 12.7h-15.0zM274.3 1785.0l7.5 12.7h-15.0zM275.1 1797.2l7.5 12.7h-15.0zM276.5 1786.3l7.5 12.7h-15.0zM277.3 1780.7l7.5 12.7h-15.0zM278.8 1762.6l7.5 12.7h-15.0zM280.2 1787.2l7.5 12.7h-15.0zM281.3 1813.4l7.5 12.7h-15.0zM282.1 1838.2l7.5 12.7h-15.0zM282.5 1763.9l7.5 12.7h-15.0zM284.3 1771.4l7.5 12.7h-15.0zM284.3 1829.1l7.5 12.7h-15.0zM285.2 1775.2l7.5 12.7h-15.0zM286.1 1802.4l7.5 12.7h-15.0zM287.6 1765.2l7.5 12.7h-15.0zM288.0 1757.9l7.5 12.7h-15.0zM291.3 1795.3l7.5 12.7h-15.0zM292.4 1780.8l7.5 12.7h-15.0zM295.5 1785.1l7.5 12.7h-15.0zM296.0 1792.0l7.5 12.7h-15.0zM297.4 1796.5l7.5 12.7h-15.0zM297.6 1804.2l7.5 12.7h-15.0zM299.3 1779.7l7.5 12.7h-15.0zM299.1 1828.9l7.5 12.7h-15.0zM301.3 1756.3l7.5 12.7h-15.0zM301.7 1773.3l7.5 12.7h-15.0zM302.6 1758.1l7.5 12.7h-15.0zM304.9 1778.0l7.5 12.7h-15.0zM305.0 1816.4l7.5 12.7h-15.0zM309.2 1787.8l7.5 12.7h-15.0zM310.5 1773.8l7.5 12.7h-15.0zM310.6 1770.4l7.5 12.7h-15.0zM310.9 1751.6l7.5 12.7h-15.0zM311.3 1781.8l7.5 12.7h-15.0zM312.7 1761.2l7.5 12.7h-15.0zM312.4 1803.1l7.5 12.7h-15.0zM315.3 1793.3l7.5 12.7h-15.0zM316.1 1753.8l7.5 12.7h-15.0zM316.8 1820.5l7.5 12.7h-15.0zM317.4 1794.5l7.5 12.7h-15.0zM319.2 1796.8l7.5 12.7h-15.0zM319.1 1813.9l7.5 12.7h-15.0zM319.8 1764.0l7.5 12.7h-15.0zM320.7 1767.9l7.5 12.7h-15.0zM320.5 1808.0l7.5 12.7h-15.0zM321.3 1809.0l7.5 12.7h-15.0zM322.0 1752.5l7.5 12.7h-15.0zM322.8 1821.6l7.5 12.7h-15.0zM323.6 1776.6l7.5 12.7h-15.0zM323.5 1805.5l7.5 12.7h-15.0zM324.1 1792.1l7.5 12.7h-15.0zM325.3 1781.4l7.5 12.7h-15.0zM326.4 1794.2l7.5 12.7h-15.0zM328.1 1759.0l7.5 12.7h-15.0zM328.7 1750.8l7.5 12.7h-15.0zM329.5 1758.7l7.5 12.7h-15.0zM330.3 1778.4l7.5 12.7h-15.0zM331.5 1783.0l7.5 12.7h-15.0zM332.6 1796.1l7.5 12.7h-15.0zM334.3 1774.0l7.5 12.7h-15.0zM335.4 1775.0l7.5 12.7h-15.0zM335.7 1790.5l7.5 12.7h-15.0zM336.9 1777.6l7.5 12.7h-15.0zM337.4 1781.9l7.5 12.7h-15.0zM338.3 1768.1l7.5 12.7h-15.0zM338.3 1802.2l7.5 12.7h-15.0zM339.4 1761.9l7.5 12.7h-15.0zM340.3 1759.6l7.5 12.7h-15.0zM342.4 1764.0l7.5 12.7h-15.0zM343.3 1791.0l7.5 12.7h-15.0zM345.0 1768.2l7.5 12.7h-15.0zM345.0 1751.6l7.5 12.7h-15.0zM345.4 1766.8l7.5 12.7h-15.0zM346.7 1786.6l7.5 12.7h-15.0zM347.0 1782.1l7.5 12.7h-15.0zM347.6 1757.2l7.5 12.7h-15.0zM348.5 1765.9l7.5 12.7h-15.0zM350.5 1761.5l7.5 12.7h-15.0zM351.6 1800.0l7.5 12.7h-15.0zM352.4 1760.6l7.5 12.7h-15.0zM353.1 1789.9l7.5 12.7h-15.0zM354.6 1780.4l7.5 12.7h-15.0zM355.4 1764.4l7.5 12.7h-15.0zM356.1 1768.3l7.5 12.7h-15.0zM356.1 1751.9l7.5 12.7h-15.0zM357.1 1759.8l7.5 12.7h-15.0zM357.5 1751.7l7.5 12.7h-15.0zM359.0 1762.5l7.5 12.7h-15.0zM359.8 1786.7l7.5 12.7h-15.0zM360.5 1782.4l7.5 12.7h-15.0zM361.3 1780.5l7.5 12.7h-15.0zM362.8 1780.7l7.5 12.7h-15.0zM362.7 1754.9l7.5 12.7h-15.0zM363.5 1784.6l7.5 12.7h-15.0zM365.7 1755.1l7.5 12.7h-15.0zM367.1 1780.2l7.5 12.7h-15.0zM367.9 1802.9l7.5 12.7h-15.0zM369.6 1776.9l7.5 12.7h-15.0zM370.9 1781.6l7.5 12.7h-15.0zM370.9 1812.4l7.5 12.7h-15.0zM371.6 1758.1l7.5 12.7h-15.0zM372.2 1787.4l7.5 12.7h-15.0zM373.6 1770.3l7.5 12.7h-15.0zM373.8 1751.3l7.5 12.7h-15.0zM374.8 1792.2l7.5 12.7h-15.0zM375.4 1774.6l7.5 12.7h-15.0zM375.8 1786.2l7.5 12.7h-15.0zM377.9 1758.0l7.5 12.7h-15.0zM378.1 1793.7l7.5 12.7h-15.0zM379.0 1752.5l7.5 12.7h-15.0zM381.2 1775.9l7.5 12.7h-15.0zM383.2 1793.6l7.5 12.7h-15.0zM384.6 1757.3l7.5 12.7h-15.0zM385.8 1768.8l7.5 12.7h-15.0zM386.2 1787.9l7.5 12.7h-15.0zM386.4 1794.9l7.5 12.7h-15.0zM387.9 1756.1l7.5 12.7h-15.0zM388.6 1753.4l7.5 12.7h-15.0zM390.1 1762.9l7.5 12.7h-15.0zM391.9 1788.0l7.5 12.7h-15.0zM392.7 1768.0l7.5 12.7h-15.0zM393.1 1797.7l7.5 12.7h-15.0zM394.4 1768.7l7.5 12.7h-15.0zM396.4 1777.9l7.5 12.7h-15.0zM397.1 1759.5l7.5 12.7h-15.0zM398.7 1757.4l7.5 12.7h-15.0zM399.6 1766.1l7.5 12.7h-15.0zM400.8 1789.7l7.5 12.7h-15.0zM400.5 1753.8l7.5 12.7h-15.0zM402.0 1774.2l7.5 12.7h-15.0zM403.0 1771.9l7.5 12.7h-15.0zM404.5 1780.7l7.5 12.7h-15.0zM405.3 1780.1l7.5 12.7h-15.0zM407.5 1762.7l7.5 12.7h-15.0zM408.2 1777.9l7.5 12.7h-15.0zM410.5 1779.5l7.5 12.7h-15.0zM411.6 1777.3l7.5 12.7h-15.0zM413.0 1769.3l7.5 12.7h-15.0zM414.1 1774.7l7.5 12.7h-15.0zM415.4 1768.5l7.5 12.7h-15.0zM416.9 1763.9l7.5 12.7h-15.0zM417.1 1776.8l7.5 12.7h-15.0zM419.0 1766.9l7.5 12.7h-15.0zM421.0 1779.9l7.5 12.7h-15.0zM421.2 1793.0l7.5 12.7h-15.0zM422.1 1778.9l7.5 12.7h-15.0zM422.5 1782.1l7.5 12.7h-15.0zM423.4 1757.1l7.5 12.7h-15.0zM426.3 1760.9l7.5 12.7h-15.0zM428.4 1769.0l7.5 12.7h-15.0zM430.2 1786.9l7.5 12.7h-15.0zM431.3 1777.7l7.5 12.7h-15.0zM431.5 1755.0l7.5 12.7h-15.0zM432.3 1759.2l7.5 12.7h-15.0zM433.1 1774.2l7.5 12.7h-15.0zM434.2 1785.3l7.5 12.7h-15.0zM434.5 1799.5l7.5 12.7h-15.0zM435.7 1781.9l7.5 12.7h-15.0zM436.6 1787.5l7.5 12.7h-15.0zM438.4 1769.5l7.5 12.7h-15.0zM439.0 1763.6l7.5 12.7h-15.0zM440.0 1761.6l7.5 12.7h-15.0zM440.1 1767.1l7.5 12.7h-15.0zM441.8 1762.1l7.5 12.7h-15.0zM442.8 1773.5l7.5 12.7h-15.0zM443.1 1770.7l7.5 12.7h-15.0zM443.4 1757.9l7.5 12.7h-15.0zM447.8 1791.1l7.5 12.7h-15.0zM448.5 1774.7l7.5 12.7h-15.0zM448.6 1755.7l7.5 12.7h-15.0zM450.8 1786.3l7.5 12.7h-15.0zM451.7 1771.2l7.5 12.7h-15.0zM452.3 1788.8l7.5 12.7h-15.0zM453.3 1773.3l7.5 12.7h-15.0zM453.4 1759.3l7.5 12.7h-15.0zM454.6 1758.8l7.5 12.7h-15.0zM455.9 1766.9l7.5 12.7h-15.0zM456.9 1775.3l7.5 12.7h-15.0zM456.7 1751.2l7.5 12.7h-15.0zM458.1 1768.0l7.5 12.7h-15.0zM458.8 1770.8l7.5 12.7h-15.0zM459.8 1783.0l7.5 12.7h-15.0zM460.4 1772.3l7.5 12.7h-15.0zM462.7 1772.0l7.5 12.7h-15.0zM463.5 1783.2l7.5 12.7h-15.0zM465.2 1758.1l7.5 12.7h-15.0zM466.7 1754.5l7.5 12.7h-15.0zM466.8 1779.8l7.5 12.7h-15.0zM469.2 1777.4l7.5 12.7h-15.0zM470.9 1787.2l7.5 12.7h-15.0zM471.6 1785.0l7.5 12.7h-15.0zM472.6 1777.7l7.5 12.7h-15.0zM473.1 1768.1l7.5 12.7h-15.0zM474.5 1767.1l7.5 12.7h-15.0zM475.6 1780.9l7.5 12.7h-15.0zM476.7 1754.5l7.5 12.7h-15.0zM477.5 1782.9l7.5 12.7h-15.0zM478.4 1767.1l7.5 12.7h-15.0zM480.4 1772.4l7.5 12.7h-15.0zM483.6 1764.2l7.5 12.7h-15.0zM484.4 1787.7l7.5 12.7h-15.0zM485.6 1758.7l7.5 12.7h-15.0zM486.0 1774.6l7.5 12.7h-15.0zM488.7 1779.6l7.5 12.7h-15.0zM489.0 1766.8l7.5 12.7h-15.0zM489.8 1769.3l7.5 12.7h-15.0zM490.4 1765.9l7.5 12.7h-15.0zM491.9 1786.5l7.5 12.7h-15.0zM493.2 1771.6l7.5 12.7h-15.0zM494.0 1761.4l7.5 12.7h-15.0zM497.4 1760.6l7.5 12.7h-15.0zM502.2 1772.8l7.5 12.7h-15.0zM501.8 1759.0l7.5 12.7h-15.0zM507.0 1790.9l7.5 12.7h-15.0zM510.0 1757.7l7.5 12.7h-15.0zM510.4 1788.7l7.5 12.7h-15.0zM512.1 1789.5l7.5 12.7h-15.0zM516.1 1760.2l7.5 12.7h-15.0zM516.5 1758.7l7.5 12.7h-15.0zM517.2 1760.6l7.5 12.7h-15.0zM517.4 1762.7l7.5 12.7h-15.0zM518.9 1758.3l7.5 12.7h-15.0zM518.9 1794.4l7.5 12.7h-15.0zM520.7 1767.6l7.5 12.7h-15.0zM522.4 1773.7l7.5 12.7h-15.0zM524.5 1770.8l7.5 12.7h-15.0zM524.8 1796.2l7.5 12.7h-15.0zM526.4 1775.0l7.5 12.7h-15.0zM527.1 1772.3l7.5 12.7h-15.0zM528.1 1762.1l7.5 12.7h-15.0zM530.9 1766.5l7.5 12.7h-15.0zM532.2 1801.2l7.5 12.7h-15.0zM534.0 1779.7l7.5 12.7h-15.0zM534.4 1768.2l7.5 12.7h-15.0zM539.4 1795.3l7.5 12.7h-15.0zM540.3 1771.8l7.5 12.7h-15.0zM541.3 1788.8l7.5 12.7h-15.0zM541.9 1795.3l7.5 12.7h-15.0zM542.6 1802.0l7.5 12.7h-15.0zM544.9 1780.6l7.5 12.7h-15.0zM547.1 1804.1l7.5 12.7h-15.0zM547.3 1796.1l7.5 12.7h-15.0zM548.5 1776.1l7.5 12.7h-15.0zM548.8 1781.2l7.5 12.7h-15.0zM551.0 1782.9l7.5 12.7h-15.0zM552.1 1796.7l7.5 12.7h-15.0zM552.5 1787.4l7.5 12.7h-15.0zM554.3 1799.7l7.5 12.7h-15.0zM556.2 1791.9l7.5 12.7h-15.0zM556.7 1804.8l7.5 12.7h-15.0zM557.0 1787.0l7.5 12.7h-15.0zM558.4 1804.7l7.5 12.7h-15.0zM559.3 1777.7l7.5 12.7h-15.0zM560.3 1781.1l7.5 12.7h-15.0zM561.8 1783.6l7.5 12.7h-15.0zM563.7 1795.3l7.5 12.7h-15.0zM564.8 1784.2l7.5 12.7h-15.0zM566.1 1795.8l7.5 12.7h-15.0zM568.0 1802.9l7.5 12.7h-15.0zM568.4 1780.5l7.5 12.7h-15.0zM571.0 1796.0l7.5 12.7h-15.0zM572.7 1798.6l7.5 12.7h-15.0zM574.4 1810.5l7.5 12.7h-15.0zM576.2 1788.9l7.5 12.7h-15.0zM576.6 1807.3l7.5 12.7h-15.0zM577.3 1787.0l7.5 12.7h-15.0zM581.5 1814.7l7.5 12.7h-15.0zM582.4 1782.8l7.5 12.7h-15.0zM583.4 1789.5l7.5 12.7h-15.0zM583.2 1783.3l7.5 12.7h-15.0zM584.8 1793.6l7.5 12.7h-15.0zM586.2 1784.6l7.5 12.7h-15.0zM588.3 1809.1l7.5 12.7h-15.0zM588.9 1814.2l7.5 12.7h-15.0zM590.2 1800.8l7.5 12.7h-15.0zM591.3 1811.8l7.5 12.7h-15.0zM592.5 1795.3l7.5 12.7h-15.0zM592.1 1792.1l7.5 12.7h-15.0zM593.0 1811.7l7.5 12.7h-15.0zM596.6 1791.5l7.5 12.7h-15.0zM598.7 1814.2l7.5 12.7h-15.0zM600.3 1825.0l7.5 12.7h-15.0zM602.7 1812.4l7.5 12.7h-15.0zM602.5 1836.1l7.5 12.7h-15.0zM603.0 1818.2l7.5 12.7h-15.0zM604.2 1814.3l7.5 12.7h-15.0zM606.2 1798.3l7.5 12.7h-15.0zM606.7 1809.6l7.5 12.7h-15.0zM608.2 1796.8l7.5 12.7h-15.0zM608.4 1800.0l7.5 12.7h-15.0zM609.4 1814.7l7.5 12.7h-15.0zM610.0 1818.6l7.5 12.7h-15.0zM610.7 1805.1l7.5 12.7h-15.0zM611.5 1831.0l7.5 12.7h-15.0zM600.0 1822.8l7.5 12.7h-15.0zM600.0 1789.5l7.5 12.7h-15.0zM600.7 1811.5l7.5 12.7h-15.0zM600.7 1794.1l7.5 12.7h-15.0zM601.5 1818.1l7.5 12.7h-15.0zM601.5 1794.5l7.5 12.7h-15.0zM602.2 1807.6l7.5 12.7h-15.0zM602.2 1794.3l7.5 12.7h-15.0zM603.0 1826.5l7.5 12.7h-15.0zM603.7 1824.7l7.5 12.7h-15.0zM604.4 1825.6l7.5 12.7h-15.0zM604.4 1794.6l7.5 12.7h-15.0zM605.2 1805.3l7.5 12.7h-15.0zM605.2 1826.9l7.5 12.7h-15.0zM605.9 1818.6l7.5 12.7h-15.0zM606.7 1803.0l7.5 12.7h-15.0zM607.4 1799.4l7.5 12.7h-15.0zM608.1 1827.3l7.5 12.7h-15.0zM608.9 1827.3l7.5 12.7h-15.0zM609.6 1825.6l7.5 12.7h-15.0zM609.6 1831.4l7.5 12.7h-15.0zM610.4 1831.8l7.5 12.7h-15.0zM610.4 1799.7l7.5 12.7h-15.0zM611.1 1802.5l7.5 12.7h-15.0zM611.8 1829.9l7.5 12.7h-15.0zM611.8 1831.9l7.5 12.7h-15.0zM612.6 1831.9l7.5 12.7h-15.0zM613.3 1814.9l7.5 12.7h-15.0zM613.3 1803.3l7.5 12.7h-15.0zM613.3 1832.6l7.5 12.7h-15.0zM614.1 1823.2l7.5 12.7h-15.0zM614.8 1823.5l7.5 12.7h-15.0zM615.5 1810.1l7.5 12.7h-15.0zM615.5 1835.4l7.5 12.7h-15.0zM617.0 1834.4l7.5 12.7h-15.0zM617.0 1807.7l7.5 12.7h-15.0zM617.8 1809.9l7.5 12.7h-15.0zM617.8 1806.9l7.5 12.7h-15.0zM618.5 1823.3l7.5 12.7h-15.0zM618.5 1847.1l7.5 12.7h-15.0zM619.2 1823.8l7.5 12.7h-15.0zM620.0 1815.2l7.5 12.7h-15.0zM620.0 1849.8l7.5 12.7h-15.0zM620.7 1839.7l7.5 12.7h-15.0zM620.7 1856.5l7.5 12.7h-15.0zM621.5 1815.5l7.5 12.7h-15.0zM622.2 1842.4l7.5 12.7h-15.0zM622.2 1862.9l7.5 12.7h-15.0zM622.9 1844.9l7.5 12.7h-15.0zM623.7 1857.1l7.5 12.7h-15.0zM623.7 1857.8l7.5 12.7h-15.0zM623.7 1817.9l7.5 12.7h-15.0zM623.7 1867.2l7.5 12.7h-15.0zM624.4 1832.4l7.5 12.7h-15.0zM624.4 1816.1l7.5 12.7h-15.0zM625.2 1863.4l7.5 12.7h-15.0zM625.2 1818.9l7.5 12.7h-15.0zM625.2 1874.0l7.5 12.7h-15.0zM625.9 1824.4l7.5 12.7h-15.0zM625.9 1827.2l7.5 12.7h-15.0zM625.9 1821.7l7.5 12.7h-15.0zM625.9 1874.8l7.5 12.7h-15.0zM626.6 1850.1l7.5 12.7h-15.0zM626.6 1834.7l7.5 12.7h-15.0zM626.6 1876.9l7.5 12.7h-15.0zM627.4 1873.6l7.5 12.7h-15.0zM627.4 1825.6l7.5 12.7h-15.0zM628.1 1858.1l7.5 12.7h-15.0zM628.9 1884.1l7.5 12.7h-15.0zM628.9 1827.3l7.5 12.7h-15.0zM629.6 1882.8l7.5 12.7h-15.0zM629.6 1874.2l7.5 12.7h-15.0zM629.6 1828.1l7.5 12.7h-15.0zM630.3 1891.4l7.5 12.7h-15.0zM631.1 1853.8l7.5 12.7h-15.0zM631.1 1831.1l7.5 12.7h-15.0zM631.1 1891.9l7.5 12.7h-15.0zM631.8 1845.9l7.5 12.7h-15.0zM631.8 1853.1l7.5 12.7h-15.0zM631.8 1833.5l7.5 12.7h-15.0zM631.8 1892.0l7.5 12.7h-15.0zM632.6 1872.8l7.5 12.7h-15.0zM632.6 1868.2l7.5 12.7h-15.0zM633.3 1889.8l7.5 12.7h-15.0zM634.0 1875.6l7.5 12.7h-15.0zM634.0 1859.1l7.5 12.7h-15.0zM634.0 1896.4l7.5 12.7h-15.0zM634.8 1861.5l7.5 12.7h-15.0zM634.8 1885.2l7.5 12.7h-15.0zM634.8 1900.1l7.5 12.7h-15.0zM635.5 1855.5l7.5 12.7h-15.0zM636.3 1873.0l7.5 12.7h-15.0zM636.3 1849.0l7.5 12.7h-15.0zM637.0 1870.0l7.5 12.7h-15.0zM637.0 1904.5l7.5 12.7h-15.0zM637.7 1892.8l7.5 12.7h-15.0zM637.7 1898.6l7.5 12.7h-15.0zM638.5 1887.9l7.5 12.7h-15.0zM638.5 1905.7l7.5 12.7h-15.0zM639.2 1884.7l7.5 12.7h-15.0zM639.2 1909.3l7.5 12.7h-15.0zM640.0 1904.6l7.5 12.7h-15.0zM640.0 1876.1l7.5 12.7h-15.0zM640.0 1908.7l7.5 12.7h-15.0zM626.5 1844.1l7.5 12.7h-15.0zM634.5 1846.7l7.5 12.7h-15.0zM636.7 1847.0l7.5 12.7h-15.0zM618.3 1847.9l7.5 12.7h-15.0zM630.0 1852.0l7.5 12.7h-15.0zM630.7 1853.7l7.5 12.7h-15.0zM628.1 1855.6l7.5 12.7h-15.0zM625.3 1855.7l7.5 12.7h-15.0zM625.4 1856.9l7.5 12.7h-15.0zM635.4 1859.1l7.5 12.7h-15.0zM620.0 1859.9l7.5 12.7h-15.0zM632.0 1861.6l7.5 12.7h-15.0zM634.2 1860.7l7.5 12.7h-15.0zM624.4 1862.0l7.5 12.7h-15.0zM622.2 1864.5l7.5 12.7h-15.0zM635.6 1864.8l7.5 12.7h-15.0zM649.2 1866.1l7.5 12.7h-15.0zM620.3 1865.7l7.5 12.7h-15.0zM645.4 1866.7l7.5 12.7h-15.0zM638.7 1868.4l7.5 12.7h-15.0zM654.2 1870.6l7.5 12.7h-15.0zM640.3 1871.6l7.5 12.7h-15.0zM629.7 1870.9l7.5 12.7h-15.0zM625.5 1872.4l7.5 12.7h-15.0zM629.7 1872.8l7.5 12.7h-15.0zM639.4 1875.4l7.5 12.7h-15.0zM653.6 1875.2l7.5 12.7h-15.0zM633.7 1876.8l7.5 12.7h-15.0zM632.3 1877.7l7.5 12.7h-15.0zM654.4 1878.1l7.5 12.7h-15.0zM631.4 1878.7l7.5 12.7h-15.0zM658.9 1880.9l7.5 12.7h-15.0zM644.7 1881.3l7.5 12.7h-15.0zM636.7 1882.0l7.5 12.7h-15.0zM631.7 1884.3l7.5 12.7h-15.0zM648.5 1885.6l7.5 12.7h-15.0zM659.7 1887.1l7.5 12.7h-15.0zM634.4 1886.9l7.5 12.7h-15.0zM653.1 1889.1l7.5 12.7h-15.0zM662.5 1890.5l7.5 12.7h-15.0zM633.9 1890.0l7.5 12.7h-15.0zM632.3 1891.9l7.5 12.7h-15.0zM630.9 1891.9l7.5 12.7h-15.0zM647.7 1894.4l7.5 12.7h-15.0zM646.3 1893.7l7.5 12.7h-15.0zM639.2 1895.2l7.5 12.7h-15.0zM643.3 1896.4l7.5 12.7h-15.0zM668.9 1896.8l7.5 12.7h-15.0zM658.8 1897.9l7.5 12.7h-15.0zM646.5 1899.3l7.5 12.7h-15.0zM671.8 1901.0l7.5 12.7h-15.0zM673.4 1902.5l7.5 12.7h-15.0zM653.3 1902.7l7.5 12.7h-15.0zM660.6 1904.1l7.5 12.7h-15.0zM658.8 1905.5l7.5 12.7h-15.0zM663.4 1906.4l7.5 12.7h-15.0zM654.9 1907.6l7.5 12.7h-15.0zM675.5 1908.0l7.5 12.7h-15.0zM668.1 1910.3l7.5 12.7h-15.0zM648.3 1910.9l7.5 12.7h-15.0zM648.9 1913.3l7.5 12.7h-15.0zM671.1 1914.6l7.5 12.7h-15.0zM651.5 1915.4l7.5 12.7h-15.0zM662.7 1916.3l7.5 12.7h-15.0zM657.0 1917.0l7.5 12.7h-15.0zM674.5 1918.1l7.5 12.7h-15.0zM673.1 1917.9l7.5 12.7h-15.0zM665.4 1921.3l7.5 12.7h-15.0zM658.8 1922.0l7.5 12.7h-15.0zM671.9 1922.1l7.5 12.7h-15.0zM669.0 1924.0l7.5 12.7h-15.0zM665.8 1926.2l7.5 12.7h-15.0zM673.3 1927.1l7.5 12.7h-15.0zM664.4 1928.9l7.5 12.7h-15.0zM681.6 1933.1l7.5 12.7h-15.0zM672.6 1933.7l7.5 12.7h-15.0zM677.5 1937.6l7.5 12.7h-15.0zM679.2 1943.0l7.5 12.7h-15.0zM676.6 1943.7l7.5 12.7h-15.0zM672.7 1944.2l7.5 12.7h-15.0zM683.3 1946.6l7.5 12.7h-15.0zM683.9 1952.3l7.5 12.7h-15.0zM682.4 1951.8l7.5 12.7h-15.0zM680.4 1954.1l7.5 12.7h-15.0zM682.1 1957.2l7.5 12.7h-15.0zM682.6 1962.6l7.5 12.7h-15.0zM684.9 1962.4l7.5 12.7h-15.0zM679.6 1964.6l7.5 12.7h-15.0zM682.9 1965.4l7.5 12.7h-15.0zM675.6 1965.9l7.5 12.7h-15.0zM689.9 1968.2l7.5 12.7h-15.0zM691.8 1969.1l7.5 12.7h-15.0zM684.2 1977.6l7.5 12.7h-15.0zM693.3 1979.2l7.5 12.7h-15.0zM684.0 1978.8l7.5 12.7h-15.0zM693.8 1982.2l7.5 12.7h-15.0zM693.9 1982.8l7.5 12.7h-15.0zM694.7 1983.9l7.5 12.7h-15.0zM696.5 1988.9l7.5 12.7h-15.0zM685.0 1992.4l7.5 12.7h-15.0zM694.9 1993.2l7.5 12.7h-15.0zM687.6 1993.8l7.5 12.7h-15.0zM698.3 2002.1l7.5 12.7h-15.0zM688.0 2003.5l7.5 12.7h-15.0zM699.9 2004.5l7.5 12.7h-15.0zM695.4 2003.8l7.5 12.7h-15.0zM699.9 2005.9l7.5 12.7h-15.0zM691.3 2005.8l7.5 12.7h-15.0zM690.0 2009.3l7.5 12.7h-15.0zM691.8 2009.8l7.5 12.7h-15.0zM696.5 2010.6l7.5 12.7h-15.0zM696.5 2013.6l7.5 12.7h-15.0zM695.7 2013.6l7.5 12.7h-15.0zM698.6 2016.5l7.5 12.7h-15.0zM696.6 2017.6l7.5 12.7h-15.0zM699.7 2017.4l7.5 12.7h-15.0zM693.2 2020.9l7.5 12.7h-15.0zM704.0 2031.9l7.5 12.7h-15.0zM698.4 2035.5l7.5 12.7h-15.0zM700.1 2035.8l7.5 12.7h-15.0zM700.2 2038.2l7.5 12.7h-15.0zM703.0 2037.9l7.5 12.7h-15.0zM709.3 2039.5l7.5 12.7h-15.0zM700.8 2041.7l7.5 12.7h-15.0zM706.6 2044.1l7.5 12.7h-15.0zM704.7 2046.0l7.5 12.7h-15.0zM705.6 2050.5l7.5 12.7h-15.0zM712.3 2050.3l7.5 12.7h-15.0zM714.8 2053.4l7.5 12.7h-15.0zM704.3 2053.9l7.5 12.7h-15.0zM710.7 2054.3l7.5 12.7h-15.0zM713.2 2056.2l7.5 12.7h-15.0zM707.4 2060.1l7.5 12.7h-15.0zM709.2 2062.3l7.5 12.7h-15.0zM708.4 2064.0l7.5 12.7h-15.0zM709.0 2064.7l7.5 12.7h-15.0zM712.6 2069.4l7.5 12.7h-15.0zM712.1 2072.3l7.5 12.7h-15.0zM710.0 2077.6l7.5 12.7h-15.0zM720.1 2077.5l7.5 12.7h-15.0zM704.6 2079.3l7.5 12.7h-15.0zM714.4 2081.0l7.5 12.7h-15.0zM725.7 2082.2l7.5 12.7h-15.0zM725.3 2083.0l7.5 12.7h-15.0zM712.1 2089.5l7.5 12.7h-15.0zM729.1 2090.1l7.5 12.7h-15.0zM729.7 2091.1l7.5 12.7h-15.0zM716.6 2092.0l7.5 12.7h-15.0zM722.8 2093.4l7.5 12.7h-15.0zM729.7 2094.6l7.5 12.7h-15.0zM716.3 2095.7l7.5 12.7h-15.0zM726.2 2095.8l7.5 12.7h-15.0zM714.0 2096.9l7.5 12.7h-15.0zM724.2 2099.2l7.5 12.7h-15.0zM731.8 2099.6l7.5 12.7h-15.0zM721.0 2101.0l7.5 12.7h-15.0zM730.9 2105.0l7.5 12.7h-15.0zM720.6 2108.6l7.5 12.7h-15.0zM734.9 2109.6l7.5 12.7h-15.0zM725.2 2110.2l7.5 12.7h-15.0zM734.4 2111.5l7.5 12.7h-15.0zM730.1 2113.1l7.5 12.7h-15.0zM719.2 2115.5l7.5 12.7h-15.0zM727.9 2115.7l7.5 12.7h-15.0zM723.0 2117.4l7.5 12.7h-15.0zM727.2 2120.2l7.5 12.7h-15.0zM722.5 2124.1l7.5 12.7h-15.0zM733.6 2124.8l7.5 12.7h-15.0zM726.6 2126.5l7.5 12.7h-15.0zM738.5 2132.2l7.5 12.7h-15.0zM738.8 2138.8l7.5 12.7h-15.0zM738.2 2144.6l7.5 12.7h-15.0zM734.0 2147.1l7.5 12.7h-15.0zM733.6 2149.0l7.5 12.7h-15.0zM726.5 2149.2l7.5 12.7h-15.0zM738.2 2149.9l7.5 12.7h-15.0zM728.8 2153.1l7.5 12.7h-15.0zM745.4 2154.6l7.5 12.7h-15.0zM747.8 2157.0l7.5 12.7h-15.0zM735.6 2161.4l7.5 12.7h-15.0zM746.0 2163.0l7.5 12.7h-15.0zM749.2 2163.2l7.5 12.7h-15.0zM749.7 2164.9l7.5 12.7h-15.0zM738.6 2165.3l7.5 12.7h-15.0zM747.7 2166.4l7.5 12.7h-15.0zM753.7 2167.8l7.5 12.7h-15.0zM736.9 2168.8l7.5 12.7h-15.0zM737.0 2171.8l7.5 12.7h-15.0zM736.4 2172.3l7.5 12.7h-15.0zM743.2 2174.1l7.5 12.7h-15.0zM753.5 2175.8l7.5 12.7h-15.0zM738.0 2179.3l7.5 12.7h-15.0zM744.4 2180.4l7.5 12.7h-15.0zM745.7 2181.2l7.5 12.7h-15.0zM741.5 2183.4l7.5 12.7h-15.0zM754.2 2184.7l7.5 12.7h-15.0zM748.8 2186.4l7.5 12.7h-15.0zM749.7 2187.7l7.5 12.7h-15.0zM743.0 2188.5l7.5 12.7h-15.0zM737.7 2193.0l7.5 12.7h-15.0zM752.2 2196.6l7.5 12.7h-15.0zM741.5 2198.3l7.5 12.7h-15.0zM737.8 2198.6l7.5 12.7h-15.0zM739.0 2201.6l7.5 12.7h-15.0zM750.6 2202.4l7.5 12.7h-15.0zM754.3 2204.2l7.5 12.7h-15.0zM748.7 2203.7l7.5 12.7h-15.0zM739.2 2205.9l7.5 12.7h-15.0zM728.3 2043.0l7.5 12.7h-15.0zM728.3 2061.0l7.5 12.7h-15.0zM729.0 2062.0l7.5 12.7h-15.0zM743.3 2215.8l7.5 12.7h-15.0zM742.0 2226.8l7.5 12.7h-15.0zM758.2 2251.3l7.5 12.7h-15.0zM758.2 2259.0l7.5 12.7h-15.0zM757.5 2266.0l7.5 12.7h-15.0zM758.2 2274.9l7.5 12.7h-15.0zM655.9 1869.0l7.5 12.7h-15.0zM671.0 1878.0l7.5 12.7h-15.0zM644.0 1855.0l7.5 12.7h-15.0zM630.0 1848.0l7.5 12.7h-15.0zM618.0 1840.0l7.5 12.7h-15.0zM612.0 1830.0l7.5 12.7h-15.0z" fill="#f00"/>
</g>
<line x1="89.00" y1="8.30" x2="837.30" y2="8.30" stroke="#1a1a1a" stroke-width="1.7"/>
<line x1="101.00" y1="8.30" x2="101.00" y2="607.90" stroke="#1a1a1a" stroke-width="1.7"/>
<line x1="89.00" y1="596.40" x2="837.30" y2="596.40" stroke="#1a1a1a" stroke-width="1.7"/>
<line x1="837.30" y1="8.30" x2="837.30" y2="607.90" stroke="#1a1a1a" stroke-width="1.7"/>
<line x1="95.00" y1="547.39" x2="101.00" y2="547.39" stroke="#1a1a1a" stroke-width="1.7"/>
<line x1="89.00" y1="498.38" x2="101.00" y2="498.38" stroke="#1a1a1a" stroke-width="1.7"/>
<line x1="95.00" y1="449.38" x2="101.00" y2="449.38" stroke="#1a1a1a" stroke-width="1.7"/>
<line x1="89.00" y1="400.37" x2="101.00" y2="400.37" stroke="#1a1a1a" stroke-width="1.7"/>
<line x1="95.00" y1="351.36" x2="101.00" y2="351.36" stroke="#1a1a1a" stroke-width="1.7"/>
<line x1="89.00" y1="302.35" x2="101.00" y2="302.35" stroke="#1a1a1a" stroke-width="1.7"/>
<line x1="95.00" y1="253.34" x2="101.00" y2="253.34" stroke="#1a1a1a" stroke-width="1.7"/>
<line x1="89.00" y1="204.33" x2="101.00" y2="204.33" stroke="#1a1a1a" stroke-width="1.7"/>
<line x1="95.00" y1="155.32" x2="101.00" y2="155.32" stroke="#1a1a1a" stroke-width="1.7"/>
<line x1="89.00" y1="106.32" x2="101.00" y2="106.32" stroke="#1a1a1a" stroke-width="1.7"/>
<line x1="95.00" y1="57.31" x2="101.00" y2="57.31" stroke="#1a1a1a" stroke-width="1.7"/>
<line x1="174.63" y1="596.40" x2="174.63" y2="602.40" stroke="#1a1a1a" stroke-width="1.7"/>
<line x1="248.26" y1="596.40" x2="248.26" y2="607.90" stroke="#1a1a1a" stroke-width="1.7"/>
<line x1="321.89" y1="596.40" x2="321.89" y2="602.40" stroke="#1a1a1a" stroke-width="1.7"/>
<line x1="395.52" y1="596.40" x2="395.52" y2="607.90" stroke="#1a1a1a" stroke-width="1.7"/>
<line x1="469.15" y1="596.40" x2="469.15" y2="602.40" stroke="#1a1a1a" stroke-width="1.7"/>
<line x1="542.78" y1="596.40" x2="542.78" y2="607.90" stroke="#1a1a1a" stroke-width="1.7"/>
<line x1="616.41" y1="596.40" x2="616.41" y2="602.40" stroke="#1a1a1a" stroke-width="1.7"/>
<line x1="690.04" y1="596.40" x2="690.04" y2="607.90" stroke="#1a1a1a" stroke-width="1.7"/>
<line x1="763.67" y1="596.40" x2="763.67" y2="602.40" stroke="#1a1a1a" stroke-width="1.7"/>
<text class="t" transform="translate(48.8,605.9) scale(0.92,1)" font-family="Liberation Serif" font-size="25" font-weight="normal" fill="#262626" text-anchor="middle">0</text>
<text class="t" transform="translate(58.8,605.9) scale(0.92,1)" font-family="Liberation Serif" font-size="25" font-weight="normal" fill="#262626" text-anchor="middle">.</text>
<text class="t" transform="translate(75.2,605.9) scale(0.92,1)" font-family="Liberation Serif" font-size="25" font-weight="normal" fill="#262626" text-anchor="middle">0</text>
<text class="t" transform="translate(48.8,507.9) scale(0.92,1)" font-family="Liberation Serif" font-size="25" font-weight="normal" fill="#262626" text-anchor="middle">0</text>
<text class="t" transform="translate(58.8,507.9) scale(0.92,1)" font-family="Liberation Serif" font-size="25" font-weight="normal" fill="#262626" text-anchor="middle">.</text>
<text class="t" transform="translate(75.2,507.9) scale(0.92,1)" font-family="Liberation Serif" font-size="25" font-weight="normal" fill="#262626" text-anchor="middle">2</text>
<text class="t" transform="translate(48.8,409.9) scale(0.92,1)" font-family="Liberation Serif" font-size="25" font-weight="normal" fill="#262626" text-anchor="middle">0</text>
<text class="t" transform="translate(58.8,409.9) scale(0.92,1)" font-family="Liberation Serif" font-size="25" font-weight="normal" fill="#262626" text-anchor="middle">.</text>
<text class="t" transform="translate(75.2,409.9) scale(0.92,1)" font-family="Liberation Serif" font-size="25" font-weight="normal" fill="#262626" text-anchor="middle">4</text>
<text class="t" transform="translate(48.8,311.8) scale(0.92,1)" font-family="Liberation Serif" font-size="25" font-weight="normal" fill="#262626" text-anchor="middle">0</text>
<text class="t" transform="translate(58.8,311.8) scale(0.92,1)" font-family="Liberation Serif" font-size="25" font-weight="normal" fill="#262626" text-anchor="middle">.</text>
<text class="t" transform="translate(75.2,311.8) scale(0.92,1)" font-family="Liberation Serif" font-size="25" font-weight="normal" fill="#262626" text-anchor="middle">6</text>
<text class="t" transform="translate(48.8,213.8) scale(0.92,1)" font-family="Liberation Serif" font-size="25" font-weight="normal" fill="#262626" text-anchor="middle">0</text>
<text class="t" transform="translate(58.8,213.8) scale(0.92,1)" font-family="Liberation Serif" font-size="25" font-weight="normal" fill="#262626" text-anchor="middle">.</text>
<text class="t" transform="translate(75.2,213.8) scale(0.92,1)" font-family="Liberation Serif" font-size="25" font-weight="normal" fill="#262626" text-anchor="middle">8</text>
<text class="t" transform="translate(48.8,115.8) scale(0.92,1)" font-family="Liberation Serif" font-size="25" font-weight="normal" fill="#262626" text-anchor="middle">1</text>
<text class="t" transform="translate(58.8,115.8) scale(0.92,1)" font-family="Liberation Serif" font-size="25" font-weight="normal" fill="#262626" text-anchor="middle">.</text>
<text class="t" transform="translate(75.2,115.8) scale(0.92,1)" font-family="Liberation Serif" font-size="25" font-weight="normal" fill="#262626" text-anchor="middle">0</text>
<text class="t" transform="translate(48.8,17.8) scale(0.92,1)" font-family="Liberation Serif" font-size="25" font-weight="normal" fill="#262626" text-anchor="middle">1</text>
<text class="t" transform="translate(58.8,17.8) scale(0.92,1)" font-family="Liberation Serif" font-size="25" font-weight="normal" fill="#262626" text-anchor="middle">.</text>
<text class="t" transform="translate(75.2,17.8) scale(0.92,1)" font-family="Liberation Serif" font-size="25" font-weight="normal" fill="#262626" text-anchor="middle">2</text>
<text class="t" transform="translate(101.0,636.4) scale(0.92,1)" font-family="Liberation Serif" font-size="25" font-weight="normal" fill="#262626" text-anchor="middle">0</text>
<text class="t" transform="translate(235.3,636.4) scale(0.92,1)" font-family="Liberation Serif" font-size="25" font-weight="normal" fill="#262626" text-anchor="middle">2</text>
<text class="t" transform="translate(248.3,636.4) scale(0.92,1)" font-family="Liberation Serif" font-size="25" font-weight="normal" fill="#262626" text-anchor="middle">0</text>
<text class="t" transform="translate(261.2,636.4) scale(0.92,1)" font-family="Liberation Serif" font-size="25" font-weight="normal" fill="#262626" text-anchor="middle">0</text>
<text class="t" transform="translate(382.6,636.4) scale(0.92,1)" font-family="Liberation Serif" font-size="25" font-weight="normal" fill="#262626" text-anchor="middle">4</text>
<text class="t" transform="translate(395.5,636.4) scale(0.92,1)" font-family="Liberation Serif" font-size="25" font-weight="normal" fill="#262626" text-anchor="middle">0</text>
<text class="t" transform="translate(408.5,636.4) scale(0.92,1)" font-family="Liberation Serif" font-size="25" font-weight="normal" fill="#262626" text-anchor="middle">0</text>
<text class="t" transform="translate(529.8,636.4) scale(0.92,1)" font-family="Liberation Serif" font-size="25" font-weight="normal" fill="#262626" text-anchor="middle">6</text>
<text class="t" transform="translate(542.8,636.4) scale(0.92,1)" font-family="Liberation Serif" font-size="25" font-weight="normal" fill="#262626" text-anchor="middle">0</text>
<text class="t" transform="translate(555.7,636.4) scale(0.92,1)" font-family="Liberation Serif" font-size="25" font-weight="normal" fill="#262626" text-anchor="middle">0</text>
<text class="t" transform="translate(677.1,636.4) scale(0.92,1)" font-family="Liberation Serif" font-size="25" font-weight="normal" fill="#262626" text-anchor="middle">8</text>
<text class="t" transform="translate(690.0,636.4) scale(0.92,1)" font-family="Liberation Serif" font-size="25" font-weight="normal" fill="#262626" text-anchor="middle">0</text>
<text class="t" transform="translate(703.0,636.4) scale(0.92,1)" font-family="Liberation Serif" font-size="25" font-weight="normal" fill="#262626" text-anchor="middle">0</text>
<text class="t" transform="translate(817.9,636.4) scale(0.92,1)" font-family="Liberation Serif" font-size="25" font-weight="normal" fill="#262626" text-anchor="middle">1</text>
<text class="t" transform="translate(830.8,636.4) scale(0.92,1)" font-family="Liberation Serif" font-size="25" font-weight="normal" fill="#262626" text-anchor="middle">0</text>
<text class="t" transform="translate(843.8,636.4) scale(0.92,1)" font-family="Liberation Serif" font-size="25" font-weight="normal" fill="#262626" text-anchor="middle">0</text>
<text class="t" transform="translate(856.7,636.4) scale(0.92,1)" font-family="Liberation Serif" font-size="25" font-weight="normal" fill="#262626" text-anchor="middle">0</text>
<line x1="837.30" y1="596.40" x2="849.30" y2="596.40" stroke="#1a1a1a" stroke-width="1.7"/>
<text class="t" transform="translate(862.7,605.4) scale(0.92,1)" font-family="Liberation Serif" font-size="25" font-weight="normal" fill="#262626" text-anchor="middle">0</text>
<line x1="837.30" y1="557.19" x2="843.30" y2="557.19" stroke="#1a1a1a" stroke-width="1.7"/>
<line x1="837.30" y1="517.99" x2="849.30" y2="517.99" stroke="#1a1a1a" stroke-width="1.7"/>
<text class="t" transform="translate(862.7,527.0) scale(0.92,1)" font-family="Liberation Serif" font-size="25" font-weight="normal" fill="#262626" text-anchor="middle">1</text>
<text class="t" transform="translate(875.7,527.0) scale(0.92,1)" font-family="Liberation Serif" font-size="25" font-weight="normal" fill="#262626" text-anchor="middle">0</text>
<text class="t" transform="translate(888.6,527.0) scale(0.92,1)" font-family="Liberation Serif" font-size="25" font-weight="normal" fill="#262626" text-anchor="middle">0</text>
<text class="t" transform="translate(901.6,527.0) scale(0.92,1)" font-family="Liberation Serif" font-size="25" font-weight="normal" fill="#262626" text-anchor="middle">0</text>
<line x1="837.30" y1="478.78" x2="843.30" y2="478.78" stroke="#1a1a1a" stroke-width="1.7"/>
<line x1="837.30" y1="439.57" x2="849.30" y2="439.57" stroke="#1a1a1a" stroke-width="1.7"/>
<text class="t" transform="translate(862.7,448.6) scale(0.92,1)" font-family="Liberation Serif" font-size="25" font-weight="normal" fill="#262626" text-anchor="middle">2</text>
<text class="t" transform="translate(875.7,448.6) scale(0.92,1)" font-family="Liberation Serif" font-size="25" font-weight="normal" fill="#262626" text-anchor="middle">0</text>
<text class="t" transform="translate(888.6,448.6) scale(0.92,1)" font-family="Liberation Serif" font-size="25" font-weight="normal" fill="#262626" text-anchor="middle">0</text>
<text class="t" transform="translate(901.6,448.6) scale(0.92,1)" font-family="Liberation Serif" font-size="25" font-weight="normal" fill="#262626" text-anchor="middle">0</text>
<line x1="837.30" y1="400.37" x2="843.30" y2="400.37" stroke="#1a1a1a" stroke-width="1.7"/>
<line x1="837.30" y1="361.16" x2="849.30" y2="361.16" stroke="#1a1a1a" stroke-width="1.7"/>
<text class="t" transform="translate(862.7,370.2) scale(0.92,1)" font-family="Liberation Serif" font-size="25" font-weight="normal" fill="#262626" text-anchor="middle">3</text>
<text class="t" transform="translate(875.7,370.2) scale(0.92,1)" font-family="Liberation Serif" font-size="25" font-weight="normal" fill="#262626" text-anchor="middle">0</text>
<text class="t" transform="translate(888.6,370.2) scale(0.92,1)" font-family="Liberation Serif" font-size="25" font-weight="normal" fill="#262626" text-anchor="middle">0</text>
<text class="t" transform="translate(901.6,370.2) scale(0.92,1)" font-family="Liberation Serif" font-size="25" font-weight="normal" fill="#262626" text-anchor="middle">0</text>
<line x1="837.30" y1="321.95" x2="843.30" y2="321.95" stroke="#1a1a1a" stroke-width="1.7"/>
<line x1="837.30" y1="282.75" x2="849.30" y2="282.75" stroke="#1a1a1a" stroke-width="1.7"/>
<text class="t" transform="translate(862.7,291.7) scale(0.92,1)" font-family="Liberation Serif" font-size="25" font-weight="normal" fill="#262626" text-anchor="middle">4</text>
<text class="t" transform="translate(875.7,291.7) scale(0.92,1)" font-family="Liberation Serif" font-size="25" font-weight="normal" fill="#262626" text-anchor="middle">0</text>
<text class="t" transform="translate(888.6,291.7) scale(0.92,1)" font-family="Liberation Serif" font-size="25" font-weight="normal" fill="#262626" text-anchor="middle">0</text>
<text class="t" transform="translate(901.6,291.7) scale(0.92,1)" font-family="Liberation Serif" font-size="25" font-weight="normal" fill="#262626" text-anchor="middle">0</text>
<line x1="837.30" y1="243.54" x2="843.30" y2="243.54" stroke="#1a1a1a" stroke-width="1.7"/>
<line x1="837.30" y1="204.33" x2="849.30" y2="204.33" stroke="#1a1a1a" stroke-width="1.7"/>
<text class="t" transform="translate(862.7,213.3) scale(0.92,1)" font-family="Liberation Serif" font-size="25" font-weight="normal" fill="#262626" text-anchor="middle">5</text>
<text class="t" transform="translate(875.7,213.3) scale(0.92,1)" font-family="Liberation Serif" font-size="25" font-weight="normal" fill="#262626" text-anchor="middle">0</text>
<text class="t" transform="translate(888.6,213.3) scale(0.92,1)" font-family="Liberation Serif" font-size="25" font-weight="normal" fill="#262626" text-anchor="middle">0</text>
<text class="t" transform="translate(901.6,213.3) scale(0.92,1)" font-family="Liberation Serif" font-size="25" font-weight="normal" fill="#262626" text-anchor="middle">0</text>
<line x1="837.30" y1="165.13" x2="843.30" y2="165.13" stroke="#1a1a1a" stroke-width="1.7"/>
<line x1="837.30" y1="125.92" x2="849.30" y2="125.92" stroke="#1a1a1a" stroke-width="1.7"/>
<text class="t" transform="translate(862.7,134.9) scale(0.92,1)" font-family="Liberation Serif" font-size="25" font-weight="normal" fill="#262626" text-anchor="middle">6</text>
<text class="t" transform="translate(875.7,134.9) scale(0.92,1)" font-family="Liberation Serif" font-size="25" font-weight="normal" fill="#262626" text-anchor="middle">0</text>
<text class="t" transform="translate(888.6,134.9) scale(0.92,1)" font-family="Liberation Serif" font-size="25" font-weight="normal" fill="#262626" text-anchor="middle">0</text>
<text class="t" transform="translate(901.6,134.9) scale(0.92,1)" font-family="Liberation Serif" font-size="25" font-weight="normal" fill="#262626" text-anchor="middle">0</text>
<line x1="837.30" y1="86.71" x2="843.30" y2="86.71" stroke="#1a1a1a" stroke-width="1.7"/>
<line x1="837.30" y1="47.51" x2="849.30" y2="47.51" stroke="#1a1a1a" stroke-width="1.7"/>
<text class="t" transform="translate(862.7,56.5) scale(0.92,1)" font-family="Liberation Serif" font-size="25" font-weight="normal" fill="#262626" text-anchor="middle">7</text>
<text class="t" transform="translate(875.7,56.5) scale(0.92,1)" font-family="Liberation Serif" font-size="25" font-weight="normal" fill="#262626" text-anchor="middle">0</text>
<text class="t" transform="translate(888.6,56.5) scale(0.92,1)" font-family="Liberation Serif" font-size="25" font-weight="normal" fill="#262626" text-anchor="middle">0</text>
<text class="t" transform="translate(901.6,56.5) scale(0.92,1)" font-family="Liberation Serif" font-size="25" font-weight="normal" fill="#262626" text-anchor="middle">0</text>
<line x1="837.30" y1="8.30" x2="843.30" y2="8.30" stroke="#1a1a1a" stroke-width="1.7"/>
<text class="t" transform="translate(25.0,397.6) rotate(-90) scale(0.95,1)" font-family="Liberation Serif" fill="#262626" font-size="30" text-anchor="middle">C</text>
<text class="t" transform="translate(25.0,379.0) rotate(-90) scale(0.95,1)" font-family="Liberation Serif" fill="#262626" font-size="30" text-anchor="middle">a</text>
<text class="t" transform="translate(25.0,363.2) rotate(-90) scale(0.95,1)" font-family="Liberation Serif" fill="#262626" font-size="30" text-anchor="middle">p</text>
<text class="t" transform="translate(25.0,347.0) rotate(-90) scale(0.95,1)" font-family="Liberation Serif" fill="#262626" font-size="30" text-anchor="middle">a</text>
<text class="t" transform="translate(25.0,330.8) rotate(-90) scale(0.95,1)" font-family="Liberation Serif" fill="#262626" font-size="30" text-anchor="middle">c</text>
<text class="t" transform="translate(25.0,316.0) rotate(-90) scale(0.95,1)" font-family="Liberation Serif" fill="#262626" font-size="30" text-anchor="middle">i</text>
<text class="t" transform="translate(25.0,300.4) rotate(-90) scale(0.95,1)" font-family="Liberation Serif" fill="#262626" font-size="30" text-anchor="middle">t</text>
<text class="t" transform="translate(25.0,286.0) rotate(-90) scale(0.95,1)" font-family="Liberation Serif" fill="#262626" font-size="30" text-anchor="middle">y</text>
<text class="t" transform="translate(25.0,252.7) rotate(-90) scale(0.95,1)" font-family="Liberation Serif" fill="#262626" font-size="30" text-anchor="middle">(</text>
<text class="t" transform="translate(25.0,241.4) rotate(-90) scale(0.95,1)" font-family="Liberation Serif" fill="#262626" font-size="30" text-anchor="middle">A</text>
<text class="t" transform="translate(25.0,224.7) rotate(-90) scale(0.95,1)" font-family="Liberation Serif" fill="#262626" font-size="30" text-anchor="middle">h</text>
<text class="t" transform="translate(25.0,213.2) rotate(-90) scale(0.95,1)" font-family="Liberation Serif" fill="#262626" font-size="30" text-anchor="middle">)</text>
<text class="t" transform="translate(437.5,677.7) scale(0.95,1)" font-family="Liberation Serif" fill="#262626" font-size="30" text-anchor="middle">C</text>
<text class="t" transform="translate(453.4,677.7) scale(0.95,1)" font-family="Liberation Serif" fill="#262626" font-size="30" text-anchor="middle">y</text>
<text class="t" transform="translate(469.3,677.7) scale(0.95,1)" font-family="Liberation Serif" fill="#262626" font-size="30" text-anchor="middle">c</text>
<text class="t" transform="translate(485.2,677.7) scale(0.95,1)" font-family="Liberation Serif" fill="#262626" font-size="30" text-anchor="middle">l</text>
<text class="t" transform="translate(501.1,677.7) scale(0.95,1)" font-family="Liberation Serif" fill="#262626" font-size="30" text-anchor="middle">e</text>
<text x="463.7" y="738.7" text-anchor="middle" fill="#000"><tspan font-family="Liberation Sans" font-weight="bold" font-size="37.5">(a)</tspan><tspan font-family="Liberation Serif" font-size="38"> CCCT</tspan></text>
<text class="t" transform="translate(939.0,529.0) rotate(-90) scale(0.95,1)" font-family="Liberation Serif" fill="#262626" font-size="30" text-anchor="middle">C</text>
<text class="t" transform="translate(939.0,513.8) rotate(-90) scale(0.95,1)" font-family="Liberation Serif" fill="#262626" font-size="30" text-anchor="middle">o</text>
<text class="t" transform="translate(939.0,498.6) rotate(-90) scale(0.95,1)" font-family="Liberation Serif" fill="#262626" font-size="30" text-anchor="middle">n</text>
<text class="t" transform="translate(939.0,483.4) rotate(-90) scale(0.95,1)" font-family="Liberation Serif" fill="#262626" font-size="30" text-anchor="middle">s</text>
<text class="t" transform="translate(939.0,468.2) rotate(-90) scale(0.95,1)" font-family="Liberation Serif" fill="#262626" font-size="30" text-anchor="middle">t</text>
<text class="t" transform="translate(939.0,452.9) rotate(-90) scale(0.95,1)" font-family="Liberation Serif" fill="#262626" font-size="30" text-anchor="middle">a</text>
<text class="t" transform="translate(939.0,437.7) rotate(-90) scale(0.95,1)" font-family="Liberation Serif" fill="#262626" font-size="30" text-anchor="middle">n</text>
<text class="t" transform="translate(939.0,422.5) rotate(-90) scale(0.95,1)" font-family="Liberation Serif" fill="#262626" font-size="30" text-anchor="middle">t</text>
<text class="t" transform="translate(939.0,392.1) rotate(-90) scale(0.95,1)" font-family="Liberation Serif" fill="#262626" font-size="30" text-anchor="middle">c</text>
<text class="t" transform="translate(939.0,376.9) rotate(-90) scale(0.95,1)" font-family="Liberation Serif" fill="#262626" font-size="30" text-anchor="middle">u</text>
<text class="t" transform="translate(939.0,361.7) rotate(-90) scale(0.95,1)" font-family="Liberation Serif" fill="#262626" font-size="30" text-anchor="middle">r</text>
<text class="t" transform="translate(939.0,346.5) rotate(-90) scale(0.95,1)" font-family="Liberation Serif" fill="#262626" font-size="30" text-anchor="middle">r</text>
<text class="t" transform="translate(939.0,331.3) rotate(-90) scale(0.95,1)" font-family="Liberation Serif" fill="#262626" font-size="30" text-anchor="middle">e</text>
<text class="t" transform="translate(939.0,316.1) rotate(-90) scale(0.95,1)" font-family="Liberation Serif" fill="#262626" font-size="30" text-anchor="middle">n</text>
<text class="t" transform="translate(939.0,300.9) rotate(-90) scale(0.95,1)" font-family="Liberation Serif" fill="#262626" font-size="30" text-anchor="middle">t</text>
<text class="t" transform="translate(939.0,270.4) rotate(-90) scale(0.95,1)" font-family="Liberation Serif" fill="#262626" font-size="30" text-anchor="middle">c</text>
<text class="t" transform="translate(939.0,255.2) rotate(-90) scale(0.95,1)" font-family="Liberation Serif" fill="#262626" font-size="30" text-anchor="middle">h</text>
<text class="t" transform="translate(939.0,240.0) rotate(-90) scale(0.95,1)" font-family="Liberation Serif" fill="#262626" font-size="30" text-anchor="middle">a</text>
<text class="t" transform="translate(939.0,224.8) rotate(-90) scale(0.95,1)" font-family="Liberation Serif" fill="#262626" font-size="30" text-anchor="middle">r</text>
<text class="t" transform="translate(939.0,209.6) rotate(-90) scale(0.95,1)" font-family="Liberation Serif" fill="#262626" font-size="30" text-anchor="middle">g</text>
<text class="t" transform="translate(939.0,194.4) rotate(-90) scale(0.95,1)" font-family="Liberation Serif" fill="#262626" font-size="30" text-anchor="middle">e</text>
<text class="t" transform="translate(939.0,164.0) rotate(-90) scale(0.95,1)" font-family="Liberation Serif" fill="#262626" font-size="30" text-anchor="middle">t</text>
<text class="t" transform="translate(939.0,148.8) rotate(-90) scale(0.95,1)" font-family="Liberation Serif" fill="#262626" font-size="30" text-anchor="middle">i</text>
<text class="t" transform="translate(939.0,133.5) rotate(-90) scale(0.95,1)" font-family="Liberation Serif" fill="#262626" font-size="30" text-anchor="middle">m</text>
<text class="t" transform="translate(939.0,118.3) rotate(-90) scale(0.95,1)" font-family="Liberation Serif" fill="#262626" font-size="30" text-anchor="middle">e</text>
<text class="t" transform="translate(939.0,87.9) rotate(-90) scale(0.95,1)" font-family="Liberation Serif" fill="#262626" font-size="30" text-anchor="middle">(</text>
<text class="t" transform="translate(939.0,72.7) rotate(-90) scale(0.95,1)" font-family="Liberation Serif" fill="#262626" font-size="30" text-anchor="middle">s</text>
<text class="t" transform="translate(939.0,57.5) rotate(-90) scale(0.95,1)" font-family="Liberation Serif" fill="#262626" font-size="30" text-anchor="middle">)</text>
<path d="M635.9 31.2H646.5V41.8H635.9z" fill="#000"/>
<path d="M640.3 62.0l7.2 12.7h-14.4z" fill="#f00"/>
<text class="t" transform="translate(694.8,46.7) scale(0.95,1)" font-family="Liberation Serif" fill="#262626" font-size="30" text-anchor="middle">C</text>
<text class="t" transform="translate(709.9,46.7) scale(0.95,1)" font-family="Liberation Serif" fill="#262626" font-size="30" text-anchor="middle">a</text>
<text class="t" transform="translate(725.0,46.7) scale(0.95,1)" font-family="Liberation Serif" fill="#262626" font-size="30" text-anchor="middle">p</text>
<text class="t" transform="translate(740.1,46.7) scale(0.95,1)" font-family="Liberation Serif" fill="#262626" font-size="30" text-anchor="middle">a</text>
<text class="t" transform="translate(755.2,46.7) scale(0.95,1)" font-family="Liberation Serif" fill="#262626" font-size="30" text-anchor="middle">c</text>
<text class="t" transform="translate(770.3,46.7) scale(0.95,1)" font-family="Liberation Serif" fill="#262626" font-size="30" text-anchor="middle">i</text>
<text class="t" transform="translate(785.4,46.7) scale(0.95,1)" font-family="Liberation Serif" fill="#262626" font-size="30" text-anchor="middle">t</text>
<text class="t" transform="translate(800.5,46.7) scale(0.95,1)" font-family="Liberation Serif" fill="#262626" font-size="30" text-anchor="middle">y</text>
<text class="t" transform="translate(694.8,80.6) scale(0.95,1)" font-family="Liberation Serif" fill="#262626" font-size="30" text-anchor="middle">H</text>
<text class="t" transform="translate(709.9,80.6) scale(0.95,1)" font-family="Liberation Serif" fill="#262626" font-size="30" text-anchor="middle">I</text>
<text class="t" transform="translate(725.0,80.6) scale(0.95,1)" font-family="Liberation Serif" fill="#262626" font-size="30" text-anchor="middle">1</text>
<line x1="89.00" y1="855.40" x2="837.10" y2="855.40" stroke="#1a1a1a" stroke-width="1.7"/>
<line x1="101.00" y1="855.40" x2="101.00" y2="1453.10" stroke="#1a1a1a" stroke-width="1.7"/>
<line x1="89.00" y1="1441.60" x2="837.10" y2="1441.60" stroke="#1a1a1a" stroke-width="1.7"/>
<line x1="837.10" y1="855.40" x2="837.10" y2="1453.10" stroke="#1a1a1a" stroke-width="1.7"/>
<line x1="95.00" y1="1392.75" x2="101.00" y2="1392.75" stroke="#1a1a1a" stroke-width="1.7"/>
<line x1="89.00" y1="1343.90" x2="101.00" y2="1343.90" stroke="#1a1a1a" stroke-width="1.7"/>
<line x1="95.00" y1="1295.05" x2="101.00" y2="1295.05" stroke="#1a1a1a" stroke-width="1.7"/>
<line x1="89.00" y1="1246.20" x2="101.00" y2="1246.20" stroke="#1a1a1a" stroke-width="1.7"/>
<line x1="95.00" y1="1197.35" x2="101.00" y2="1197.35" stroke="#1a1a1a" stroke-width="1.7"/>
<line x1="89.00" y1="1148.50" x2="101.00" y2="1148.50" stroke="#1a1a1a" stroke-width="1.7"/>
<line x1="95.00" y1="1099.65" x2="101.00" y2="1099.65" stroke="#1a1a1a" stroke-width="1.7"/>
<line x1="89.00" y1="1050.80" x2="101.00" y2="1050.80" stroke="#1a1a1a" stroke-width="1.7"/>
<line x1="95.00" y1="1001.95" x2="101.00" y2="1001.95" stroke="#1a1a1a" stroke-width="1.7"/>
<line x1="89.00" y1="953.10" x2="101.00" y2="953.10" stroke="#1a1a1a" stroke-width="1.7"/>
<line x1="95.00" y1="904.25" x2="101.00" y2="904.25" stroke="#1a1a1a" stroke-width="1.7"/>
<line x1="174.61" y1="1441.60" x2="174.61" y2="1447.60" stroke="#1a1a1a" stroke-width="1.7"/>
<line x1="248.22" y1="1441.60" x2="248.22" y2="1453.10" stroke="#1a1a1a" stroke-width="1.7"/>
<line x1="321.83" y1="1441.60" x2="321.83" y2="1447.60" stroke="#1a1a1a" stroke-width="1.7"/>
<line x1="395.44" y1="1441.60" x2="395.44" y2="1453.10" stroke="#1a1a1a" stroke-width="1.7"/>
<line x1="469.05" y1="1441.60" x2="469.05" y2="1447.60" stroke="#1a1a1a" stroke-width="1.7"/>
<line x1="542.66" y1="1441.60" x2="542.66" y2="1453.10" stroke="#1a1a1a" stroke-width="1.7"/>
<line x1="616.27" y1="1441.60" x2="616.27" y2="1447.60" stroke="#1a1a1a" stroke-width="1.7"/>
<line x1="689.88" y1="1441.60" x2="689.88" y2="1453.10" stroke="#1a1a1a" stroke-width="1.7"/>
<line x1="763.49" y1="1441.60" x2="763.49" y2="1447.60" stroke="#1a1a1a" stroke-width="1.7"/>
<text class="t" transform="translate(48.8,1451.1) scale(0.92,1)" font-family="Liberation Serif" font-size="25" font-weight="normal" fill="#262626" text-anchor="middle">0</text>
<text class="t" transform="translate(58.8,1451.1) scale(0.92,1)" font-family="Liberation Serif" font-size="25" font-weight="normal" fill="#262626" text-anchor="middle">.</text>
<text class="t" transform="translate(75.2,1451.1) scale(0.92,1)" font-family="Liberation Serif" font-size="25" font-weight="normal" fill="#262626" text-anchor="middle">0</text>
<text class="t" transform="translate(48.8,1353.4) scale(0.92,1)" font-family="Liberation Serif" font-size="25" font-weight="normal" fill="#262626" text-anchor="middle">0</text>
<text class="t" transform="translate(58.8,1353.4) scale(0.92,1)" font-family="Liberation Serif" font-size="25" font-weight="normal" fill="#262626" text-anchor="middle">.</text>
<text class="t" transform="translate(75.2,1353.4) scale(0.92,1)" font-family="Liberation Serif" font-size="25" font-weight="normal" fill="#262626" text-anchor="middle">2</text>
<text class="t" transform="translate(48.8,1255.7) scale(0.92,1)" font-family="Liberation Serif" font-size="25" font-weight="normal" fill="#262626" text-anchor="middle">0</text>
<text class="t" transform="translate(58.8,1255.7) scale(0.92,1)" font-family="Liberation Serif" font-size="25" font-weight="normal" fill="#262626" text-anchor="middle">.</text>
<text class="t" transform="translate(75.2,1255.7) scale(0.92,1)" font-family="Liberation Serif" font-size="25" font-weight="normal" fill="#262626" text-anchor="middle">4</text>
<text class="t" transform="translate(48.8,1158.0) scale(0.92,1)" font-family="Liberation Serif" font-size="25" font-weight="normal" fill="#262626" text-anchor="middle">0</text>
<text class="t" transform="translate(58.8,1158.0) scale(0.92,1)" font-family="Liberation Serif" font-size="25" font-weight="normal" fill="#262626" text-anchor="middle">.</text>
<text class="t" transform="translate(75.2,1158.0) scale(0.92,1)" font-family="Liberation Serif" font-size="25" font-weight="normal" fill="#262626" text-anchor="middle">6</text>
<text class="t" transform="translate(48.8,1060.3) scale(0.92,1)" font-family="Liberation Serif" font-size="25" font-weight="normal" fill="#262626" text-anchor="middle">0</text>
<text class="t" transform="translate(58.8,1060.3) scale(0.92,1)" font-family="Liberation Serif" font-size="25" font-weight="normal" fill="#262626" text-anchor="middle">.</text>
<text class="t" transform="translate(75.2,1060.3) scale(0.92,1)" font-family="Liberation Serif" font-size="25" font-weight="normal" fill="#262626" text-anchor="middle">8</text>
<text class="t" transform="translate(48.8,962.6) scale(0.92,1)" font-family="Liberation Serif" font-size="25" font-weight="normal" fill="#262626" text-anchor="middle">1</text>
<text class="t" transform="translate(58.8,962.6) scale(0.92,1)" font-family="Liberation Serif" font-size="25" font-weight="normal" fill="#262626" text-anchor="middle">.</text>
<text class="t" transform="translate(75.2,962.6) scale(0.92,1)" font-family="Liberation Serif" font-size="25" font-weight="normal" fill="#262626" text-anchor="middle">0</text>
<text class="t" transform="translate(48.8,864.9) scale(0.92,1)" font-family="Liberation Serif" font-size="25" font-weight="normal" fill="#262626" text-anchor="middle">1</text>
<text class="t" transform="translate(58.8,864.9) scale(0.92,1)" font-family="Liberation Serif" font-size="25" font-weight="normal" fill="#262626" text-anchor="middle">.</text>
<text class="t" transform="translate(75.2,864.9) scale(0.92,1)" font-family="Liberation Serif" font-size="25" font-weight="normal" fill="#262626" text-anchor="middle">2</text>
<text class="t" transform="translate(101.0,1481.6) scale(0.92,1)" font-family="Liberation Serif" font-size="25" font-weight="normal" fill="#262626" text-anchor="middle">0</text>
<text class="t" transform="translate(235.3,1481.6) scale(0.92,1)" font-family="Liberation Serif" font-size="25" font-weight="normal" fill="#262626" text-anchor="middle">2</text>
<text class="t" transform="translate(248.2,1481.6) scale(0.92,1)" font-family="Liberation Serif" font-size="25" font-weight="normal" fill="#262626" text-anchor="middle">0</text>
<text class="t" transform="translate(261.2,1481.6) scale(0.92,1)" font-family="Liberation Serif" font-size="25" font-weight="normal" fill="#262626" text-anchor="middle">0</text>
<text class="t" transform="translate(382.5,1481.6) scale(0.92,1)" font-family="Liberation Serif" font-size="25" font-weight="normal" fill="#262626" text-anchor="middle">4</text>
<text class="t" transform="translate(395.4,1481.6) scale(0.92,1)" font-family="Liberation Serif" font-size="25" font-weight="normal" fill="#262626" text-anchor="middle">0</text>
<text class="t" transform="translate(408.4,1481.6) scale(0.92,1)" font-family="Liberation Serif" font-size="25" font-weight="normal" fill="#262626" text-anchor="middle">0</text>
<text class="t" transform="translate(529.7,1481.6) scale(0.92,1)" font-family="Liberation Serif" font-size="25" font-weight="normal" fill="#262626" text-anchor="middle">6</text>
<text class="t" transform="translate(542.7,1481.6) scale(0.92,1)" font-family="Liberation Serif" font-size="25" font-weight="normal" fill="#262626" text-anchor="middle">0</text>
<text class="t" transform="translate(555.6,1481.6) scale(0.92,1)" font-family="Liberation Serif" font-size="25" font-weight="normal" fill="#262626" text-anchor="middle">0</text>
<text class="t" transform="translate(676.9,1481.6) scale(0.92,1)" font-family="Liberation Serif" font-size="25" font-weight="normal" fill="#262626" text-anchor="middle">8</text>
<text class="t" transform="translate(689.9,1481.6) scale(0.92,1)" font-family="Liberation Serif" font-size="25" font-weight="normal" fill="#262626" text-anchor="middle">0</text>
<text class="t" transform="translate(702.8,1481.6) scale(0.92,1)" font-family="Liberation Serif" font-size="25" font-weight="normal" fill="#262626" text-anchor="middle">0</text>
<text class="t" transform="translate(817.7,1481.6) scale(0.92,1)" font-family="Liberation Serif" font-size="25" font-weight="normal" fill="#262626" text-anchor="middle">1</text>
<text class="t" transform="translate(830.6,1481.6) scale(0.92,1)" font-family="Liberation Serif" font-size="25" font-weight="normal" fill="#262626" text-anchor="middle">0</text>
<text class="t" transform="translate(843.6,1481.6) scale(0.92,1)" font-family="Liberation Serif" font-size="25" font-weight="normal" fill="#262626" text-anchor="middle">0</text>
<text class="t" transform="translate(856.5,1481.6) scale(0.92,1)" font-family="Liberation Serif" font-size="25" font-weight="normal" fill="#262626" text-anchor="middle">0</text>
<line x1="837.10" y1="1441.60" x2="849.10" y2="1441.60" stroke="#1a1a1a" stroke-width="1.7"/>
<text class="t" transform="translate(862.7,1450.6) scale(0.92,1)" font-family="Liberation Serif" font-size="25" font-weight="normal" fill="#262626" text-anchor="middle">0</text>
<line x1="837.10" y1="1376.47" x2="843.10" y2="1376.47" stroke="#1a1a1a" stroke-width="1.7"/>
<line x1="837.10" y1="1311.33" x2="849.10" y2="1311.33" stroke="#1a1a1a" stroke-width="1.7"/>
<text class="t" transform="translate(862.7,1320.3) scale(0.92,1)" font-family="Liberation Serif" font-size="25" font-weight="normal" fill="#262626" text-anchor="middle">1</text>
<text class="t" transform="translate(875.7,1320.3) scale(0.92,1)" font-family="Liberation Serif" font-size="25" font-weight="normal" fill="#262626" text-anchor="middle">0</text>
<text class="t" transform="translate(888.6,1320.3) scale(0.92,1)" font-family="Liberation Serif" font-size="25" font-weight="normal" fill="#262626" text-anchor="middle">0</text>
<text class="t" transform="translate(901.6,1320.3) scale(0.92,1)" font-family="Liberation Serif" font-size="25" font-weight="normal" fill="#262626" text-anchor="middle">0</text>
<line x1="837.10" y1="1246.20" x2="843.10" y2="1246.20" stroke="#1a1a1a" stroke-width="1.7"/>
<line x1="837.10" y1="1181.07" x2="849.10" y2="1181.07" stroke="#1a1a1a" stroke-width="1.7"/>
<text class="t" transform="translate(862.7,1190.1) scale(0.92,1)" font-family="Liberation Serif" font-size="25" font-weight="normal" fill="#262626" text-anchor="middle">2</text>
<text class="t" transform="translate(875.7,1190.1) scale(0.92,1)" font-family="Liberation Serif" font-size="25" font-weight="normal" fill="#262626" text-anchor="middle">0</text>
<text class="t" transform="translate(888.6,1190.1) scale(0.92,1)" font-family="Liberation Serif" font-size="25" font-weight="normal" fill="#262626" text-anchor="middle">0</text>
<text class="t" transform="translate(901.6,1190.1) scale(0.92,1)" font-family="Liberation Serif" font-size="25" font-weight="normal" fill="#262626" text-anchor="middle">0</text>
<line x1="837.10" y1="1115.93" x2="843.10" y2="1115.93" stroke="#1a1a1a" stroke-width="1.7"/>
<line x1="837.10" y1="1050.80" x2="849.10" y2="1050.80" stroke="#1a1a1a" stroke-width="1.7"/>
<text class="t" transform="translate(862.7,1059.8) scale(0.92,1)" font-family="Liberation Serif" font-size="25" font-weight="normal" fill="#262626" text-anchor="middle">3</text>
<text class="t" transform="translate(875.7,1059.8) scale(0.92,1)" font-family="Liberation Serif" font-size="25" font-weight="normal" fill="#262626" text-anchor="middle">0</text>
<text class="t" transform="translate(888.6,1059.8) scale(0.92,1)" font-family="Liberation Serif" font-size="25" font-weight="normal" fill="#262626" text-anchor="middle">0</text>
<text class="t" transform="translate(901.6,1059.8) scale(0.92,1)" font-family="Liberation Serif" font-size="25" font-weight="normal" fill="#262626" text-anchor="middle">0</text>
<line x1="837.10" y1="985.67" x2="843.10" y2="985.67" stroke="#1a1a1a" stroke-width="1.7"/>
<line x1="837.10" y1="920.53" x2="849.10" y2="920.53" stroke="#1a1a1a" stroke-width="1.7"/>
<text class="t" transform="translate(862.7,929.5) scale(0.92,1)" font-family="Liberation Serif" font-size="25" font-weight="normal" fill="#262626" text-anchor="middle">4</text>
<text class="t" transform="translate(875.7,929.5) scale(0.92,1)" font-family="Liberation Serif" font-size="25" font-weight="normal" fill="#262626" text-anchor="middle">0</text>
<text class="t" transform="translate(888.6,929.5) scale(0.92,1)" font-family="Liberation Serif" font-size="25" font-weight="normal" fill="#262626" text-anchor="middle">0</text>
<text class="t" transform="translate(901.6,929.5) scale(0.92,1)" font-family="Liberation Serif" font-size="25" font-weight="normal" fill="#262626" text-anchor="middle">0</text>
<line x1="837.10" y1="855.40" x2="843.10" y2="855.40" stroke="#1a1a1a" stroke-width="1.7"/>
<text class="t" transform="translate(25.0,1243.8) rotate(-90) scale(0.95,1)" font-family="Liberation Serif" fill="#262626" font-size="30" text-anchor="middle">C</text>
<text class="t" transform="translate(25.0,1225.2) rotate(-90) scale(0.95,1)" font-family="Liberation Serif" fill="#262626" font-size="30" text-anchor="middle">a</text>
<text class="t" transform="translate(25.0,1209.4) rotate(-90) scale(0.95,1)" font-family="Liberation Serif" fill="#262626" font-size="30" text-anchor="middle">p</text>
<text class="t" transform="translate(25.0,1193.2) rotate(-90) scale(0.95,1)" font-family="Liberation Serif" fill="#262626" font-size="30" text-anchor="middle">a</text>
<text class="t" transform="translate(25.0,1177.0) rotate(-90) scale(0.95,1)" font-family="Liberation Serif" fill="#262626" font-size="30" text-anchor="middle">c</text>
<text class="t" transform="translate(25.0,1162.2) rotate(-90) scale(0.95,1)" font-family="Liberation Serif" fill="#262626" font-size="30" text-anchor="middle">i</text>
<text class="t" transform="translate(25.0,1146.6) rotate(-90) scale(0.95,1)" font-family="Liberation Serif" fill="#262626" font-size="30" text-anchor="middle">t</text>
<text class="t" transform="translate(25.0,1132.2) rotate(-90) scale(0.95,1)" font-family="Liberation Serif" fill="#262626" font-size="30" text-anchor="middle">y</text>
<text class="t" transform="translate(25.0,1098.9) rotate(-90) scale(0.95,1)" font-family="Liberation Serif" fill="#262626" font-size="30" text-anchor="middle">(</text>
<text class="t" transform="translate(25.0,1087.6) rotate(-90) scale(0.95,1)" font-family="Liberation Serif" fill="#262626" font-size="30" text-anchor="middle">A</text>
<text class="t" transform="translate(25.0,1070.9) rotate(-90) scale(0.95,1)" font-family="Liberation Serif" fill="#262626" font-size="30" text-anchor="middle">h</text>
<text class="t" transform="translate(25.0,1059.4) rotate(-90) scale(0.95,1)" font-family="Liberation Serif" fill="#262626" font-size="30" text-anchor="middle">)</text>
<text class="t" transform="translate(437.5,1522.9) scale(0.95,1)" font-family="Liberation Serif" fill="#262626" font-size="30" text-anchor="middle">C</text>
<text class="t" transform="translate(453.4,1522.9) scale(0.95,1)" font-family="Liberation Serif" fill="#262626" font-size="30" text-anchor="middle">y</text>
<text class="t" transform="translate(469.3,1522.9) scale(0.95,1)" font-family="Liberation Serif" fill="#262626" font-size="30" text-anchor="middle">c</text>
<text class="t" transform="translate(485.2,1522.9) scale(0.95,1)" font-family="Liberation Serif" fill="#262626" font-size="30" text-anchor="middle">l</text>
<text class="t" transform="translate(501.1,1522.9) scale(0.95,1)" font-family="Liberation Serif" fill="#262626" font-size="30" text-anchor="middle">e</text>
<text x="463.7" y="1587.8" text-anchor="middle" fill="#000"><tspan font-family="Liberation Sans" font-weight="bold" font-size="37.5">(b)</tspan><tspan font-family="Liberation Serif" font-size="38"> CVCT</tspan></text>
<text class="t" transform="translate(939.0,1378.8) rotate(-90) scale(0.95,1)" font-family="Liberation Serif" fill="#262626" font-size="30" text-anchor="middle">C</text>
<text class="t" transform="translate(939.0,1363.5) rotate(-90) scale(0.95,1)" font-family="Liberation Serif" fill="#262626" font-size="30" text-anchor="middle">o</text>
<text class="t" transform="translate(939.0,1348.2) rotate(-90) scale(0.95,1)" font-family="Liberation Serif" fill="#262626" font-size="30" text-anchor="middle">n</text>
<text class="t" transform="translate(939.0,1332.9) rotate(-90) scale(0.95,1)" font-family="Liberation Serif" fill="#262626" font-size="30" text-anchor="middle">s</text>
<text class="t" transform="translate(939.0,1317.6) rotate(-90) scale(0.95,1)" font-family="Liberation Serif" fill="#262626" font-size="30" text-anchor="middle">t</text>
<text class="t" transform="translate(939.0,1302.3) rotate(-90) scale(0.95,1)" font-family="Liberation Serif" fill="#262626" font-size="30" text-anchor="middle">a</text>
<text class="t" transform="translate(939.0,1287.1) rotate(-90) scale(0.95,1)" font-family="Liberation Serif" fill="#262626" font-size="30" text-anchor="middle">n</text>
<text class="t" transform="translate(939.0,1271.8) rotate(-90) scale(0.95,1)" font-family="Liberation Serif" fill="#262626" font-size="30" text-anchor="middle">t</text>
<text class="t" transform="translate(939.0,1241.2) rotate(-90) scale(0.95,1)" font-family="Liberation Serif" fill="#262626" font-size="30" text-anchor="middle">v</text>
<text class="t" transform="translate(939.0,1225.9) rotate(-90) scale(0.95,1)" font-family="Liberation Serif" fill="#262626" font-size="30" text-anchor="middle">o</text>
<text class="t" transform="translate(939.0,1210.6) rotate(-90) scale(0.95,1)" font-family="Liberation Serif" fill="#262626" font-size="30" text-anchor="middle">l</text>
<text class="t" transform="translate(939.0,1195.3) rotate(-90) scale(0.95,1)" font-family="Liberation Serif" fill="#262626" font-size="30" text-anchor="middle">t</text>
<text class="t" transform="translate(939.0,1180.0) rotate(-90) scale(0.95,1)" font-family="Liberation Serif" fill="#262626" font-size="30" text-anchor="middle">a</text>
<text class="t" transform="translate(939.0,1164.7) rotate(-90) scale(0.95,1)" font-family="Liberation Serif" fill="#262626" font-size="30" text-anchor="middle">g</text>
<text class="t" transform="translate(939.0,1149.5) rotate(-90) scale(0.95,1)" font-family="Liberation Serif" fill="#262626" font-size="30" text-anchor="middle">e</text>
<text class="t" transform="translate(939.0,1118.9) rotate(-90) scale(0.95,1)" font-family="Liberation Serif" fill="#262626" font-size="30" text-anchor="middle">c</text>
<text class="t" transform="translate(939.0,1103.6) rotate(-90) scale(0.95,1)" font-family="Liberation Serif" fill="#262626" font-size="30" text-anchor="middle">h</text>
<text class="t" transform="translate(939.0,1088.3) rotate(-90) scale(0.95,1)" font-family="Liberation Serif" fill="#262626" font-size="30" text-anchor="middle">a</text>
<text class="t" transform="translate(939.0,1073.0) rotate(-90) scale(0.95,1)" font-family="Liberation Serif" fill="#262626" font-size="30" text-anchor="middle">r</text>
<text class="t" transform="translate(939.0,1057.7) rotate(-90) scale(0.95,1)" font-family="Liberation Serif" fill="#262626" font-size="30" text-anchor="middle">g</text>
<text class="t" transform="translate(939.0,1042.4) rotate(-90) scale(0.95,1)" font-family="Liberation Serif" fill="#262626" font-size="30" text-anchor="middle">e</text>
<text class="t" transform="translate(939.0,1011.8) rotate(-90) scale(0.95,1)" font-family="Liberation Serif" fill="#262626" font-size="30" text-anchor="middle">t</text>
<text class="t" transform="translate(939.0,996.5) rotate(-90) scale(0.95,1)" font-family="Liberation Serif" fill="#262626" font-size="30" text-anchor="middle">i</text>
<text class="t" transform="translate(939.0,981.3) rotate(-90) scale(0.95,1)" font-family="Liberation Serif" fill="#262626" font-size="30" text-anchor="middle">m</text>
<text class="t" transform="translate(939.0,966.0) rotate(-90) scale(0.95,1)" font-family="Liberation Serif" fill="#262626" font-size="30" text-anchor="middle">e</text>
<text class="t" transform="translate(939.0,935.4) rotate(-90) scale(0.95,1)" font-family="Liberation Serif" fill="#262626" font-size="30" text-anchor="middle">(</text>
<text class="t" transform="translate(939.0,920.1) rotate(-90) scale(0.95,1)" font-family="Liberation Serif" fill="#262626" font-size="30" text-anchor="middle">s</text>
<text class="t" transform="translate(939.0,904.8) rotate(-90) scale(0.95,1)" font-family="Liberation Serif" fill="#262626" font-size="30" text-anchor="middle">)</text>
<path d="M134.3 1367.8H145.8V1378.9H134.3z" fill="#000"/>
<path d="M139.8 1403.3l8.0 12.7h-16.0z" fill="#f00"/>
<text class="t" transform="translate(200.0,1384.0) scale(0.95,1)" font-family="Liberation Serif" fill="#262626" font-size="34.5" text-anchor="middle">C</text>
<text class="t" transform="translate(217.3,1384.0) scale(0.95,1)" font-family="Liberation Serif" fill="#262626" font-size="34.5" text-anchor="middle">a</text>
<text class="t" transform="translate(234.6,1384.0) scale(0.95,1)" font-family="Liberation Serif" fill="#262626" font-size="34.5" text-anchor="middle">p</text>
<text class="t" transform="translate(251.9,1384.0) scale(0.95,1)" font-family="Liberation Serif" fill="#262626" font-size="34.5" text-anchor="middle">a</text>
<text class="t" transform="translate(269.2,1384.0) scale(0.95,1)" font-family="Liberation Serif" fill="#262626" font-size="34.5" text-anchor="middle">c</text>
<text class="t" transform="translate(286.5,1384.0) scale(0.95,1)" font-family="Liberation Serif" fill="#262626" font-size="34.5" text-anchor="middle">i</text>
<text class="t" transform="translate(303.8,1384.0) scale(0.95,1)" font-family="Liberation Serif" fill="#262626" font-size="34.5" text-anchor="middle">t</text>
<text class="t" transform="translate(321.1,1384.0) scale(0.95,1)" font-family="Liberation Serif" fill="#262626" font-size="34.5" text-anchor="middle">y</text>
<text class="t" transform="translate(200.0,1422.9) scale(0.95,1)" font-family="Liberation Serif" fill="#262626" font-size="34.5" text-anchor="middle">H</text>
<text class="t" transform="translate(217.3,1422.9) scale(0.95,1)" font-family="Liberation Serif" fill="#262626" font-size="34.5" text-anchor="middle">I</text>
<text class="t" transform="translate(234.6,1422.9) scale(0.95,1)" font-family="Liberation Serif" fill="#262626" font-size="34.5" text-anchor="middle">2</text>
<line x1="89.00" y1="1700.40" x2="837.30" y2="1700.40" stroke="#1a1a1a" stroke-width="1.7"/>
<line x1="101.00" y1="1700.40" x2="101.00" y2="2299.10" stroke="#1a1a1a" stroke-width="1.7"/>
<line x1="89.00" y1="2287.60" x2="837.30" y2="2287.60" stroke="#1a1a1a" stroke-width="1.7"/>
<line x1="837.30" y1="1700.40" x2="837.30" y2="2299.10" stroke="#1a1a1a" stroke-width="1.7"/>
<line x1="95.00" y1="2238.67" x2="101.00" y2="2238.67" stroke="#1a1a1a" stroke-width="1.7"/>
<line x1="89.00" y1="2189.73" x2="101.00" y2="2189.73" stroke="#1a1a1a" stroke-width="1.7"/>
<line x1="95.00" y1="2140.80" x2="101.00" y2="2140.80" stroke="#1a1a1a" stroke-width="1.7"/>
<line x1="89.00" y1="2091.87" x2="101.00" y2="2091.87" stroke="#1a1a1a" stroke-width="1.7"/>
<line x1="95.00" y1="2042.93" x2="101.00" y2="2042.93" stroke="#1a1a1a" stroke-width="1.7"/>
<line x1="89.00" y1="1994.00" x2="101.00" y2="1994.00" stroke="#1a1a1a" stroke-width="1.7"/>
<line x1="95.00" y1="1945.07" x2="101.00" y2="1945.07" stroke="#1a1a1a" stroke-width="1.7"/>
<line x1="89.00" y1="1896.13" x2="101.00" y2="1896.13" stroke="#1a1a1a" stroke-width="1.7"/>
<line x1="95.00" y1="1847.20" x2="101.00" y2="1847.20" stroke="#1a1a1a" stroke-width="1.7"/>
<line x1="89.00" y1="1798.27" x2="101.00" y2="1798.27" stroke="#1a1a1a" stroke-width="1.7"/>
<line x1="95.00" y1="1749.33" x2="101.00" y2="1749.33" stroke="#1a1a1a" stroke-width="1.7"/>
<line x1="174.63" y1="2287.60" x2="174.63" y2="2293.60" stroke="#1a1a1a" stroke-width="1.7"/>
<line x1="248.26" y1="2287.60" x2="248.26" y2="2299.10" stroke="#1a1a1a" stroke-width="1.7"/>
<line x1="321.89" y1="2287.60" x2="321.89" y2="2293.60" stroke="#1a1a1a" stroke-width="1.7"/>
<line x1="395.52" y1="2287.60" x2="395.52" y2="2299.10" stroke="#1a1a1a" stroke-width="1.7"/>
<line x1="469.15" y1="2287.60" x2="469.15" y2="2293.60" stroke="#1a1a1a" stroke-width="1.7"/>
<line x1="542.78" y1="2287.60" x2="542.78" y2="2299.10" stroke="#1a1a1a" stroke-width="1.7"/>
<line x1="616.41" y1="2287.60" x2="616.41" y2="2293.60" stroke="#1a1a1a" stroke-width="1.7"/>
<line x1="690.04" y1="2287.60" x2="690.04" y2="2299.10" stroke="#1a1a1a" stroke-width="1.7"/>
<line x1="763.67" y1="2287.60" x2="763.67" y2="2293.60" stroke="#1a1a1a" stroke-width="1.7"/>
<text class="t" transform="translate(48.8,2297.1) scale(0.92,1)" font-family="Liberation Serif" font-size="25" font-weight="normal" fill="#262626" text-anchor="middle">0</text>
<text class="t" transform="translate(58.8,2297.1) scale(0.92,1)" font-family="Liberation Serif" font-size="25" font-weight="normal" fill="#262626" text-anchor="middle">.</text>
<text class="t" transform="translate(75.2,2297.1) scale(0.92,1)" font-family="Liberation Serif" font-size="25" font-weight="normal" fill="#262626" text-anchor="middle">0</text>
<text class="t" transform="translate(48.8,2199.2) scale(0.92,1)" font-family="Liberation Serif" font-size="25" font-weight="normal" fill="#262626" text-anchor="middle">0</text>
<text class="t" transform="translate(58.8,2199.2) scale(0.92,1)" font-family="Liberation Serif" font-size="25" font-weight="normal" fill="#262626" text-anchor="middle">.</text>
<text class="t" transform="translate(75.2,2199.2) scale(0.92,1)" font-family="Liberation Serif" font-size="25" font-weight="normal" fill="#262626" text-anchor="middle">2</text>
<text class="t" transform="translate(48.8,2101.4) scale(0.92,1)" font-family="Liberation Serif" font-size="25" font-weight="normal" fill="#262626" text-anchor="middle">0</text>
<text class="t" transform="translate(58.8,2101.4) scale(0.92,1)" font-family="Liberation Serif" font-size="25" font-weight="normal" fill="#262626" text-anchor="middle">.</text>
<text class="t" transform="translate(75.2,2101.4) scale(0.92,1)" font-family="Liberation Serif" font-size="25" font-weight="normal" fill="#262626" text-anchor="middle">4</text>
<text class="t" transform="translate(48.8,2003.5) scale(0.92,1)" font-family="Liberation Serif" font-size="25" font-weight="normal" fill="#262626" text-anchor="middle">0</text>
<text class="t" transform="translate(58.8,2003.5) scale(0.92,1)" font-family="Liberation Serif" font-size="25" font-weight="normal" fill="#262626" text-anchor="middle">.</text>
<text class="t" transform="translate(75.2,2003.5) scale(0.92,1)" font-family="Liberation Serif" font-size="25" font-weight="normal" fill="#262626" text-anchor="middle">6</text>
<text class="t" transform="translate(48.8,1905.6) scale(0.92,1)" font-family="Liberation Serif" font-size="25" font-weight="normal" fill="#262626" text-anchor="middle">0</text>
<text class="t" transform="translate(58.8,1905.6) scale(0.92,1)" font-family="Liberation Serif" font-size="25" font-weight="normal" fill="#262626" text-anchor="middle">.</text>
<text class="t" transform="translate(75.2,1905.6) scale(0.92,1)" font-family="Liberation Serif" font-size="25" font-weight="normal" fill="#262626" text-anchor="middle">8</text>
<text class="t" transform="translate(48.8,1807.8) scale(0.92,1)" font-family="Liberation Serif" font-size="25" font-weight="normal" fill="#262626" text-anchor="middle">1</text>
<text class="t" transform="translate(58.8,1807.8) scale(0.92,1)" font-family="Liberation Serif" font-size="25" font-weight="normal" fill="#262626" text-anchor="middle">.</text>
<text class="t" transform="translate(75.2,1807.8) scale(0.92,1)" font-family="Liberation Serif" font-size="25" font-weight="normal" fill="#262626" text-anchor="middle">0</text>
<text class="t" transform="translate(48.8,1709.9) scale(0.92,1)" font-family="Liberation Serif" font-size="25" font-weight="normal" fill="#262626" text-anchor="middle">1</text>
<text class="t" transform="translate(58.8,1709.9) scale(0.92,1)" font-family="Liberation Serif" font-size="25" font-weight="normal" fill="#262626" text-anchor="middle">.</text>
<text class="t" transform="translate(75.2,1709.9) scale(0.92,1)" font-family="Liberation Serif" font-size="25" font-weight="normal" fill="#262626" text-anchor="middle">2</text>
<text class="t" transform="translate(101.0,2327.6) scale(0.92,1)" font-family="Liberation Serif" font-size="25" font-weight="normal" fill="#262626" text-anchor="middle">0</text>
<text class="t" transform="translate(235.3,2327.6) scale(0.92,1)" font-family="Liberation Serif" font-size="25" font-weight="normal" fill="#262626" text-anchor="middle">2</text>
<text class="t" transform="translate(248.3,2327.6) scale(0.92,1)" font-family="Liberation Serif" font-size="25" font-weight="normal" fill="#262626" text-anchor="middle">0</text>
<text class="t" transform="translate(261.2,2327.6) scale(0.92,1)" font-family="Liberation Serif" font-size="25" font-weight="normal" fill="#262626" text-anchor="middle">0</text>
<text class="t" transform="translate(382.6,2327.6) scale(0.92,1)" font-family="Liberation Serif" font-size="25" font-weight="normal" fill="#262626" text-anchor="middle">4</text>
<text class="t" transform="translate(395.5,2327.6) scale(0.92,1)" font-family="Liberation Serif" font-size="25" font-weight="normal" fill="#262626" text-anchor="middle">0</text>
<text class="t" transform="translate(408.5,2327.6) scale(0.92,1)" font-family="Liberation Serif" font-size="25" font-weight="normal" fill="#262626" text-anchor="middle">0</text>
<text class="t" transform="translate(529.8,2327.6) scale(0.92,1)" font-family="Liberation Serif" font-size="25" font-weight="normal" fill="#262626" text-anchor="middle">6</text>
<text class="t" transform="translate(542.8,2327.6) scale(0.92,1)" font-family="Liberation Serif" font-size="25" font-weight="normal" fill="#262626" text-anchor="middle">0</text>
<text class="t" transform="translate(555.7,2327.6) scale(0.92,1)" font-family="Liberation Serif" font-size="25" font-weight="normal" fill="#262626" text-anchor="middle">0</text>
<text class="t" transform="translate(677.1,2327.6) scale(0.92,1)" font-family="Liberation Serif" font-size="25" font-weight="normal" fill="#262626" text-anchor="middle">8</text>
<text class="t" transform="translate(690.0,2327.6) scale(0.92,1)" font-family="Liberation Serif" font-size="25" font-weight="normal" fill="#262626" text-anchor="middle">0</text>
<text class="t" transform="translate(703.0,2327.6) scale(0.92,1)" font-family="Liberation Serif" font-size="25" font-weight="normal" fill="#262626" text-anchor="middle">0</text>
<text class="t" transform="translate(817.9,2327.6) scale(0.92,1)" font-family="Liberation Serif" font-size="25" font-weight="normal" fill="#262626" text-anchor="middle">1</text>
<text class="t" transform="translate(830.8,2327.6) scale(0.92,1)" font-family="Liberation Serif" font-size="25" font-weight="normal" fill="#262626" text-anchor="middle">0</text>
<text class="t" transform="translate(843.8,2327.6) scale(0.92,1)" font-family="Liberation Serif" font-size="25" font-weight="normal" fill="#262626" text-anchor="middle">0</text>
<text class="t" transform="translate(856.7,2327.6) scale(0.92,1)" font-family="Liberation Serif" font-size="25" font-weight="normal" fill="#262626" text-anchor="middle">0</text>
<line x1="837.30" y1="2157.11" x2="849.30" y2="2157.11" stroke="#1a1a1a" stroke-width="1.7"/>
<path d="M856.5 2157.7H868.5" stroke="#262626" stroke-width="1.3"/>
<text class="t" transform="translate(875.0,2166.1) scale(0.92,1)" font-family="Liberation Serif" font-size="24.5" font-weight="normal" fill="#262626" text-anchor="middle">1</text>
<text class="t" transform="translate(887.2,2166.1) scale(0.92,1)" font-family="Liberation Serif" font-size="24.5" font-weight="normal" fill="#262626" text-anchor="middle">0</text>
<line x1="837.30" y1="1994.00" x2="843.30" y2="1994.00" stroke="#1a1a1a" stroke-width="1.7"/>
<line x1="837.30" y1="1830.89" x2="849.30" y2="1830.89" stroke="#1a1a1a" stroke-width="1.7"/>
<path d="M856.5 1831.5H868.5" stroke="#262626" stroke-width="1.3"/>
<text class="t" transform="translate(875.0,1839.9) scale(0.92,1)" font-family="Liberation Serif" font-size="24.5" font-weight="normal" fill="#262626" text-anchor="middle">5</text>
<text class="t" transform="translate(25.0,2089.2) rotate(-90) scale(0.95,1)" font-family="Liberation Serif" fill="#262626" font-size="30" text-anchor="middle">C</text>
<text class="t" transform="translate(25.0,2070.7) rotate(-90) scale(0.95,1)" font-family="Liberation Serif" fill="#262626" font-size="30" text-anchor="middle">a</text>
<text class="t" transform="translate(25.0,2054.8) rotate(-90) scale(0.95,1)" font-family="Liberation Serif" fill="#262626" font-size="30" text-anchor="middle">p</text>
<text class="t" transform="translate(25.0,2038.7) rotate(-90) scale(0.95,1)" font-family="Liberation Serif" fill="#262626" font-size="30" text-anchor="middle">a</text>
<text class="t" transform="translate(25.0,2022.5) rotate(-90) scale(0.95,1)" font-family="Liberation Serif" fill="#262626" font-size="30" text-anchor="middle">c</text>
<text class="t" transform="translate(25.0,2007.7) rotate(-90) scale(0.95,1)" font-family="Liberation Serif" fill="#262626" font-size="30" text-anchor="middle">i</text>
<text class="t" transform="translate(25.0,1992.1) rotate(-90) scale(0.95,1)" font-family="Liberation Serif" fill="#262626" font-size="30" text-anchor="middle">t</text>
<text class="t" transform="translate(25.0,1977.7) rotate(-90) scale(0.95,1)" font-family="Liberation Serif" fill="#262626" font-size="30" text-anchor="middle">y</text>
<text class="t" transform="translate(25.0,1944.4) rotate(-90) scale(0.95,1)" font-family="Liberation Serif" fill="#262626" font-size="30" text-anchor="middle">(</text>
<text class="t" transform="translate(25.0,1933.1) rotate(-90) scale(0.95,1)" font-family="Liberation Serif" fill="#262626" font-size="30" text-anchor="middle">A</text>
<text class="t" transform="translate(25.0,1916.4) rotate(-90) scale(0.95,1)" font-family="Liberation Serif" fill="#262626" font-size="30" text-anchor="middle">h</text>
<text class="t" transform="translate(25.0,1904.9) rotate(-90) scale(0.95,1)" font-family="Liberation Serif" fill="#262626" font-size="30" text-anchor="middle">)</text>
<text class="t" transform="translate(437.5,2368.9) scale(0.95,1)" font-family="Liberation Serif" fill="#262626" font-size="30" text-anchor="middle">C</text>
<text class="t" transform="translate(453.4,2368.9) scale(0.95,1)" font-family="Liberation Serif" fill="#262626" font-size="30" text-anchor="middle">y</text>
<text class="t" transform="translate(469.3,2368.9) scale(0.95,1)" font-family="Liberation Serif" fill="#262626" font-size="30" text-anchor="middle">c</text>
<text class="t" transform="translate(485.2,2368.9) scale(0.95,1)" font-family="Liberation Serif" fill="#262626" font-size="30" text-anchor="middle">l</text>
<text class="t" transform="translate(501.1,2368.9) scale(0.95,1)" font-family="Liberation Serif" fill="#262626" font-size="30" text-anchor="middle">e</text>
<text x="463.7" y="2435.3" text-anchor="middle" fill="#000"><tspan font-family="Liberation Sans" font-weight="bold" font-size="37.5">(c)</tspan><tspan font-family="Liberation Serif" font-size="38"> DVDT</tspan></text>
<text class="t" transform="translate(927.0,2180.0) rotate(-90) scale(0.95,1)" font-family="Liberation Serif" fill="#262626" font-size="30" text-anchor="middle">V</text>
<text class="t" transform="translate(927.0,2164.9) rotate(-90) scale(0.95,1)" font-family="Liberation Serif" fill="#262626" font-size="30" text-anchor="middle">o</text>
<text class="t" transform="translate(927.0,2149.8) rotate(-90) scale(0.95,1)" font-family="Liberation Serif" fill="#262626" font-size="30" text-anchor="middle">l</text>
<text class="t" transform="translate(927.0,2134.7) rotate(-90) scale(0.95,1)" font-family="Liberation Serif" fill="#262626" font-size="30" text-anchor="middle">t</text>
<text class="t" transform="translate(927.0,2119.6) rotate(-90) scale(0.95,1)" font-family="Liberation Serif" fill="#262626" font-size="30" text-anchor="middle">a</text>
<text class="t" transform="translate(927.0,2104.5) rotate(-90) scale(0.95,1)" font-family="Liberation Serif" fill="#262626" font-size="30" text-anchor="middle">g</text>
<text class="t" transform="translate(927.0,2089.4) rotate(-90) scale(0.95,1)" font-family="Liberation Serif" fill="#262626" font-size="30" text-anchor="middle">e</text>
<text class="t" transform="translate(927.0,2059.2) rotate(-90) scale(0.95,1)" font-family="Liberation Serif" fill="#262626" font-size="30" text-anchor="middle">c</text>
<text class="t" transform="translate(927.0,2044.1) rotate(-90) scale(0.95,1)" font-family="Liberation Serif" fill="#262626" font-size="30" text-anchor="middle">h</text>
<text class="t" transform="translate(927.0,2029.0) rotate(-90) scale(0.95,1)" font-family="Liberation Serif" fill="#262626" font-size="30" text-anchor="middle">a</text>
<text class="t" transform="translate(927.0,2013.9) rotate(-90) scale(0.95,1)" font-family="Liberation Serif" fill="#262626" font-size="30" text-anchor="middle">n</text>
<text class="t" transform="translate(927.0,1998.8) rotate(-90) scale(0.95,1)" font-family="Liberation Serif" fill="#262626" font-size="30" text-anchor="middle">g</text>
<text class="t" transform="translate(927.0,1983.7) rotate(-90) scale(0.95,1)" font-family="Liberation Serif" fill="#262626" font-size="30" text-anchor="middle">e</text>
<text class="t" transform="translate(927.0,1953.5) rotate(-90) scale(0.95,1)" font-family="Liberation Serif" fill="#262626" font-size="30" text-anchor="middle">r</text>
<text class="t" transform="translate(927.0,1938.4) rotate(-90) scale(0.95,1)" font-family="Liberation Serif" fill="#262626" font-size="30" text-anchor="middle">a</text>
<text class="t" transform="translate(927.0,1923.3) rotate(-90) scale(0.95,1)" font-family="Liberation Serif" fill="#262626" font-size="30" text-anchor="middle">t</text>
<text class="t" transform="translate(927.0,1908.2) rotate(-90) scale(0.95,1)" font-family="Liberation Serif" fill="#262626" font-size="30" text-anchor="middle">e</text>
<text class="t" transform="translate(927.0,1878.0) rotate(-90) scale(0.95,1)" font-family="Liberation Serif" fill="#262626" font-size="30" text-anchor="middle">(</text>
<text class="t" transform="translate(927.0,1862.9) rotate(-90) scale(0.95,1)" font-family="Liberation Serif" fill="#262626" font-size="30" text-anchor="middle">d</text>
<text class="t" transform="translate(927.0,1847.8) rotate(-90) scale(0.95,1)" font-family="Liberation Serif" fill="#262626" font-size="30" text-anchor="middle">v</text>
<text class="t" transform="translate(927.0,1832.7) rotate(-90) scale(0.95,1)" font-family="Liberation Serif" fill="#262626" font-size="30" text-anchor="middle">/</text>
<text class="t" transform="translate(927.0,1817.6) rotate(-90) scale(0.95,1)" font-family="Liberation Serif" fill="#262626" font-size="30" text-anchor="middle">d</text>
<text class="t" transform="translate(927.0,1802.5) rotate(-90) scale(0.95,1)" font-family="Liberation Serif" fill="#262626" font-size="30" text-anchor="middle">t</text>
<text class="t" transform="translate(927.0,1787.4) rotate(-90) scale(0.95,1)" font-family="Liberation Serif" fill="#262626" font-size="30" text-anchor="middle">)</text>
<path d="M149.3 2202.3H160.6V2212.8H149.3z" fill="#000"/>
<path d="M155.8 2239.8l7.8 12.7h-15.6z" fill="#f00"/>
<text class="t" transform="translate(219.6,2217.0) scale(0.95,1)" font-family="Liberation Serif" fill="#262626" font-size="35" text-anchor="middle">C</text>
<text class="t" transform="translate(237.4,2217.0) scale(0.95,1)" font-family="Liberation Serif" fill="#262626" font-size="35" text-anchor="middle">a</text>
<text class="t" transform="translate(255.2,2217.0) scale(0.95,1)" font-family="Liberation Serif" fill="#262626" font-size="35" text-anchor="middle">p</text>
<text class="t" transform="translate(273.0,2217.0) scale(0.95,1)" font-family="Liberation Serif" fill="#262626" font-size="35" text-anchor="middle">a</text>
<text class="t" transform="translate(290.8,2217.0) scale(0.95,1)" font-family="Liberation Serif" fill="#262626" font-size="35" text-anchor="middle">c</text>
<text class="t" transform="translate(308.6,2217.0) scale(0.95,1)" font-family="Liberation Serif" fill="#262626" font-size="35" text-anchor="middle">i</text>
<text class="t" transform="translate(326.4,2217.0) scale(0.95,1)" font-family="Liberation Serif" fill="#262626" font-size="35" text-anchor="middle">t</text>
<text class="t" transform="translate(344.2,2217.0) scale(0.95,1)" font-family="Liberation Serif" fill="#262626" font-size="35" text-anchor="middle">y</text>
<text class="t" transform="translate(219.6,2256.3) scale(0.95,1)" font-family="Liberation Serif" fill="#262626" font-size="35" text-anchor="middle">H</text>
<text class="t" transform="translate(237.4,2256.3) scale(0.95,1)" font-family="Liberation Serif" fill="#262626" font-size="35" text-anchor="middle">I</text>
<text class="t" transform="translate(255.2,2256.3) scale(0.95,1)" font-family="Liberation Serif" fill="#262626" font-size="35" text-anchor="middle">3</text>
<path d="M784.2 1673L800.6 1686.5M800.6 1673L784.2 1686.5" stroke="#262626" stroke-width="1.3"/>
<text x="810.6" y="1687.8" font-family="Liberation Serif" font-size="24.7" fill="#262626" text-anchor="middle">1</text>
<text x="823.9" y="1687.8" font-family="Liberation Serif" font-size="24.7" fill="#262626" text-anchor="middle">0</text>
<text x="835.3" y="1677.8" font-family="Liberation Serif" font-size="16" fill="#262626" text-anchor="middle">4</text>
</svg>
</body></html>
